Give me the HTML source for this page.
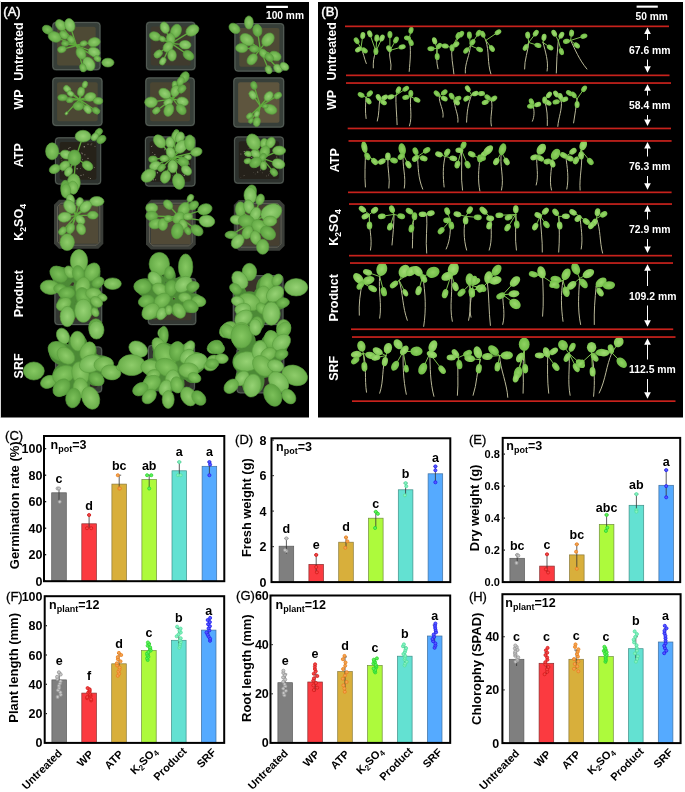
<!DOCTYPE html>
<html><head><meta charset="utf-8"><style>
html,body{margin:0;padding:0;background:#fff;width:685px;height:792px;overflow:hidden;}
svg{display:block;will-change:transform;}
</style></head><body>
<svg width="685" height="792" viewBox="0 0 685 792">
<rect x="0" y="0" width="685" height="792" fill="#ffffff"/>
<rect x="0" y="1" width="1" height="417" fill="#d8d8d8"/>
<rect x="1" y="2" width="308" height="415.5" fill="#000"/>
<rect x="318" y="2" width="365" height="415.5" fill="#000"/>
<rect x="52.1" y="21.8" width="48.6" height="48.6" rx="4" fill="#363e38"/>
<rect x="52.9" y="22.6" width="47.0" height="47.0" rx="3" fill="none" stroke="#59625b" stroke-width="0.9"/>
<rect x="57.1" y="26.8" width="38.6" height="38.6" rx="2" fill="#4e4a35"/>
<rect x="145.8" y="21.6" width="49.9" height="48.8" rx="4" fill="#363e38"/>
<rect x="146.6" y="22.4" width="48.3" height="47.2" rx="3" fill="none" stroke="#59625b" stroke-width="0.9"/>
<rect x="150.8" y="26.6" width="39.9" height="38.8" rx="2" fill="#403b2e"/>
<rect x="234.2" y="22.9" width="50.2" height="48.9" rx="4" fill="#363e38"/>
<rect x="235.0" y="23.7" width="48.6" height="47.3" rx="3" fill="none" stroke="#59625b" stroke-width="0.9"/>
<rect x="239.2" y="27.9" width="40.2" height="38.9" rx="2" fill="#4e4a35"/>
<rect x="52.1" y="77.2" width="50.6" height="49.0" rx="4" fill="#363e38"/>
<rect x="52.9" y="78.0" width="49.0" height="47.4" rx="3" fill="none" stroke="#59625b" stroke-width="0.9"/>
<rect x="57.1" y="82.2" width="40.6" height="39.0" rx="2" fill="#4c4834"/>
<rect x="145.1" y="77.2" width="49.9" height="49.0" rx="4" fill="#363e38"/>
<rect x="145.9" y="78.0" width="48.3" height="47.4" rx="3" fill="none" stroke="#59625b" stroke-width="0.9"/>
<rect x="150.1" y="82.2" width="39.9" height="39.0" rx="2" fill="#4a4532"/>
<rect x="233.1" y="77.2" width="51.3" height="50.6" rx="4" fill="#373f39"/>
<rect x="233.9" y="78.0" width="49.7" height="49.0" rx="3" fill="none" stroke="#59625b" stroke-width="0.9"/>
<rect x="238.1" y="82.2" width="41.3" height="40.6" rx="2" fill="#5e553e"/>
<rect x="54.7" y="137.1" width="46.7" height="47.7" rx="4" fill="#2c312d"/>
<rect x="55.5" y="137.9" width="45.1" height="46.1" rx="3" fill="none" stroke="#59625b" stroke-width="0.9"/>
<rect x="59.7" y="142.1" width="36.7" height="37.7" rx="2" fill="#262219"/>
<rect x="144.7" y="136.2" width="51.0" height="50.6" rx="4" fill="#2c312d"/>
<rect x="145.5" y="137.0" width="49.4" height="49.0" rx="3" fill="none" stroke="#59625b" stroke-width="0.9"/>
<rect x="149.7" y="141.2" width="41.0" height="40.6" rx="2" fill="#25211a"/>
<rect x="233.8" y="136.2" width="50.3" height="47.7" rx="4" fill="#2c312d"/>
<rect x="234.6" y="137.0" width="48.7" height="46.1" rx="3" fill="none" stroke="#59625b" stroke-width="0.9"/>
<rect x="238.8" y="141.2" width="40.3" height="37.7" rx="2" fill="#25211a"/>
<polygon points="59.0,199.7 98.3,199.7 103.3,204.7 103.3,243.7 98.3,248.7 59.0,248.7 54.0,243.7 54.0,204.7" fill="#3a3d38"/>
<polygon points="61.0,203.2 96.3,203.2 99.8,206.7 99.8,241.7 96.3,245.2 61.0,245.2 57.5,241.7 57.5,206.7" fill="none" stroke="#6a685c" stroke-width="0.8"/>
<rect x="59.0" y="204.7" width="39.3" height="39.0" fill="#514a37"/>
<polygon points="151.0,199.7 190.7,199.7 195.7,204.7 195.7,244.4 190.7,249.4 151.0,249.4 146.0,244.4 146.0,204.7" fill="#3a3d38"/>
<polygon points="153.0,203.2 188.7,203.2 192.2,206.7 192.2,242.4 188.7,245.9 153.0,245.9 149.5,242.4 149.5,206.7" fill="none" stroke="#6a685c" stroke-width="0.8"/>
<rect x="151.0" y="204.7" width="39.7" height="39.7" fill="#514a37"/>
<polygon points="238.8,200.1 279.6,200.1 284.6,205.1 284.6,245.7 279.6,250.7 238.8,250.7 233.8,245.7 233.8,205.1" fill="#3a3d38"/>
<polygon points="240.8,203.6 277.6,203.6 281.1,207.1 281.1,243.7 277.6,247.2 240.8,247.2 237.3,243.7 237.3,207.1" fill="none" stroke="#6a685c" stroke-width="0.8"/>
<rect x="238.8" y="205.1" width="40.8" height="40.6" fill="#463f30"/>
<rect x="54.2" y="276.4" width="48.2" height="48.9" rx="4" fill="#333833"/>
<rect x="55.0" y="277.2" width="46.6" height="47.3" rx="3" fill="none" stroke="#59625b" stroke-width="0.9"/>
<rect x="59.2" y="281.4" width="38.2" height="38.9" rx="2" fill="#3a3329"/>
<rect x="147.6" y="277.8" width="48.9" height="47.5" rx="4" fill="#333833"/>
<rect x="148.4" y="278.6" width="47.3" height="45.9" rx="3" fill="none" stroke="#59625b" stroke-width="0.9"/>
<rect x="152.6" y="282.8" width="38.9" height="37.5" rx="2" fill="#3f372c"/>
<rect x="232.6" y="274.9" width="51.1" height="50.4" rx="4" fill="#333833"/>
<rect x="233.4" y="275.7" width="49.5" height="48.8" rx="3" fill="none" stroke="#59625b" stroke-width="0.9"/>
<rect x="237.6" y="279.9" width="41.1" height="40.4" rx="2" fill="#3a3329"/>
<rect x="54.9" y="346.2" width="47.5" height="46.7" rx="4" fill="#333833"/>
<rect x="55.7" y="347.0" width="45.9" height="45.1" rx="3" fill="none" stroke="#59625b" stroke-width="0.9"/>
<rect x="59.9" y="351.2" width="37.5" height="36.7" rx="2" fill="#2e2a24"/>
<rect x="147.7" y="344.7" width="47.5" height="46.7" rx="4" fill="#333833"/>
<rect x="148.5" y="345.5" width="45.9" height="45.1" rx="3" fill="none" stroke="#59625b" stroke-width="0.9"/>
<rect x="152.7" y="349.7" width="37.5" height="36.7" rx="2" fill="#2e2a24"/>
<rect x="236.3" y="346.9" width="48.2" height="46.7" rx="4" fill="#333833"/>
<rect x="237.1" y="347.7" width="46.6" height="45.1" rx="3" fill="none" stroke="#59625b" stroke-width="0.9"/>
<rect x="241.3" y="351.9" width="38.2" height="36.7" rx="2" fill="#2e2a24"/>
<circle cx="69.0" cy="162.5" r="0.4" fill="#a09a8c"/>
<circle cx="77.1" cy="163.8" r="0.5" fill="#6e685e"/>
<circle cx="69.7" cy="151.5" r="0.7" fill="#6e685e"/>
<circle cx="79.5" cy="162.7" r="0.5" fill="#8a8478"/>
<circle cx="68.7" cy="148.5" r="0.7" fill="#6e685e"/>
<circle cx="86.4" cy="167.1" r="0.3" fill="#a09a8c"/>
<circle cx="62.2" cy="170.9" r="0.6" fill="#6e685e"/>
<circle cx="77.1" cy="168.8" r="0.7" fill="#a09a8c"/>
<circle cx="88.0" cy="158.3" r="0.6" fill="#a09a8c"/>
<circle cx="76.1" cy="176.5" r="0.7" fill="#8a8478"/>
<circle cx="61.9" cy="160.8" r="0.4" fill="#a09a8c"/>
<circle cx="75.8" cy="165.5" r="0.4" fill="#a09a8c"/>
<circle cx="89.6" cy="163.6" r="0.5" fill="#6e685e"/>
<circle cx="81.0" cy="175.4" r="0.6" fill="#8a8478"/>
<circle cx="90.4" cy="178.5" r="0.6" fill="#8a8478"/>
<circle cx="84.9" cy="154.8" r="0.5" fill="#a09a8c"/>
<circle cx="80.4" cy="168.6" r="0.4" fill="#a09a8c"/>
<circle cx="70.0" cy="147.5" r="0.5" fill="#a09a8c"/>
<circle cx="95.0" cy="146.3" r="0.6" fill="#6e685e"/>
<circle cx="91.8" cy="143.8" r="0.5" fill="#6e685e"/>
<circle cx="91.0" cy="144.7" r="0.5" fill="#8a8478"/>
<circle cx="73.8" cy="164.0" r="0.5" fill="#6e685e"/>
<circle cx="78.2" cy="178.7" r="0.4" fill="#8a8478"/>
<circle cx="64.5" cy="162.2" r="0.7" fill="#6e685e"/>
<circle cx="70.8" cy="152.5" r="0.6" fill="#6e685e"/>
<circle cx="71.6" cy="177.3" r="0.7" fill="#6e685e"/>
<circle cx="73.8" cy="174.2" r="0.5" fill="#a09a8c"/>
<circle cx="84.3" cy="146.8" r="0.7" fill="#a09a8c"/>
<circle cx="70.1" cy="165.7" r="0.6" fill="#6e685e"/>
<circle cx="75.9" cy="152.3" r="0.4" fill="#6e685e"/>
<circle cx="61.1" cy="157.9" r="0.5" fill="#8a8478"/>
<circle cx="73.8" cy="164.1" r="0.4" fill="#a09a8c"/>
<circle cx="82.5" cy="159.7" r="0.6" fill="#6e685e"/>
<circle cx="81.8" cy="153.1" r="0.5" fill="#a09a8c"/>
<circle cx="62.8" cy="167.2" r="0.7" fill="#6e685e"/>
<circle cx="82.5" cy="153.8" r="0.5" fill="#8a8478"/>
<circle cx="73.3" cy="154.3" r="0.4" fill="#a09a8c"/>
<circle cx="69.9" cy="171.2" r="0.3" fill="#8a8478"/>
<circle cx="94.4" cy="167.5" r="0.4" fill="#a09a8c"/>
<circle cx="68.4" cy="171.8" r="0.4" fill="#8a8478"/>
<circle cx="84.2" cy="166.3" r="0.3" fill="#a09a8c"/>
<circle cx="71.9" cy="155.0" r="0.6" fill="#6e685e"/>
<circle cx="88.8" cy="177.4" r="0.3" fill="#a09a8c"/>
<circle cx="83.3" cy="174.7" r="0.5" fill="#8a8478"/>
<circle cx="88.0" cy="144.3" r="0.7" fill="#6e685e"/>
<circle cx="182.2" cy="174.6" r="0.4" fill="#6e685e"/>
<circle cx="164.0" cy="174.2" r="0.3" fill="#a09a8c"/>
<circle cx="164.2" cy="147.2" r="0.4" fill="#6e685e"/>
<circle cx="168.8" cy="166.7" r="0.4" fill="#a09a8c"/>
<circle cx="166.7" cy="177.7" r="0.4" fill="#8a8478"/>
<circle cx="169.3" cy="174.3" r="0.5" fill="#a09a8c"/>
<circle cx="167.6" cy="178.9" r="0.7" fill="#8a8478"/>
<circle cx="152.0" cy="159.8" r="0.6" fill="#a09a8c"/>
<circle cx="170.9" cy="153.4" r="0.4" fill="#8a8478"/>
<circle cx="184.3" cy="175.3" r="0.7" fill="#8a8478"/>
<circle cx="182.3" cy="143.9" r="0.7" fill="#a09a8c"/>
<circle cx="170.7" cy="149.9" r="0.7" fill="#6e685e"/>
<circle cx="173.2" cy="142.7" r="0.6" fill="#8a8478"/>
<circle cx="170.3" cy="151.4" r="0.3" fill="#a09a8c"/>
<circle cx="166.8" cy="178.4" r="0.5" fill="#6e685e"/>
<circle cx="155.6" cy="179.7" r="0.5" fill="#8a8478"/>
<circle cx="164.4" cy="149.8" r="0.5" fill="#8a8478"/>
<circle cx="157.4" cy="172.8" r="0.7" fill="#8a8478"/>
<circle cx="182.8" cy="142.5" r="0.6" fill="#6e685e"/>
<circle cx="152.6" cy="152.7" r="0.4" fill="#a09a8c"/>
<circle cx="171.0" cy="144.2" r="0.4" fill="#8a8478"/>
<circle cx="184.1" cy="172.1" r="0.3" fill="#8a8478"/>
<circle cx="153.4" cy="179.8" r="0.6" fill="#8a8478"/>
<circle cx="170.8" cy="161.1" r="0.4" fill="#8a8478"/>
<circle cx="164.4" cy="167.2" r="0.5" fill="#6e685e"/>
<circle cx="161.0" cy="180.3" r="0.5" fill="#8a8478"/>
<circle cx="172.4" cy="169.8" r="0.5" fill="#8a8478"/>
<circle cx="172.8" cy="143.9" r="0.5" fill="#a09a8c"/>
<circle cx="181.2" cy="156.9" r="0.6" fill="#a09a8c"/>
<circle cx="185.3" cy="144.2" r="0.6" fill="#a09a8c"/>
<circle cx="163.0" cy="178.9" r="0.5" fill="#8a8478"/>
<circle cx="160.3" cy="162.9" r="0.6" fill="#8a8478"/>
<circle cx="182.0" cy="150.9" r="0.4" fill="#8a8478"/>
<circle cx="187.2" cy="156.6" r="0.7" fill="#6e685e"/>
<circle cx="155.4" cy="168.9" r="0.7" fill="#a09a8c"/>
<circle cx="176.5" cy="176.5" r="0.6" fill="#a09a8c"/>
<circle cx="154.9" cy="154.5" r="0.5" fill="#a09a8c"/>
<circle cx="178.6" cy="160.5" r="0.4" fill="#6e685e"/>
<circle cx="152.4" cy="145.7" r="0.3" fill="#6e685e"/>
<circle cx="157.7" cy="143.1" r="0.6" fill="#8a8478"/>
<circle cx="151.7" cy="146.6" r="0.5" fill="#a09a8c"/>
<circle cx="187.8" cy="164.6" r="0.6" fill="#8a8478"/>
<circle cx="189.6" cy="164.0" r="0.5" fill="#8a8478"/>
<circle cx="154.9" cy="171.1" r="0.7" fill="#8a8478"/>
<circle cx="172.2" cy="175.8" r="0.4" fill="#8a8478"/>
<circle cx="249.1" cy="148.6" r="0.4" fill="#a09a8c"/>
<circle cx="266.6" cy="175.9" r="0.4" fill="#a09a8c"/>
<circle cx="255.0" cy="154.7" r="0.5" fill="#8a8478"/>
<circle cx="254.2" cy="150.6" r="0.7" fill="#a09a8c"/>
<circle cx="276.8" cy="157.0" r="0.5" fill="#a09a8c"/>
<circle cx="265.6" cy="160.7" r="0.5" fill="#a09a8c"/>
<circle cx="255.2" cy="173.9" r="0.4" fill="#6e685e"/>
<circle cx="268.5" cy="174.9" r="0.5" fill="#6e685e"/>
<circle cx="262.3" cy="172.8" r="0.4" fill="#8a8478"/>
<circle cx="245.4" cy="160.6" r="0.7" fill="#a09a8c"/>
<circle cx="260.4" cy="170.0" r="0.6" fill="#6e685e"/>
<circle cx="262.6" cy="163.1" r="0.7" fill="#8a8478"/>
<circle cx="251.6" cy="151.8" r="0.6" fill="#8a8478"/>
<circle cx="246.4" cy="155.1" r="0.4" fill="#8a8478"/>
<circle cx="255.8" cy="167.1" r="0.6" fill="#8a8478"/>
<circle cx="257.7" cy="172.0" r="0.6" fill="#a09a8c"/>
<circle cx="240.9" cy="177.6" r="0.3" fill="#6e685e"/>
<circle cx="269.8" cy="173.7" r="0.3" fill="#8a8478"/>
<circle cx="273.9" cy="165.3" r="0.6" fill="#8a8478"/>
<circle cx="276.5" cy="172.7" r="0.4" fill="#8a8478"/>
<circle cx="269.5" cy="147.1" r="0.5" fill="#a09a8c"/>
<circle cx="272.7" cy="174.3" r="0.4" fill="#8a8478"/>
<circle cx="251.8" cy="157.3" r="0.6" fill="#8a8478"/>
<circle cx="244.3" cy="151.6" r="0.7" fill="#8a8478"/>
<circle cx="253.5" cy="162.9" r="0.6" fill="#8a8478"/>
<circle cx="240.9" cy="154.0" r="0.5" fill="#8a8478"/>
<circle cx="247.8" cy="163.1" r="0.7" fill="#6e685e"/>
<circle cx="244.6" cy="153.6" r="0.7" fill="#8a8478"/>
<circle cx="265.3" cy="146.2" r="0.7" fill="#6e685e"/>
<circle cx="243.5" cy="175.8" r="0.4" fill="#6e685e"/>
<circle cx="268.8" cy="152.8" r="0.6" fill="#a09a8c"/>
<circle cx="276.0" cy="171.4" r="0.3" fill="#6e685e"/>
<circle cx="265.6" cy="161.3" r="0.3" fill="#6e685e"/>
<circle cx="259.3" cy="144.3" r="0.4" fill="#a09a8c"/>
<circle cx="261.5" cy="148.7" r="0.6" fill="#a09a8c"/>
<circle cx="245.5" cy="155.4" r="0.7" fill="#6e685e"/>
<circle cx="244.5" cy="175.5" r="0.4" fill="#6e685e"/>
<circle cx="264.5" cy="165.4" r="0.5" fill="#6e685e"/>
<circle cx="264.6" cy="158.5" r="0.4" fill="#8a8478"/>
<circle cx="266.8" cy="146.0" r="0.4" fill="#a09a8c"/>
<circle cx="260.6" cy="168.6" r="0.4" fill="#6e685e"/>
<circle cx="250.2" cy="144.1" r="0.4" fill="#6e685e"/>
<circle cx="259.1" cy="151.0" r="0.6" fill="#6e685e"/>
<circle cx="273.3" cy="175.9" r="0.5" fill="#8a8478"/>
<circle cx="253.3" cy="172.4" r="0.3" fill="#6e685e"/>
<defs><radialGradient id="lg0"><stop offset="0" stop-color="#86c862"/><stop offset="1" stop-color="#64aa46"/></radialGradient><radialGradient id="lg1"><stop offset="0" stop-color="#8ecc6a"/><stop offset="1" stop-color="#6aae4a"/></radialGradient><radialGradient id="lg2"><stop offset="0" stop-color="#7cc05a"/><stop offset="1" stop-color="#5ca240"/></radialGradient><radialGradient id="lg3"><stop offset="0" stop-color="#96d274"/><stop offset="1" stop-color="#70b452"/></radialGradient><radialGradient id="sg0"><stop offset="0" stop-color="#9ad86c"/><stop offset="1" stop-color="#78c24c"/></radialGradient><radialGradient id="sg1"><stop offset="0" stop-color="#a2dc74"/><stop offset="1" stop-color="#80c854"/></radialGradient><radialGradient id="sg2"><stop offset="0" stop-color="#90d262"/><stop offset="1" stop-color="#70bc46"/></radialGradient></defs>
<g>
<path d="M76.5 45.5L60.6 25.1" stroke="#5faa3c" stroke-width="1.3" fill="none"/>
<path d="M76.5 45.5L69.8 25.1" stroke="#5faa3c" stroke-width="1.3" fill="none"/>
<path d="M76.5 45.5L54.7 36.9" stroke="#5faa3c" stroke-width="1.3" fill="none"/>
<path d="M76.5 45.5L63.9 35.0" stroke="#5faa3c" stroke-width="1.3" fill="none"/>
<path d="M76.5 45.5L71.1 39.6" stroke="#5faa3c" stroke-width="1.3" fill="none"/>
<path d="M76.5 45.5L65.2 43.5" stroke="#5faa3c" stroke-width="1.3" fill="none"/>
<path d="M76.5 45.5L61.9 49.4" stroke="#5faa3c" stroke-width="1.3" fill="none"/>
<path d="M76.5 45.5L94.1 42.2" stroke="#5faa3c" stroke-width="1.3" fill="none"/>
<path d="M76.5 45.5L83.6 43.5" stroke="#5faa3c" stroke-width="1.3" fill="none"/>
<path d="M76.5 45.5L81.0 53.4" stroke="#5faa3c" stroke-width="1.3" fill="none"/>
<path d="M76.5 45.5L94.1 52.0" stroke="#5faa3c" stroke-width="1.3" fill="none"/>
<path d="M76.5 45.5L88.9 63.9" stroke="#5faa3c" stroke-width="1.3" fill="none"/>
<path d="M76.5 45.5L83.0 67.8" stroke="#5faa3c" stroke-width="1.3" fill="none"/>
<path d="M76.5 45.5L97.4 58.6" stroke="#5faa3c" stroke-width="1.3" fill="none"/>
<ellipse cx="47.5" cy="29.7" rx="5.4" ry="4.1" transform="rotate(-151 47.5 29.7)" fill="url(#lg2)" stroke="#5a9e3e" stroke-width="0.6"/>
<ellipse cx="60.6" cy="25.1" rx="6.1" ry="4.5" transform="rotate(-128 60.6 25.1)" fill="url(#lg1)" stroke="#5a9e3e" stroke-width="0.6"/>
<ellipse cx="69.8" cy="25.1" rx="6.7" ry="5.0" transform="rotate(-108 69.8 25.1)" fill="url(#lg3)" stroke="#5a9e3e" stroke-width="0.6"/>
<ellipse cx="54.7" cy="36.9" rx="6.7" ry="5.0" transform="rotate(-158 54.7 36.9)" fill="url(#lg0)" stroke="#5a9e3e" stroke-width="0.6"/>
<ellipse cx="63.9" cy="35.0" rx="4.8" ry="3.6" transform="rotate(-140 63.9 35.0)" fill="url(#lg0)" stroke="#5a9e3e" stroke-width="0.6"/>
<ellipse cx="71.1" cy="39.6" rx="4.2" ry="3.2" transform="rotate(-133 71.1 39.6)" fill="url(#lg0)" stroke="#5a9e3e" stroke-width="0.6"/>
<ellipse cx="65.2" cy="43.5" rx="3.6" ry="2.7" transform="rotate(-170 65.2 43.5)" fill="url(#lg2)" stroke="#5a9e3e" stroke-width="0.6"/>
<ellipse cx="61.9" cy="49.4" rx="4.2" ry="3.2" transform="rotate(165 61.9 49.4)" fill="url(#lg0)" stroke="#5a9e3e" stroke-width="0.6"/>
<ellipse cx="94.1" cy="42.2" rx="6.1" ry="4.5" transform="rotate(-11 94.1 42.2)" fill="url(#lg1)" stroke="#5a9e3e" stroke-width="0.6"/>
<ellipse cx="83.6" cy="43.5" rx="3.6" ry="2.7" transform="rotate(-16 83.6 43.5)" fill="url(#lg0)" stroke="#5a9e3e" stroke-width="0.6"/>
<ellipse cx="81.0" cy="53.4" rx="6.1" ry="4.5" transform="rotate(61 81.0 53.4)" fill="url(#lg0)" stroke="#5a9e3e" stroke-width="0.6"/>
<ellipse cx="94.1" cy="52.0" rx="6.1" ry="4.5" transform="rotate(20 94.1 52.0)" fill="url(#lg3)" stroke="#5a9e3e" stroke-width="0.6"/>
<ellipse cx="88.9" cy="63.9" rx="7.3" ry="5.4" transform="rotate(56 88.9 63.9)" fill="url(#lg3)" stroke="#5a9e3e" stroke-width="0.6"/>
<ellipse cx="83.0" cy="67.8" rx="4.2" ry="3.2" transform="rotate(74 83.0 67.8)" fill="url(#lg0)" stroke="#5a9e3e" stroke-width="0.6"/>
<ellipse cx="107.9" cy="62.6" rx="6.1" ry="4.4" transform="rotate(0 107.9 62.6)" fill="url(#lg1)" stroke="#5a9e3e" stroke-width="0.6"/>
<ellipse cx="97.4" cy="58.6" rx="3.6" ry="2.7" transform="rotate(32 97.4 58.6)" fill="url(#lg0)" stroke="#5a9e3e" stroke-width="0.6"/>
<path d="M171.3 43.4L164.8 27.7" stroke="#5faa3c" stroke-width="1.3" fill="none"/>
<path d="M171.3 43.4L155.0 36.3" stroke="#5faa3c" stroke-width="1.3" fill="none"/>
<path d="M171.3 43.4L176.0 31.0" stroke="#5faa3c" stroke-width="1.3" fill="none"/>
<path d="M171.3 43.4L192.4 30.4" stroke="#5faa3c" stroke-width="1.3" fill="none"/>
<path d="M171.3 43.4L170.7 38.9" stroke="#5faa3c" stroke-width="1.3" fill="none"/>
<path d="M171.3 43.4L185.2 44.8" stroke="#5faa3c" stroke-width="1.3" fill="none"/>
<path d="M171.3 43.4L162.2 38.9" stroke="#5faa3c" stroke-width="1.3" fill="none"/>
<path d="M171.3 43.4L168.1 46.8" stroke="#5faa3c" stroke-width="1.3" fill="none"/>
<path d="M171.3 43.4L158.2 54.0" stroke="#5faa3c" stroke-width="1.3" fill="none"/>
<path d="M171.3 43.4L172.0 55.3" stroke="#5faa3c" stroke-width="1.3" fill="none"/>
<path d="M171.3 43.4L188.5 55.3" stroke="#5faa3c" stroke-width="1.3" fill="none"/>
<path d="M171.3 43.4L162.8 61.2" stroke="#5faa3c" stroke-width="1.3" fill="none"/>
<ellipse cx="164.8" cy="27.7" rx="5.8" ry="4.3" transform="rotate(-113 164.8 27.7)" fill="url(#lg3)" stroke="#5a9e3e" stroke-width="0.6"/>
<ellipse cx="155.0" cy="36.3" rx="5.8" ry="4.3" transform="rotate(-157 155.0 36.3)" fill="url(#lg0)" stroke="#5a9e3e" stroke-width="0.6"/>
<ellipse cx="176.0" cy="31.0" rx="6.9" ry="5.2" transform="rotate(-69 176.0 31.0)" fill="url(#lg0)" stroke="#5a9e3e" stroke-width="0.6"/>
<ellipse cx="192.4" cy="30.4" rx="6.9" ry="5.2" transform="rotate(-32 192.4 30.4)" fill="url(#lg1)" stroke="#5a9e3e" stroke-width="0.6"/>
<ellipse cx="170.7" cy="38.9" rx="5.8" ry="4.3" transform="rotate(-98 170.7 38.9)" fill="url(#lg0)" stroke="#5a9e3e" stroke-width="0.6"/>
<ellipse cx="185.2" cy="44.8" rx="5.8" ry="4.3" transform="rotate(6 185.2 44.8)" fill="url(#lg3)" stroke="#5a9e3e" stroke-width="0.6"/>
<ellipse cx="162.2" cy="38.9" rx="3.5" ry="2.6" transform="rotate(-154 162.2 38.9)" fill="url(#lg0)" stroke="#5a9e3e" stroke-width="0.6"/>
<ellipse cx="168.1" cy="46.8" rx="5.8" ry="4.3" transform="rotate(133 168.1 46.8)" fill="url(#lg1)" stroke="#5a9e3e" stroke-width="0.6"/>
<ellipse cx="158.2" cy="54.0" rx="4.6" ry="3.4" transform="rotate(141 158.2 54.0)" fill="url(#lg0)" stroke="#5a9e3e" stroke-width="0.6"/>
<ellipse cx="172.0" cy="55.3" rx="5.8" ry="4.3" transform="rotate(87 172.0 55.3)" fill="url(#lg1)" stroke="#5a9e3e" stroke-width="0.6"/>
<ellipse cx="188.5" cy="55.3" rx="5.8" ry="4.3" transform="rotate(35 188.5 55.3)" fill="url(#lg2)" stroke="#5a9e3e" stroke-width="0.6"/>
<ellipse cx="162.8" cy="61.2" rx="4.0" ry="3.0" transform="rotate(116 162.8 61.2)" fill="url(#lg3)" stroke="#5a9e3e" stroke-width="0.6"/>
<path d="M260.2 49.2L257.4 30.4" stroke="#5faa3c" stroke-width="1.3" fill="none"/>
<path d="M260.2 49.2L246.9 39.6" stroke="#5faa3c" stroke-width="1.3" fill="none"/>
<path d="M260.2 49.2L241.7 48.1" stroke="#5faa3c" stroke-width="1.3" fill="none"/>
<path d="M260.2 49.2L268.0 39.6" stroke="#5faa3c" stroke-width="1.3" fill="none"/>
<path d="M260.2 49.2L254.2 48.8" stroke="#5faa3c" stroke-width="1.3" fill="none"/>
<path d="M260.2 49.2L263.4 53.4" stroke="#5faa3c" stroke-width="1.3" fill="none"/>
<path d="M260.2 49.2L252.2 59.3" stroke="#5faa3c" stroke-width="1.3" fill="none"/>
<path d="M260.2 49.2L275.2 56.0" stroke="#5faa3c" stroke-width="1.3" fill="none"/>
<path d="M260.2 49.2L268.6 69.8" stroke="#5faa3c" stroke-width="1.3" fill="none"/>
<path d="M260.2 49.2L277.8 68.5" stroke="#5faa3c" stroke-width="1.3" fill="none"/>
<path d="M260.2 49.2L269.3 57.3" stroke="#5faa3c" stroke-width="1.3" fill="none"/>
<ellipse cx="248.9" cy="22.5" rx="4.4" ry="6.6" transform="rotate(0 248.9 22.5)" fill="url(#lg1)" stroke="#5a9e3e" stroke-width="0.6"/>
<ellipse cx="234.5" cy="28.4" rx="6.1" ry="4.5" transform="rotate(-141 234.5 28.4)" fill="url(#lg0)" stroke="#5a9e3e" stroke-width="0.6"/>
<ellipse cx="257.4" cy="30.4" rx="6.1" ry="4.5" transform="rotate(-98 257.4 30.4)" fill="url(#lg2)" stroke="#5a9e3e" stroke-width="0.6"/>
<ellipse cx="246.9" cy="39.6" rx="7.3" ry="5.4" transform="rotate(-144 246.9 39.6)" fill="url(#lg1)" stroke="#5a9e3e" stroke-width="0.6"/>
<ellipse cx="241.7" cy="48.1" rx="6.1" ry="4.5" transform="rotate(-177 241.7 48.1)" fill="url(#lg0)" stroke="#5a9e3e" stroke-width="0.6"/>
<ellipse cx="268.0" cy="39.6" rx="7.3" ry="5.4" transform="rotate(-51 268.0 39.6)" fill="url(#lg1)" stroke="#5a9e3e" stroke-width="0.6"/>
<ellipse cx="254.2" cy="48.8" rx="4.8" ry="3.6" transform="rotate(-177 254.2 48.8)" fill="url(#lg2)" stroke="#5a9e3e" stroke-width="0.6"/>
<ellipse cx="263.4" cy="53.4" rx="4.8" ry="3.6" transform="rotate(53 263.4 53.4)" fill="url(#lg0)" stroke="#5a9e3e" stroke-width="0.6"/>
<ellipse cx="252.2" cy="59.3" rx="6.1" ry="4.5" transform="rotate(128 252.2 59.3)" fill="url(#lg0)" stroke="#5a9e3e" stroke-width="0.6"/>
<ellipse cx="275.2" cy="56.0" rx="6.1" ry="4.5" transform="rotate(24 275.2 56.0)" fill="url(#lg0)" stroke="#5a9e3e" stroke-width="0.6"/>
<ellipse cx="268.6" cy="69.8" rx="4.2" ry="3.2" transform="rotate(68 268.6 69.8)" fill="url(#lg1)" stroke="#5a9e3e" stroke-width="0.6"/>
<ellipse cx="277.8" cy="68.5" rx="4.8" ry="3.6" transform="rotate(48 277.8 68.5)" fill="url(#lg3)" stroke="#5a9e3e" stroke-width="0.6"/>
<ellipse cx="284.4" cy="66.5" rx="4.8" ry="3.6" transform="rotate(36 284.4 66.5)" fill="url(#lg3)" stroke="#5a9e3e" stroke-width="0.6"/>
<ellipse cx="269.3" cy="57.3" rx="4.8" ry="3.6" transform="rotate(42 269.3 57.3)" fill="url(#lg2)" stroke="#5a9e3e" stroke-width="0.6"/>
<path d="M79.4 99.5L67.2 89.0" stroke="#5faa3c" stroke-width="1.3" fill="none"/>
<path d="M79.4 99.5L70.5 93.6" stroke="#5faa3c" stroke-width="1.3" fill="none"/>
<path d="M79.4 99.5L62.6 97.6" stroke="#5faa3c" stroke-width="1.3" fill="none"/>
<path d="M79.4 99.5L69.8 100.2" stroke="#5faa3c" stroke-width="1.3" fill="none"/>
<path d="M79.4 99.5L84.9 84.5" stroke="#5faa3c" stroke-width="1.3" fill="none"/>
<path d="M79.4 99.5L81.0 91.7" stroke="#5faa3c" stroke-width="1.3" fill="none"/>
<path d="M79.4 99.5L90.2 96.9" stroke="#5faa3c" stroke-width="1.3" fill="none"/>
<path d="M79.4 99.5L98.1 100.9" stroke="#5faa3c" stroke-width="1.3" fill="none"/>
<path d="M79.4 99.5L78.4 106.1" stroke="#5faa3c" stroke-width="1.3" fill="none"/>
<path d="M79.4 99.5L87.6 109.4" stroke="#5faa3c" stroke-width="1.3" fill="none"/>
<path d="M79.4 99.5L96.1 110.7" stroke="#5faa3c" stroke-width="1.3" fill="none"/>
<path d="M79.4 99.5L66.5 113.4" stroke="#5faa3c" stroke-width="1.3" fill="none"/>
<ellipse cx="67.2" cy="89.0" rx="4.0" ry="3.0" transform="rotate(-139 67.2 89.0)" fill="url(#lg3)" stroke="#5a9e3e" stroke-width="0.6"/>
<ellipse cx="70.5" cy="93.6" rx="3.5" ry="2.6" transform="rotate(-146 70.5 93.6)" fill="url(#lg3)" stroke="#5a9e3e" stroke-width="0.6"/>
<ellipse cx="62.6" cy="97.6" rx="4.7" ry="3.2" transform="rotate(0 62.6 97.6)" fill="url(#lg2)" stroke="#5a9e3e" stroke-width="0.6"/>
<ellipse cx="69.8" cy="100.2" rx="3.5" ry="2.6" transform="rotate(176 69.8 100.2)" fill="url(#lg2)" stroke="#5a9e3e" stroke-width="0.6"/>
<ellipse cx="84.9" cy="84.5" rx="3.5" ry="2.6" transform="rotate(-70 84.9 84.5)" fill="url(#lg1)" stroke="#5a9e3e" stroke-width="0.6"/>
<ellipse cx="81.0" cy="91.7" rx="4.6" ry="3.4" transform="rotate(-78 81.0 91.7)" fill="url(#lg1)" stroke="#5a9e3e" stroke-width="0.6"/>
<ellipse cx="90.2" cy="96.9" rx="5.8" ry="4.3" transform="rotate(-14 90.2 96.9)" fill="url(#lg1)" stroke="#5a9e3e" stroke-width="0.6"/>
<ellipse cx="98.1" cy="100.9" rx="4.6" ry="3.4" transform="rotate(4 98.1 100.9)" fill="url(#lg0)" stroke="#5a9e3e" stroke-width="0.6"/>
<ellipse cx="78.4" cy="106.1" rx="5.2" ry="4.2" transform="rotate(0 78.4 106.1)" fill="url(#lg2)" stroke="#5a9e3e" stroke-width="0.6"/>
<ellipse cx="87.6" cy="109.4" rx="4.6" ry="3.4" transform="rotate(50 87.6 109.4)" fill="url(#lg3)" stroke="#5a9e3e" stroke-width="0.6"/>
<ellipse cx="96.1" cy="110.7" rx="4.0" ry="3.0" transform="rotate(34 96.1 110.7)" fill="url(#lg2)" stroke="#5a9e3e" stroke-width="0.6"/>
<ellipse cx="66.5" cy="113.4" rx="1.7" ry="1.3" transform="rotate(133 66.5 113.4)" fill="url(#lg3)" stroke="#5a9e3e" stroke-width="0.6"/>
<path d="M172.8 98.9L184.5 77.2" stroke="#5faa3c" stroke-width="1.3" fill="none"/>
<path d="M172.8 98.9L180.6 81.2" stroke="#5faa3c" stroke-width="1.3" fill="none"/>
<path d="M172.8 98.9L174.7 84.5" stroke="#5faa3c" stroke-width="1.3" fill="none"/>
<path d="M172.8 98.9L164.8 93.6" stroke="#5faa3c" stroke-width="1.3" fill="none"/>
<path d="M172.8 98.9L175.3 91.0" stroke="#5faa3c" stroke-width="1.3" fill="none"/>
<path d="M172.8 98.9L181.9 89.0" stroke="#5faa3c" stroke-width="1.3" fill="none"/>
<path d="M172.8 98.9L151.0 102.2" stroke="#5faa3c" stroke-width="1.3" fill="none"/>
<path d="M172.8 98.9L168.1 102.2" stroke="#5faa3c" stroke-width="1.3" fill="none"/>
<path d="M172.8 98.9L182.6 101.5" stroke="#5faa3c" stroke-width="1.3" fill="none"/>
<path d="M172.8 98.9L156.3 110.7" stroke="#5faa3c" stroke-width="1.3" fill="none"/>
<path d="M172.8 98.9L168.8 110.1" stroke="#5faa3c" stroke-width="1.3" fill="none"/>
<path d="M172.8 98.9L181.2 109.4" stroke="#5faa3c" stroke-width="1.3" fill="none"/>
<ellipse cx="184.5" cy="77.2" rx="5.8" ry="4.3" transform="rotate(-62 184.5 77.2)" fill="url(#lg2)" stroke="#5a9e3e" stroke-width="0.6"/>
<ellipse cx="180.6" cy="81.2" rx="4.6" ry="3.4" transform="rotate(-66 180.6 81.2)" fill="url(#lg0)" stroke="#5a9e3e" stroke-width="0.6"/>
<ellipse cx="174.7" cy="84.5" rx="3.5" ry="2.6" transform="rotate(-82 174.7 84.5)" fill="url(#lg0)" stroke="#5a9e3e" stroke-width="0.6"/>
<ellipse cx="164.8" cy="93.6" rx="6.4" ry="4.7" transform="rotate(-147 164.8 93.6)" fill="url(#lg3)" stroke="#5a9e3e" stroke-width="0.6"/>
<ellipse cx="175.3" cy="91.0" rx="5.8" ry="4.3" transform="rotate(-72 175.3 91.0)" fill="url(#lg1)" stroke="#5a9e3e" stroke-width="0.6"/>
<ellipse cx="181.9" cy="89.0" rx="4.6" ry="3.4" transform="rotate(-47 181.9 89.0)" fill="url(#lg2)" stroke="#5a9e3e" stroke-width="0.6"/>
<ellipse cx="151.0" cy="102.2" rx="6.3" ry="5.2" transform="rotate(0 151.0 102.2)" fill="url(#lg1)" stroke="#5a9e3e" stroke-width="0.6"/>
<ellipse cx="168.1" cy="102.2" rx="4.6" ry="3.4" transform="rotate(145 168.1 102.2)" fill="url(#lg3)" stroke="#5a9e3e" stroke-width="0.6"/>
<ellipse cx="182.6" cy="101.5" rx="5.8" ry="4.3" transform="rotate(15 182.6 101.5)" fill="url(#lg3)" stroke="#5a9e3e" stroke-width="0.6"/>
<ellipse cx="156.3" cy="110.7" rx="4.0" ry="3.0" transform="rotate(144 156.3 110.7)" fill="url(#lg0)" stroke="#5a9e3e" stroke-width="0.6"/>
<ellipse cx="168.8" cy="110.1" rx="6.4" ry="4.7" transform="rotate(110 168.8 110.1)" fill="url(#lg0)" stroke="#5a9e3e" stroke-width="0.6"/>
<ellipse cx="181.2" cy="109.4" rx="5.8" ry="4.3" transform="rotate(51 181.2 109.4)" fill="url(#lg2)" stroke="#5a9e3e" stroke-width="0.6"/>
<ellipse cx="176.6" cy="133.0" rx="3.5" ry="2.6" transform="rotate(84 176.6 133.0)" fill="url(#lg2)" stroke="#5a9e3e" stroke-width="0.6"/>
<path d="M260.3 106.0L253.9 85.5" stroke="#5faa3c" stroke-width="1.3" fill="none"/>
<path d="M260.3 106.0L252.8 95.0" stroke="#5faa3c" stroke-width="1.3" fill="none"/>
<path d="M260.3 106.0L268.6 96.3" stroke="#5faa3c" stroke-width="1.3" fill="none"/>
<path d="M260.3 106.0L277.8 95.6" stroke="#5faa3c" stroke-width="1.3" fill="none"/>
<path d="M260.3 106.0L270.6 109.4" stroke="#5faa3c" stroke-width="1.3" fill="none"/>
<path d="M260.3 106.0L265.3 106.1" stroke="#5faa3c" stroke-width="1.3" fill="none"/>
<path d="M260.3 106.0L256.8 114.0" stroke="#5faa3c" stroke-width="1.3" fill="none"/>
<path d="M260.3 106.0L249.6 116.0" stroke="#5faa3c" stroke-width="1.3" fill="none"/>
<path d="M260.3 106.0L256.8 121.9" stroke="#5faa3c" stroke-width="1.3" fill="none"/>
<path d="M260.3 106.0L250.9 120.6" stroke="#5faa3c" stroke-width="1.3" fill="none"/>
<ellipse cx="253.9" cy="85.5" rx="4.0" ry="3.0" transform="rotate(-107 253.9 85.5)" fill="url(#lg2)" stroke="#5a9e3e" stroke-width="0.6"/>
<ellipse cx="252.8" cy="95.0" rx="4.6" ry="3.4" transform="rotate(-124 252.8 95.0)" fill="url(#lg3)" stroke="#5a9e3e" stroke-width="0.6"/>
<ellipse cx="268.6" cy="96.3" rx="5.2" ry="3.9" transform="rotate(-50 268.6 96.3)" fill="url(#lg3)" stroke="#5a9e3e" stroke-width="0.6"/>
<ellipse cx="277.8" cy="95.6" rx="4.0" ry="3.0" transform="rotate(-31 277.8 95.6)" fill="url(#lg0)" stroke="#5a9e3e" stroke-width="0.6"/>
<ellipse cx="270.6" cy="109.4" rx="6.4" ry="4.7" transform="rotate(18 270.6 109.4)" fill="url(#lg0)" stroke="#5a9e3e" stroke-width="0.6"/>
<ellipse cx="265.3" cy="106.1" rx="2.9" ry="2.2" transform="rotate(1 265.3 106.1)" fill="url(#lg2)" stroke="#5a9e3e" stroke-width="0.6"/>
<ellipse cx="256.8" cy="114.0" rx="3.5" ry="2.6" transform="rotate(114 256.8 114.0)" fill="url(#lg3)" stroke="#5a9e3e" stroke-width="0.6"/>
<ellipse cx="249.6" cy="116.0" rx="3.5" ry="2.6" transform="rotate(137 249.6 116.0)" fill="url(#lg0)" stroke="#5a9e3e" stroke-width="0.6"/>
<ellipse cx="256.8" cy="121.9" rx="4.6" ry="3.4" transform="rotate(102 256.8 121.9)" fill="url(#lg0)" stroke="#5a9e3e" stroke-width="0.6"/>
<ellipse cx="250.9" cy="120.6" rx="2.9" ry="2.2" transform="rotate(123 250.9 120.6)" fill="url(#lg2)" stroke="#5a9e3e" stroke-width="0.6"/>
<path d="M75.7 157.8L83.0 136.2" stroke="#5faa3c" stroke-width="1.3" fill="none"/>
<path d="M75.7 157.8L52.1 151.3" stroke="#5faa3c" stroke-width="1.3" fill="none"/>
<path d="M75.7 157.8L65.9 154.6" stroke="#5faa3c" stroke-width="1.3" fill="none"/>
<path d="M75.7 157.8L74.4 157.8" stroke="#5faa3c" stroke-width="1.3" fill="none"/>
<path d="M75.7 157.8L64.6 165.7" stroke="#5faa3c" stroke-width="1.3" fill="none"/>
<path d="M75.7 157.8L54.7 169.0" stroke="#5faa3c" stroke-width="1.3" fill="none"/>
<path d="M75.7 157.8L68.5 171.6" stroke="#5faa3c" stroke-width="1.3" fill="none"/>
<path d="M75.7 157.8L87.6 165.7" stroke="#5faa3c" stroke-width="1.3" fill="none"/>
<path d="M75.7 157.8L73.8 182.8" stroke="#5faa3c" stroke-width="1.3" fill="none"/>
<ellipse cx="83.0" cy="136.2" rx="7.8" ry="5.9" transform="rotate(0 83.0 136.2)" fill="url(#lg3)" stroke="#5a9e3e" stroke-width="0.6"/>
<ellipse cx="98.7" cy="132.2" rx="4.3" ry="3.2" transform="rotate(-48 98.7 132.2)" fill="url(#lg2)" stroke="#5a9e3e" stroke-width="0.6"/>
<ellipse cx="94.8" cy="136.8" rx="4.3" ry="3.2" transform="rotate(-48 94.8 136.8)" fill="url(#lg3)" stroke="#5a9e3e" stroke-width="0.6"/>
<ellipse cx="101.4" cy="139.5" rx="5.0" ry="3.7" transform="rotate(-35 101.4 139.5)" fill="url(#lg2)" stroke="#5a9e3e" stroke-width="0.6"/>
<ellipse cx="52.1" cy="151.3" rx="6.5" ry="8.5" transform="rotate(0 52.1 151.3)" fill="url(#lg0)" stroke="#5a9e3e" stroke-width="0.6"/>
<ellipse cx="65.9" cy="154.6" rx="5.7" ry="4.3" transform="rotate(-162 65.9 154.6)" fill="url(#lg3)" stroke="#5a9e3e" stroke-width="0.6"/>
<ellipse cx="74.4" cy="157.8" rx="6.5" ry="7.8" transform="rotate(0 74.4 157.8)" fill="url(#lg2)" stroke="#5a9e3e" stroke-width="0.6"/>
<ellipse cx="64.6" cy="165.7" rx="5.7" ry="4.3" transform="rotate(145 64.6 165.7)" fill="url(#lg1)" stroke="#5a9e3e" stroke-width="0.6"/>
<ellipse cx="54.7" cy="169.0" rx="5.7" ry="4.3" transform="rotate(152 54.7 169.0)" fill="url(#lg0)" stroke="#5a9e3e" stroke-width="0.6"/>
<ellipse cx="68.5" cy="171.6" rx="5.0" ry="3.7" transform="rotate(118 68.5 171.6)" fill="url(#lg3)" stroke="#5a9e3e" stroke-width="0.6"/>
<ellipse cx="87.6" cy="165.7" rx="5.7" ry="4.3" transform="rotate(34 87.6 165.7)" fill="url(#lg0)" stroke="#5a9e3e" stroke-width="0.6"/>
<ellipse cx="73.8" cy="182.8" rx="6.5" ry="9.1" transform="rotate(0 73.8 182.8)" fill="url(#lg1)" stroke="#5a9e3e" stroke-width="0.6"/>
<ellipse cx="65.2" cy="188.1" rx="4.5" ry="7.8" transform="rotate(0 65.2 188.1)" fill="url(#lg2)" stroke="#5a9e3e" stroke-width="0.6"/>
<path d="M172.6 157.5L159.6 141.4" stroke="#5faa3c" stroke-width="1.3" fill="none"/>
<path d="M172.6 157.5L176.0 136.2" stroke="#5faa3c" stroke-width="1.3" fill="none"/>
<path d="M172.6 157.5L179.9 137.5" stroke="#5faa3c" stroke-width="1.3" fill="none"/>
<path d="M172.6 157.5L170.1 142.7" stroke="#5faa3c" stroke-width="1.3" fill="none"/>
<path d="M172.6 157.5L181.2 146.7" stroke="#5faa3c" stroke-width="1.3" fill="none"/>
<path d="M172.6 157.5L189.8 142.7" stroke="#5faa3c" stroke-width="1.3" fill="none"/>
<path d="M172.6 157.5L196.4 151.9" stroke="#5faa3c" stroke-width="1.3" fill="none"/>
<path d="M172.6 157.5L170.7 152.6" stroke="#5faa3c" stroke-width="1.3" fill="none"/>
<path d="M172.6 157.5L187.8 157.2" stroke="#5faa3c" stroke-width="1.3" fill="none"/>
<path d="M172.6 157.5L153.0 159.2" stroke="#5faa3c" stroke-width="1.3" fill="none"/>
<path d="M172.6 157.5L164.2 158.5" stroke="#5faa3c" stroke-width="1.3" fill="none"/>
<path d="M172.6 157.5L155.0 165.7" stroke="#5faa3c" stroke-width="1.3" fill="none"/>
<path d="M172.6 157.5L161.5 167.7" stroke="#5faa3c" stroke-width="1.3" fill="none"/>
<path d="M172.6 157.5L172.7 166.4" stroke="#5faa3c" stroke-width="1.3" fill="none"/>
<path d="M172.6 157.5L183.2 161.8" stroke="#5faa3c" stroke-width="1.3" fill="none"/>
<path d="M172.6 157.5L186.5 170.3" stroke="#5faa3c" stroke-width="1.3" fill="none"/>
<path d="M172.6 157.5L165.5 176.9" stroke="#5faa3c" stroke-width="1.3" fill="none"/>
<path d="M172.6 157.5L178.6 181.5" stroke="#5faa3c" stroke-width="1.3" fill="none"/>
<ellipse cx="159.6" cy="141.4" rx="7.2" ry="5.3" transform="rotate(-129 159.6 141.4)" fill="url(#lg1)" stroke="#5a9e3e" stroke-width="0.6"/>
<ellipse cx="176.0" cy="136.2" rx="5.7" ry="4.3" transform="rotate(-81 176.0 136.2)" fill="url(#lg1)" stroke="#5a9e3e" stroke-width="0.6"/>
<ellipse cx="179.9" cy="137.5" rx="5.7" ry="4.3" transform="rotate(-70 179.9 137.5)" fill="url(#lg3)" stroke="#5a9e3e" stroke-width="0.6"/>
<ellipse cx="170.1" cy="142.7" rx="5.7" ry="4.3" transform="rotate(-100 170.1 142.7)" fill="url(#lg3)" stroke="#5a9e3e" stroke-width="0.6"/>
<ellipse cx="181.2" cy="146.7" rx="7.2" ry="5.3" transform="rotate(-52 181.2 146.7)" fill="url(#lg3)" stroke="#5a9e3e" stroke-width="0.6"/>
<ellipse cx="189.8" cy="142.7" rx="5.2" ry="7.8" transform="rotate(0 189.8 142.7)" fill="url(#lg0)" stroke="#5a9e3e" stroke-width="0.6"/>
<ellipse cx="196.4" cy="151.9" rx="5.7" ry="4.3" transform="rotate(-13 196.4 151.9)" fill="url(#lg1)" stroke="#5a9e3e" stroke-width="0.6"/>
<ellipse cx="170.7" cy="152.6" rx="5.7" ry="4.3" transform="rotate(-112 170.7 152.6)" fill="url(#lg3)" stroke="#5a9e3e" stroke-width="0.6"/>
<ellipse cx="187.8" cy="157.2" rx="3.6" ry="2.7" transform="rotate(-1 187.8 157.2)" fill="url(#lg3)" stroke="#5a9e3e" stroke-width="0.6"/>
<ellipse cx="153.0" cy="159.2" rx="4.3" ry="3.2" transform="rotate(175 153.0 159.2)" fill="url(#lg2)" stroke="#5a9e3e" stroke-width="0.6"/>
<ellipse cx="164.2" cy="158.5" rx="4.3" ry="3.2" transform="rotate(173 164.2 158.5)" fill="url(#lg1)" stroke="#5a9e3e" stroke-width="0.6"/>
<ellipse cx="155.0" cy="165.7" rx="5.7" ry="4.3" transform="rotate(155 155.0 165.7)" fill="url(#lg3)" stroke="#5a9e3e" stroke-width="0.6"/>
<ellipse cx="161.5" cy="167.7" rx="4.3" ry="3.2" transform="rotate(138 161.5 167.7)" fill="url(#lg2)" stroke="#5a9e3e" stroke-width="0.6"/>
<ellipse cx="172.7" cy="166.4" rx="6.4" ry="4.8" transform="rotate(90 172.7 166.4)" fill="url(#lg3)" stroke="#5a9e3e" stroke-width="0.6"/>
<ellipse cx="183.2" cy="161.8" rx="5.7" ry="4.3" transform="rotate(22 183.2 161.8)" fill="url(#lg2)" stroke="#5a9e3e" stroke-width="0.6"/>
<ellipse cx="186.5" cy="170.3" rx="5.7" ry="4.3" transform="rotate(43 186.5 170.3)" fill="url(#lg3)" stroke="#5a9e3e" stroke-width="0.6"/>
<ellipse cx="148.4" cy="175.6" rx="7.9" ry="5.9" transform="rotate(143 148.4 175.6)" fill="url(#lg1)" stroke="#5a9e3e" stroke-width="0.6"/>
<ellipse cx="165.5" cy="176.9" rx="6.4" ry="4.8" transform="rotate(110 165.5 176.9)" fill="url(#lg1)" stroke="#5a9e3e" stroke-width="0.6"/>
<ellipse cx="178.6" cy="181.5" rx="7.9" ry="5.9" transform="rotate(76 178.6 181.5)" fill="url(#lg0)" stroke="#5a9e3e" stroke-width="0.6"/>
<path d="M262.0 158.1L253.5 142.1" stroke="#5faa3c" stroke-width="1.3" fill="none"/>
<path d="M262.0 158.1L264.0 143.4" stroke="#5faa3c" stroke-width="1.3" fill="none"/>
<path d="M262.0 158.1L270.6 142.7" stroke="#5faa3c" stroke-width="1.3" fill="none"/>
<path d="M262.0 158.1L279.1 150.6" stroke="#5faa3c" stroke-width="1.3" fill="none"/>
<path d="M262.0 158.1L264.7 151.9" stroke="#5faa3c" stroke-width="1.3" fill="none"/>
<path d="M262.0 158.1L255.5 153.9" stroke="#5faa3c" stroke-width="1.3" fill="none"/>
<path d="M262.0 158.1L248.2 153.9" stroke="#5faa3c" stroke-width="1.3" fill="none"/>
<path d="M262.0 158.1L262.7 157.2" stroke="#5faa3c" stroke-width="1.3" fill="none"/>
<path d="M262.0 158.1L255.5 162.4" stroke="#5faa3c" stroke-width="1.3" fill="none"/>
<path d="M262.0 158.1L247.6 161.1" stroke="#5faa3c" stroke-width="1.3" fill="none"/>
<path d="M262.0 158.1L263.4 165.7" stroke="#5faa3c" stroke-width="1.3" fill="none"/>
<path d="M262.0 158.1L278.5 163.8" stroke="#5faa3c" stroke-width="1.3" fill="none"/>
<path d="M262.0 158.1L273.9 172.3" stroke="#5faa3c" stroke-width="1.3" fill="none"/>
<ellipse cx="253.5" cy="142.1" rx="8.6" ry="6.4" transform="rotate(-118 253.5 142.1)" fill="url(#lg1)" stroke="#5a9e3e" stroke-width="0.6"/>
<ellipse cx="264.0" cy="143.4" rx="5.0" ry="3.7" transform="rotate(-82 264.0 143.4)" fill="url(#lg1)" stroke="#5a9e3e" stroke-width="0.6"/>
<ellipse cx="270.6" cy="142.7" rx="5.7" ry="4.3" transform="rotate(-61 270.6 142.7)" fill="url(#lg1)" stroke="#5a9e3e" stroke-width="0.6"/>
<ellipse cx="279.1" cy="150.6" rx="6.5" ry="4.5" transform="rotate(0 279.1 150.6)" fill="url(#lg1)" stroke="#5a9e3e" stroke-width="0.6"/>
<ellipse cx="264.7" cy="151.9" rx="6.4" ry="4.8" transform="rotate(-66 264.7 151.9)" fill="url(#lg0)" stroke="#5a9e3e" stroke-width="0.6"/>
<ellipse cx="255.5" cy="153.9" rx="5.0" ry="3.7" transform="rotate(-147 255.5 153.9)" fill="url(#lg3)" stroke="#5a9e3e" stroke-width="0.6"/>
<ellipse cx="248.2" cy="153.9" rx="3.6" ry="2.7" transform="rotate(-163 248.2 153.9)" fill="url(#lg1)" stroke="#5a9e3e" stroke-width="0.6"/>
<ellipse cx="262.7" cy="157.2" rx="4.3" ry="3.2" transform="rotate(-52 262.7 157.2)" fill="url(#lg2)" stroke="#5a9e3e" stroke-width="0.6"/>
<ellipse cx="255.5" cy="162.4" rx="6.4" ry="4.8" transform="rotate(146 255.5 162.4)" fill="url(#lg2)" stroke="#5a9e3e" stroke-width="0.6"/>
<ellipse cx="247.6" cy="161.1" rx="3.6" ry="2.7" transform="rotate(168 247.6 161.1)" fill="url(#lg0)" stroke="#5a9e3e" stroke-width="0.6"/>
<ellipse cx="263.4" cy="165.7" rx="4.3" ry="3.2" transform="rotate(80 263.4 165.7)" fill="url(#lg1)" stroke="#5a9e3e" stroke-width="0.6"/>
<ellipse cx="278.5" cy="163.8" rx="6.4" ry="4.8" transform="rotate(19 278.5 163.8)" fill="url(#lg3)" stroke="#5a9e3e" stroke-width="0.6"/>
<ellipse cx="273.9" cy="172.3" rx="4.3" ry="3.2" transform="rotate(50 273.9 172.3)" fill="url(#lg2)" stroke="#5a9e3e" stroke-width="0.6"/>
<ellipse cx="250.9" cy="192.0" rx="7.2" ry="5.3" transform="rotate(108 250.9 192.0)" fill="url(#lg2)" stroke="#5a9e3e" stroke-width="0.6"/>
<path d="M76.0 215.6L65.9 190.9" stroke="#5faa3c" stroke-width="1.3" fill="none"/>
<path d="M76.0 215.6L70.5 199.5" stroke="#5faa3c" stroke-width="1.3" fill="none"/>
<path d="M76.0 215.6L69.8 206.7" stroke="#5faa3c" stroke-width="1.3" fill="none"/>
<path d="M76.0 215.6L79.7 202.1" stroke="#5faa3c" stroke-width="1.3" fill="none"/>
<path d="M76.0 215.6L96.8 201.4" stroke="#5faa3c" stroke-width="1.3" fill="none"/>
<path d="M76.0 215.6L85.6 206.7" stroke="#5faa3c" stroke-width="1.3" fill="none"/>
<path d="M76.0 215.6L92.8 215.2" stroke="#5faa3c" stroke-width="1.3" fill="none"/>
<path d="M76.0 215.6L64.6 217.2" stroke="#5faa3c" stroke-width="1.3" fill="none"/>
<path d="M76.0 215.6L80.3 219.8" stroke="#5faa3c" stroke-width="1.3" fill="none"/>
<path d="M76.0 215.6L70.5 228.4" stroke="#5faa3c" stroke-width="1.3" fill="none"/>
<path d="M76.0 215.6L81.0 229.0" stroke="#5faa3c" stroke-width="1.3" fill="none"/>
<path d="M76.0 215.6L62.6 231.0" stroke="#5faa3c" stroke-width="1.3" fill="none"/>
<path d="M76.0 215.6L67.2 242.2" stroke="#5faa3c" stroke-width="1.3" fill="none"/>
<ellipse cx="73.1" cy="187.6" rx="6.6" ry="4.9" transform="rotate(-96 73.1 187.6)" fill="url(#lg1)" stroke="#5a9e3e" stroke-width="0.6"/>
<ellipse cx="65.9" cy="190.9" rx="4.8" ry="7.2" transform="rotate(0 65.9 190.9)" fill="url(#lg0)" stroke="#5a9e3e" stroke-width="0.6"/>
<ellipse cx="70.5" cy="199.5" rx="5.3" ry="3.9" transform="rotate(-109 70.5 199.5)" fill="url(#lg3)" stroke="#5a9e3e" stroke-width="0.6"/>
<ellipse cx="69.8" cy="206.7" rx="7.3" ry="5.4" transform="rotate(-125 69.8 206.7)" fill="url(#lg3)" stroke="#5a9e3e" stroke-width="0.6"/>
<ellipse cx="79.7" cy="202.1" rx="4.6" ry="3.4" transform="rotate(-75 79.7 202.1)" fill="url(#lg3)" stroke="#5a9e3e" stroke-width="0.6"/>
<ellipse cx="96.8" cy="201.4" rx="7.2" ry="4.8" transform="rotate(0 96.8 201.4)" fill="url(#lg3)" stroke="#5a9e3e" stroke-width="0.6"/>
<ellipse cx="85.6" cy="206.7" rx="6.6" ry="4.9" transform="rotate(-43 85.6 206.7)" fill="url(#lg3)" stroke="#5a9e3e" stroke-width="0.6"/>
<ellipse cx="92.8" cy="215.2" rx="5.3" ry="3.9" transform="rotate(-1 92.8 215.2)" fill="url(#lg0)" stroke="#5a9e3e" stroke-width="0.6"/>
<ellipse cx="64.6" cy="217.2" rx="6.6" ry="4.9" transform="rotate(172 64.6 217.2)" fill="url(#lg3)" stroke="#5a9e3e" stroke-width="0.6"/>
<ellipse cx="80.3" cy="219.8" rx="5.3" ry="3.9" transform="rotate(44 80.3 219.8)" fill="url(#lg3)" stroke="#5a9e3e" stroke-width="0.6"/>
<ellipse cx="70.5" cy="228.4" rx="5.3" ry="3.9" transform="rotate(113 70.5 228.4)" fill="url(#lg0)" stroke="#5a9e3e" stroke-width="0.6"/>
<ellipse cx="81.0" cy="229.0" rx="5.9" ry="4.4" transform="rotate(69 81.0 229.0)" fill="url(#lg1)" stroke="#5a9e3e" stroke-width="0.6"/>
<ellipse cx="62.6" cy="231.0" rx="4.6" ry="3.4" transform="rotate(131 62.6 231.0)" fill="url(#lg0)" stroke="#5a9e3e" stroke-width="0.6"/>
<ellipse cx="67.2" cy="242.2" rx="7.2" ry="8.4" transform="rotate(0 67.2 242.2)" fill="url(#lg1)" stroke="#5a9e3e" stroke-width="0.6"/>
<ellipse cx="79.0" cy="256.6" rx="6.6" ry="4.9" transform="rotate(86 79.0 256.6)" fill="url(#lg3)" stroke="#5a9e3e" stroke-width="0.6"/>
<path d="M179.4 217.0L168.1 204.7" stroke="#5faa3c" stroke-width="1.3" fill="none"/>
<path d="M179.4 217.0L151.7 215.9" stroke="#5faa3c" stroke-width="1.3" fill="none"/>
<path d="M179.4 217.0L155.6 223.8" stroke="#5faa3c" stroke-width="1.3" fill="none"/>
<path d="M179.4 217.0L162.8 224.4" stroke="#5faa3c" stroke-width="1.3" fill="none"/>
<path d="M179.4 217.0L168.1 218.5" stroke="#5faa3c" stroke-width="1.3" fill="none"/>
<path d="M179.4 217.0L190.4 198.1" stroke="#5faa3c" stroke-width="1.3" fill="none"/>
<path d="M179.4 217.0L183.9 209.3" stroke="#5faa3c" stroke-width="1.3" fill="none"/>
<path d="M179.4 217.0L193.7 205.4" stroke="#5faa3c" stroke-width="1.3" fill="none"/>
<path d="M179.4 217.0L204.9 209.3" stroke="#5faa3c" stroke-width="1.3" fill="none"/>
<path d="M179.4 217.0L178.6 217.8" stroke="#5faa3c" stroke-width="1.3" fill="none"/>
<path d="M179.4 217.0L187.8 216.5" stroke="#5faa3c" stroke-width="1.3" fill="none"/>
<path d="M179.4 217.0L206.9 221.1" stroke="#5faa3c" stroke-width="1.3" fill="none"/>
<path d="M179.4 217.0L183.2 224.4" stroke="#5faa3c" stroke-width="1.3" fill="none"/>
<path d="M179.4 217.0L177.3 231.0" stroke="#5faa3c" stroke-width="1.3" fill="none"/>
<path d="M179.4 217.0L197.0 230.3" stroke="#5faa3c" stroke-width="1.3" fill="none"/>
<path d="M179.4 217.0L187.8 231.0" stroke="#5faa3c" stroke-width="1.3" fill="none"/>
<ellipse cx="151.7" cy="208.0" rx="6.0" ry="4.8" transform="rotate(0 151.7 208.0)" fill="url(#lg1)" stroke="#5a9e3e" stroke-width="0.6"/>
<ellipse cx="168.1" cy="204.7" rx="5.3" ry="3.9" transform="rotate(-132 168.1 204.7)" fill="url(#lg0)" stroke="#5a9e3e" stroke-width="0.6"/>
<ellipse cx="151.7" cy="215.9" rx="6.0" ry="4.8" transform="rotate(0 151.7 215.9)" fill="url(#lg2)" stroke="#5a9e3e" stroke-width="0.6"/>
<ellipse cx="155.6" cy="223.8" rx="6.6" ry="4.9" transform="rotate(164 155.6 223.8)" fill="url(#lg0)" stroke="#5a9e3e" stroke-width="0.6"/>
<ellipse cx="162.8" cy="224.4" rx="4.8" ry="6.0" transform="rotate(0 162.8 224.4)" fill="url(#lg0)" stroke="#5a9e3e" stroke-width="0.6"/>
<ellipse cx="168.1" cy="218.5" rx="4.0" ry="3.0" transform="rotate(173 168.1 218.5)" fill="url(#lg0)" stroke="#5a9e3e" stroke-width="0.6"/>
<ellipse cx="190.4" cy="198.1" rx="4.0" ry="3.0" transform="rotate(-60 190.4 198.1)" fill="url(#lg1)" stroke="#5a9e3e" stroke-width="0.6"/>
<ellipse cx="183.9" cy="209.3" rx="7.3" ry="5.4" transform="rotate(-60 183.9 209.3)" fill="url(#lg0)" stroke="#5a9e3e" stroke-width="0.6"/>
<ellipse cx="193.7" cy="205.4" rx="5.3" ry="3.9" transform="rotate(-39 193.7 205.4)" fill="url(#lg2)" stroke="#5a9e3e" stroke-width="0.6"/>
<ellipse cx="204.9" cy="209.3" rx="7.3" ry="5.4" transform="rotate(-17 204.9 209.3)" fill="url(#lg0)" stroke="#5a9e3e" stroke-width="0.6"/>
<ellipse cx="178.6" cy="217.8" rx="6.6" ry="4.9" transform="rotate(135 178.6 217.8)" fill="url(#lg0)" stroke="#5a9e3e" stroke-width="0.6"/>
<ellipse cx="187.8" cy="216.5" rx="4.6" ry="3.4" transform="rotate(-4 187.8 216.5)" fill="url(#lg1)" stroke="#5a9e3e" stroke-width="0.6"/>
<ellipse cx="206.9" cy="221.1" rx="7.9" ry="5.9" transform="rotate(8 206.9 221.1)" fill="url(#lg3)" stroke="#5a9e3e" stroke-width="0.6"/>
<ellipse cx="183.2" cy="224.4" rx="5.3" ry="3.9" transform="rotate(63 183.2 224.4)" fill="url(#lg1)" stroke="#5a9e3e" stroke-width="0.6"/>
<ellipse cx="177.3" cy="231.0" rx="7.9" ry="5.9" transform="rotate(98 177.3 231.0)" fill="url(#lg2)" stroke="#5a9e3e" stroke-width="0.6"/>
<ellipse cx="197.0" cy="230.3" rx="6.6" ry="4.9" transform="rotate(37 197.0 230.3)" fill="url(#lg2)" stroke="#5a9e3e" stroke-width="0.6"/>
<ellipse cx="187.8" cy="231.0" rx="4.0" ry="3.0" transform="rotate(59 187.8 231.0)" fill="url(#lg2)" stroke="#5a9e3e" stroke-width="0.6"/>
<path d="M252.6 222.0L250.2 195.5" stroke="#5faa3c" stroke-width="1.3" fill="none"/>
<path d="M252.6 222.0L260.1 199.5" stroke="#5faa3c" stroke-width="1.3" fill="none"/>
<path d="M252.6 222.0L240.4 209.3" stroke="#5faa3c" stroke-width="1.3" fill="none"/>
<path d="M252.6 222.0L248.9 206.7" stroke="#5faa3c" stroke-width="1.3" fill="none"/>
<path d="M252.6 222.0L271.2 212.6" stroke="#5faa3c" stroke-width="1.3" fill="none"/>
<path d="M252.6 222.0L255.5 213.9" stroke="#5faa3c" stroke-width="1.3" fill="none"/>
<path d="M252.6 222.0L236.4 219.8" stroke="#5faa3c" stroke-width="1.3" fill="none"/>
<path d="M252.6 222.0L246.3 221.1" stroke="#5faa3c" stroke-width="1.3" fill="none"/>
<path d="M252.6 222.0L259.4 226.4" stroke="#5faa3c" stroke-width="1.3" fill="none"/>
<path d="M252.6 222.0L269.9 221.1" stroke="#5faa3c" stroke-width="1.3" fill="none"/>
<path d="M252.6 222.0L247.6 232.3" stroke="#5faa3c" stroke-width="1.3" fill="none"/>
<path d="M252.6 222.0L268.0 233.0" stroke="#5faa3c" stroke-width="1.3" fill="none"/>
<path d="M252.6 222.0L231.2 234.9" stroke="#5faa3c" stroke-width="1.3" fill="none"/>
<path d="M252.6 222.0L237.7 241.5" stroke="#5faa3c" stroke-width="1.3" fill="none"/>
<path d="M252.6 222.0L255.5 237.6" stroke="#5faa3c" stroke-width="1.3" fill="none"/>
<path d="M252.6 222.0L262.7 246.8" stroke="#5faa3c" stroke-width="1.3" fill="none"/>
<ellipse cx="250.2" cy="195.5" rx="8.2" ry="6.2" transform="rotate(-95 250.2 195.5)" fill="url(#lg3)" stroke="#5a9e3e" stroke-width="0.6"/>
<ellipse cx="260.1" cy="199.5" rx="5.5" ry="4.1" transform="rotate(-71 260.1 199.5)" fill="url(#lg0)" stroke="#5a9e3e" stroke-width="0.6"/>
<ellipse cx="240.4" cy="209.3" rx="5.0" ry="7.5" transform="rotate(0 240.4 209.3)" fill="url(#lg0)" stroke="#5a9e3e" stroke-width="0.6"/>
<ellipse cx="248.9" cy="206.7" rx="6.9" ry="5.1" transform="rotate(-103 248.9 206.7)" fill="url(#lg3)" stroke="#5a9e3e" stroke-width="0.6"/>
<ellipse cx="271.2" cy="212.6" rx="11.0" ry="8.2" transform="rotate(-27 271.2 212.6)" fill="url(#lg3)" stroke="#5a9e3e" stroke-width="0.6"/>
<ellipse cx="255.5" cy="213.9" rx="6.9" ry="5.1" transform="rotate(-70 255.5 213.9)" fill="url(#lg3)" stroke="#5a9e3e" stroke-width="0.6"/>
<ellipse cx="236.4" cy="219.8" rx="6.2" ry="4.6" transform="rotate(-172 236.4 219.8)" fill="url(#lg3)" stroke="#5a9e3e" stroke-width="0.6"/>
<ellipse cx="246.3" cy="221.1" rx="8.2" ry="6.2" transform="rotate(-172 246.3 221.1)" fill="url(#lg2)" stroke="#5a9e3e" stroke-width="0.6"/>
<ellipse cx="259.4" cy="226.4" rx="8.2" ry="6.2" transform="rotate(33 259.4 226.4)" fill="url(#lg0)" stroke="#5a9e3e" stroke-width="0.6"/>
<ellipse cx="269.9" cy="221.1" rx="6.9" ry="5.1" transform="rotate(-3 269.9 221.1)" fill="url(#lg1)" stroke="#5a9e3e" stroke-width="0.6"/>
<ellipse cx="247.6" cy="232.3" rx="6.9" ry="5.1" transform="rotate(116 247.6 232.3)" fill="url(#lg0)" stroke="#5a9e3e" stroke-width="0.6"/>
<ellipse cx="268.0" cy="233.0" rx="8.2" ry="6.2" transform="rotate(35 268.0 233.0)" fill="url(#lg2)" stroke="#5a9e3e" stroke-width="0.6"/>
<ellipse cx="231.2" cy="234.9" rx="6.2" ry="3.8" transform="rotate(0 231.2 234.9)" fill="url(#lg2)" stroke="#5a9e3e" stroke-width="0.6"/>
<ellipse cx="237.7" cy="241.5" rx="7.6" ry="5.6" transform="rotate(127 237.7 241.5)" fill="url(#lg3)" stroke="#5a9e3e" stroke-width="0.6"/>
<ellipse cx="255.5" cy="237.6" rx="6.9" ry="5.1" transform="rotate(79 255.5 237.6)" fill="url(#lg1)" stroke="#5a9e3e" stroke-width="0.6"/>
<ellipse cx="262.7" cy="246.8" rx="6.2" ry="7.5" transform="rotate(0 262.7 246.8)" fill="url(#lg0)" stroke="#5a9e3e" stroke-width="0.6"/>
<path d="M81.4 291.8L69.5 272.0" stroke="#5faa3c" stroke-width="1.3" fill="none"/>
<path d="M81.4 291.8L92.2 272.0" stroke="#5faa3c" stroke-width="1.3" fill="none"/>
<path d="M81.4 291.8L78.3 273.5" stroke="#5faa3c" stroke-width="1.3" fill="none"/>
<path d="M81.4 291.8L60.0 288.8" stroke="#5faa3c" stroke-width="1.3" fill="none"/>
<path d="M81.4 291.8L66.6 293.2" stroke="#5faa3c" stroke-width="1.3" fill="none"/>
<path d="M81.4 291.8L82.7 286.6" stroke="#5faa3c" stroke-width="1.3" fill="none"/>
<path d="M81.4 291.8L98.0 282.2" stroke="#5faa3c" stroke-width="1.3" fill="none"/>
<path d="M81.4 291.8L83.4 296.8" stroke="#5faa3c" stroke-width="1.3" fill="none"/>
<path d="M81.4 291.8L93.6 293.9" stroke="#5faa3c" stroke-width="1.3" fill="none"/>
<path d="M81.4 291.8L102.4 297.6" stroke="#5faa3c" stroke-width="1.3" fill="none"/>
<path d="M81.4 291.8L63.7 304.1" stroke="#5faa3c" stroke-width="1.3" fill="none"/>
<path d="M81.4 291.8L83.4 310.7" stroke="#5faa3c" stroke-width="1.3" fill="none"/>
<path d="M81.4 291.8L96.5 301.9" stroke="#5faa3c" stroke-width="1.3" fill="none"/>
<path d="M81.4 291.8L95.0 312.2" stroke="#5faa3c" stroke-width="1.3" fill="none"/>
<ellipse cx="62.0" cy="276.8" rx="11.5" ry="9.4" transform="rotate(-142 62.0 276.8)" fill="#4c8a36"/>
<ellipse cx="71.3" cy="275.0" rx="7.7" ry="6.3" transform="rotate(-121 71.3 275.0)" fill="#4c8a36"/>
<ellipse cx="90.6" cy="275.0" rx="11.5" ry="9.4" transform="rotate(-61 90.6 275.0)" fill="#4c8a36"/>
<ellipse cx="78.8" cy="276.2" rx="9.6" ry="7.8" transform="rotate(-100 78.8 276.2)" fill="#4c8a36"/>
<ellipse cx="63.2" cy="289.2" rx="7.7" ry="6.3" transform="rotate(-172 63.2 289.2)" fill="#4c8a36"/>
<ellipse cx="68.8" cy="293.0" rx="9.6" ry="7.8" transform="rotate(175 68.8 293.0)" fill="#4c8a36"/>
<ellipse cx="82.5" cy="287.4" rx="11.5" ry="9.4" transform="rotate(-76 82.5 287.4)" fill="#4c8a36"/>
<ellipse cx="95.5" cy="283.6" rx="7.7" ry="6.3" transform="rotate(-30 95.5 283.6)" fill="#4c8a36"/>
<ellipse cx="83.1" cy="296.0" rx="11.5" ry="9.4" transform="rotate(68 83.1 296.0)" fill="#4c8a36"/>
<ellipse cx="91.8" cy="293.6" rx="9.6" ry="7.8" transform="rotate(10 91.8 293.6)" fill="#4c8a36"/>
<ellipse cx="99.3" cy="296.7" rx="5.7" ry="4.7" transform="rotate(15 99.3 296.7)" fill="#4c8a36"/>
<ellipse cx="66.4" cy="302.3" rx="9.6" ry="7.8" transform="rotate(145 66.4 302.3)" fill="#4c8a36"/>
<ellipse cx="83.1" cy="307.9" rx="11.5" ry="9.4" transform="rotate(84 83.1 307.9)" fill="#4c8a36"/>
<ellipse cx="94.2" cy="300.4" rx="7.7" ry="6.3" transform="rotate(34 94.2 300.4)" fill="#4c8a36"/>
<ellipse cx="93.0" cy="309.1" rx="5.7" ry="4.7" transform="rotate(56 93.0 309.1)" fill="#4c8a36"/>
<ellipse cx="69.4" cy="312.8" rx="9.6" ry="7.8" transform="rotate(120 69.4 312.8)" fill="#4c8a36"/>
<ellipse cx="79.0" cy="261.1" rx="8.7" ry="11.6" transform="rotate(0 79.0 261.1)" fill="url(#lg1)" stroke="#5a9e3e" stroke-width="0.6"/>
<ellipse cx="58.6" cy="274.2" rx="9.6" ry="7.1" transform="rotate(-142 58.6 274.2)" fill="url(#lg2)" stroke="#5a9e3e" stroke-width="0.6"/>
<ellipse cx="69.5" cy="272.0" rx="6.4" ry="4.8" transform="rotate(-121 69.5 272.0)" fill="url(#lg1)" stroke="#5a9e3e" stroke-width="0.6"/>
<ellipse cx="92.2" cy="272.0" rx="9.6" ry="7.1" transform="rotate(-61 92.2 272.0)" fill="url(#lg0)" stroke="#5a9e3e" stroke-width="0.6"/>
<ellipse cx="78.3" cy="273.5" rx="8.0" ry="5.9" transform="rotate(-100 78.3 273.5)" fill="url(#lg2)" stroke="#5a9e3e" stroke-width="0.6"/>
<ellipse cx="49.8" cy="287.3" rx="9.6" ry="7.1" transform="rotate(-172 49.8 287.3)" fill="url(#lg0)" stroke="#5a9e3e" stroke-width="0.6"/>
<ellipse cx="60.0" cy="288.8" rx="6.4" ry="4.8" transform="rotate(-172 60.0 288.8)" fill="url(#lg2)" stroke="#5a9e3e" stroke-width="0.6"/>
<ellipse cx="66.6" cy="293.2" rx="8.0" ry="5.9" transform="rotate(175 66.6 293.2)" fill="url(#lg2)" stroke="#5a9e3e" stroke-width="0.6"/>
<ellipse cx="82.7" cy="286.6" rx="9.6" ry="7.1" transform="rotate(-76 82.7 286.6)" fill="url(#lg1)" stroke="#5a9e3e" stroke-width="0.6"/>
<ellipse cx="98.0" cy="282.2" rx="6.4" ry="4.8" transform="rotate(-30 98.0 282.2)" fill="url(#lg2)" stroke="#5a9e3e" stroke-width="0.6"/>
<ellipse cx="112.6" cy="283.7" rx="8.7" ry="5.8" transform="rotate(0 112.6 283.7)" fill="url(#lg1)" stroke="#5a9e3e" stroke-width="0.6"/>
<ellipse cx="83.4" cy="296.8" rx="9.6" ry="7.1" transform="rotate(68 83.4 296.8)" fill="url(#lg2)" stroke="#5a9e3e" stroke-width="0.6"/>
<ellipse cx="93.6" cy="293.9" rx="8.0" ry="5.9" transform="rotate(10 93.6 293.9)" fill="url(#lg1)" stroke="#5a9e3e" stroke-width="0.6"/>
<ellipse cx="102.4" cy="297.6" rx="4.8" ry="3.6" transform="rotate(15 102.4 297.6)" fill="url(#lg1)" stroke="#5a9e3e" stroke-width="0.6"/>
<ellipse cx="63.7" cy="304.1" rx="8.0" ry="5.9" transform="rotate(145 63.7 304.1)" fill="url(#lg1)" stroke="#5a9e3e" stroke-width="0.6"/>
<ellipse cx="83.4" cy="310.7" rx="8.7" ry="11.6" transform="rotate(0 83.4 310.7)" fill="url(#lg3)" stroke="#5a9e3e" stroke-width="0.6"/>
<ellipse cx="96.5" cy="301.9" rx="6.4" ry="4.8" transform="rotate(34 96.5 301.9)" fill="url(#lg1)" stroke="#5a9e3e" stroke-width="0.6"/>
<ellipse cx="95.0" cy="312.2" rx="4.8" ry="3.6" transform="rotate(56 95.0 312.2)" fill="url(#lg1)" stroke="#5a9e3e" stroke-width="0.6"/>
<ellipse cx="67.3" cy="316.5" rx="7.2" ry="10.2" transform="rotate(0 67.3 316.5)" fill="url(#lg3)" stroke="#5a9e3e" stroke-width="0.6"/>
<ellipse cx="95.8" cy="327.5" rx="7.2" ry="8.7" transform="rotate(0 95.8 327.5)" fill="url(#lg2)" stroke="#5a9e3e" stroke-width="0.6"/>
<path d="M169.6 294.9L169.5 272.7" stroke="#5faa3c" stroke-width="1.3" fill="none"/>
<path d="M169.6 294.9L154.9 278.6" stroke="#5faa3c" stroke-width="1.3" fill="none"/>
<path d="M169.6 294.9L160.0 289.5" stroke="#5faa3c" stroke-width="1.3" fill="none"/>
<path d="M169.6 294.9L171.0 288.1" stroke="#5faa3c" stroke-width="1.3" fill="none"/>
<path d="M169.6 294.9L183.4 284.4" stroke="#5faa3c" stroke-width="1.3" fill="none"/>
<path d="M169.6 294.9L192.9 286.6" stroke="#5faa3c" stroke-width="1.3" fill="none"/>
<path d="M169.6 294.9L146.2 301.2" stroke="#5faa3c" stroke-width="1.3" fill="none"/>
<path d="M169.6 294.9L162.2 300.5" stroke="#5faa3c" stroke-width="1.3" fill="none"/>
<path d="M169.6 294.9L184.9 297.6" stroke="#5faa3c" stroke-width="1.3" fill="none"/>
<path d="M169.6 294.9L150.5 311.4" stroke="#5faa3c" stroke-width="1.3" fill="none"/>
<path d="M169.6 294.9L161.5 313.6" stroke="#5faa3c" stroke-width="1.3" fill="none"/>
<path d="M169.6 294.9L179.0 310.7" stroke="#5faa3c" stroke-width="1.3" fill="none"/>
<path d="M169.6 294.9L190.7 306.3" stroke="#5faa3c" stroke-width="1.3" fill="none"/>
<path d="M169.6 294.9L168.8 310.0" stroke="#5faa3c" stroke-width="1.3" fill="none"/>
<ellipse cx="169.5" cy="276.0" rx="7.7" ry="6.3" transform="rotate(-90 169.5 276.0)" fill="#4c8a36"/>
<ellipse cx="157.1" cy="281.0" rx="9.6" ry="7.8" transform="rotate(-132 157.1 281.0)" fill="#4c8a36"/>
<ellipse cx="146.6" cy="287.8" rx="11.5" ry="9.4" transform="rotate(-163 146.6 287.8)" fill="#4c8a36"/>
<ellipse cx="161.4" cy="290.3" rx="9.6" ry="7.8" transform="rotate(-151 161.4 290.3)" fill="#4c8a36"/>
<ellipse cx="170.8" cy="289.1" rx="9.6" ry="7.8" transform="rotate(-79 170.8 289.1)" fill="#4c8a36"/>
<ellipse cx="181.3" cy="286.0" rx="11.5" ry="9.4" transform="rotate(-37 181.3 286.0)" fill="#4c8a36"/>
<ellipse cx="189.4" cy="287.8" rx="7.7" ry="6.3" transform="rotate(-20 189.4 287.8)" fill="#4c8a36"/>
<ellipse cx="149.7" cy="300.3" rx="9.6" ry="7.8" transform="rotate(165 149.7 300.3)" fill="#4c8a36"/>
<ellipse cx="163.3" cy="299.7" rx="10.5" ry="8.6" transform="rotate(143 163.3 299.7)" fill="#4c8a36"/>
<ellipse cx="182.6" cy="297.2" rx="7.7" ry="6.3" transform="rotate(10 182.6 297.2)" fill="#4c8a36"/>
<ellipse cx="194.3" cy="300.3" rx="8.6" ry="7.0" transform="rotate(12 194.3 300.3)" fill="#4c8a36"/>
<ellipse cx="153.4" cy="308.9" rx="11.5" ry="9.4" transform="rotate(139 153.4 308.9)" fill="#4c8a36"/>
<ellipse cx="162.7" cy="310.8" rx="7.7" ry="6.3" transform="rotate(113 162.7 310.8)" fill="#4c8a36"/>
<ellipse cx="177.6" cy="308.3" rx="9.6" ry="7.8" transform="rotate(59 177.6 308.3)" fill="#4c8a36"/>
<ellipse cx="187.5" cy="304.6" rx="9.6" ry="7.8" transform="rotate(28 187.5 304.6)" fill="#4c8a36"/>
<ellipse cx="168.9" cy="307.7" rx="5.7" ry="4.7" transform="rotate(93 168.9 307.7)" fill="#4c8a36"/>
<ellipse cx="159.3" cy="264.0" rx="10.2" ry="11.6" transform="rotate(0 159.3 264.0)" fill="url(#lg0)" stroke="#5a9e3e" stroke-width="0.6"/>
<ellipse cx="185.6" cy="266.9" rx="7.2" ry="13.0" transform="rotate(0 185.6 266.9)" fill="url(#lg0)" stroke="#5a9e3e" stroke-width="0.6"/>
<ellipse cx="169.5" cy="272.7" rx="6.4" ry="4.8" transform="rotate(-90 169.5 272.7)" fill="url(#lg2)" stroke="#5a9e3e" stroke-width="0.6"/>
<ellipse cx="154.9" cy="278.6" rx="8.0" ry="5.9" transform="rotate(-132 154.9 278.6)" fill="url(#lg3)" stroke="#5a9e3e" stroke-width="0.6"/>
<ellipse cx="142.5" cy="286.6" rx="8.7" ry="7.2" transform="rotate(0 142.5 286.6)" fill="url(#lg2)" stroke="#5a9e3e" stroke-width="0.6"/>
<ellipse cx="160.0" cy="289.5" rx="8.0" ry="5.9" transform="rotate(-151 160.0 289.5)" fill="url(#lg1)" stroke="#5a9e3e" stroke-width="0.6"/>
<ellipse cx="171.0" cy="288.1" rx="8.0" ry="5.9" transform="rotate(-79 171.0 288.1)" fill="url(#lg2)" stroke="#5a9e3e" stroke-width="0.6"/>
<ellipse cx="183.4" cy="284.4" rx="9.6" ry="7.1" transform="rotate(-37 183.4 284.4)" fill="url(#lg3)" stroke="#5a9e3e" stroke-width="0.6"/>
<ellipse cx="192.9" cy="286.6" rx="6.4" ry="4.8" transform="rotate(-20 192.9 286.6)" fill="url(#lg2)" stroke="#5a9e3e" stroke-width="0.6"/>
<ellipse cx="146.2" cy="301.2" rx="8.0" ry="5.9" transform="rotate(165 146.2 301.2)" fill="url(#lg2)" stroke="#5a9e3e" stroke-width="0.6"/>
<ellipse cx="162.2" cy="300.5" rx="8.8" ry="6.5" transform="rotate(143 162.2 300.5)" fill="url(#lg0)" stroke="#5a9e3e" stroke-width="0.6"/>
<ellipse cx="184.9" cy="297.6" rx="6.4" ry="4.8" transform="rotate(10 184.9 297.6)" fill="url(#lg1)" stroke="#5a9e3e" stroke-width="0.6"/>
<ellipse cx="198.7" cy="301.2" rx="7.2" ry="5.4" transform="rotate(12 198.7 301.2)" fill="url(#lg0)" stroke="#5a9e3e" stroke-width="0.6"/>
<ellipse cx="150.5" cy="311.4" rx="9.6" ry="7.1" transform="rotate(139 150.5 311.4)" fill="url(#lg1)" stroke="#5a9e3e" stroke-width="0.6"/>
<ellipse cx="161.5" cy="313.6" rx="6.4" ry="4.8" transform="rotate(113 161.5 313.6)" fill="url(#lg3)" stroke="#5a9e3e" stroke-width="0.6"/>
<ellipse cx="179.0" cy="310.7" rx="8.0" ry="5.9" transform="rotate(59 179.0 310.7)" fill="url(#lg1)" stroke="#5a9e3e" stroke-width="0.6"/>
<ellipse cx="190.7" cy="306.3" rx="8.0" ry="5.9" transform="rotate(28 190.7 306.3)" fill="url(#lg2)" stroke="#5a9e3e" stroke-width="0.6"/>
<ellipse cx="168.8" cy="310.0" rx="4.8" ry="3.6" transform="rotate(93 168.8 310.0)" fill="url(#lg1)" stroke="#5a9e3e" stroke-width="0.6"/>
<ellipse cx="161.5" cy="332.6" rx="4.8" ry="3.6" transform="rotate(102 161.5 332.6)" fill="url(#lg3)" stroke="#5a9e3e" stroke-width="0.6"/>
<path d="M259.8 306.2L266.9 283.0" stroke="#5faa3c" stroke-width="1.3" fill="none"/>
<path d="M259.8 306.2L262.6 295.4" stroke="#5faa3c" stroke-width="1.3" fill="none"/>
<path d="M259.8 306.2L275.0 293.9" stroke="#5faa3c" stroke-width="1.3" fill="none"/>
<path d="M259.8 306.2L249.4 302.0" stroke="#5faa3c" stroke-width="1.3" fill="none"/>
<path d="M259.8 306.2L237.7 301.2" stroke="#5faa3c" stroke-width="1.3" fill="none"/>
<path d="M259.8 306.2L283.0 302.7" stroke="#5faa3c" stroke-width="1.3" fill="none"/>
<path d="M259.8 306.2L261.8 308.5" stroke="#5faa3c" stroke-width="1.3" fill="none"/>
<path d="M259.8 306.2L242.8 309.2" stroke="#5faa3c" stroke-width="1.3" fill="none"/>
<path d="M259.8 306.2L271.3 313.6" stroke="#5faa3c" stroke-width="1.3" fill="none"/>
<path d="M259.8 306.2L243.6 318.0" stroke="#5faa3c" stroke-width="1.3" fill="none"/>
<path d="M259.8 306.2L256.7 324.6" stroke="#5faa3c" stroke-width="1.3" fill="none"/>
<ellipse cx="239.1" cy="291.4" rx="7.7" ry="6.3" transform="rotate(-144 239.1 291.4)" fill="#4c8a36"/>
<ellipse cx="265.8" cy="286.5" rx="11.5" ry="9.4" transform="rotate(-73 265.8 286.5)" fill="#4c8a36"/>
<ellipse cx="262.2" cy="297.0" rx="11.5" ry="9.4" transform="rotate(-75 262.2 297.0)" fill="#4c8a36"/>
<ellipse cx="272.7" cy="295.7" rx="11.5" ry="9.4" transform="rotate(-39 272.7 295.7)" fill="#4c8a36"/>
<ellipse cx="251.0" cy="302.6" rx="13.4" ry="11.0" transform="rotate(-158 251.0 302.6)" fill="#4c8a36"/>
<ellipse cx="241.0" cy="302.0" rx="7.7" ry="6.3" transform="rotate(-167 241.0 302.0)" fill="#4c8a36"/>
<ellipse cx="279.5" cy="303.2" rx="7.7" ry="6.3" transform="rotate(-9 279.5 303.2)" fill="#4c8a36"/>
<ellipse cx="261.5" cy="308.2" rx="7.7" ry="6.3" transform="rotate(48 261.5 308.2)" fill="#4c8a36"/>
<ellipse cx="245.3" cy="308.8" rx="9.6" ry="7.8" transform="rotate(170 245.3 308.8)" fill="#4c8a36"/>
<ellipse cx="269.6" cy="312.5" rx="11.5" ry="9.4" transform="rotate(33 269.6 312.5)" fill="#4c8a36"/>
<ellipse cx="246.0" cy="316.2" rx="11.5" ry="9.4" transform="rotate(144 246.0 316.2)" fill="#4c8a36"/>
<ellipse cx="257.2" cy="321.8" rx="9.6" ry="7.8" transform="rotate(99 257.2 321.8)" fill="#4c8a36"/>
<ellipse cx="249.4" cy="272.0" rx="7.2" ry="8.7" transform="rotate(0 249.4 272.0)" fill="url(#lg0)" stroke="#5a9e3e" stroke-width="0.6"/>
<ellipse cx="239.9" cy="280.0" rx="9.6" ry="7.1" transform="rotate(-127 239.9 280.0)" fill="url(#lg3)" stroke="#5a9e3e" stroke-width="0.6"/>
<ellipse cx="235.5" cy="288.8" rx="6.4" ry="4.8" transform="rotate(-144 235.5 288.8)" fill="url(#lg2)" stroke="#5a9e3e" stroke-width="0.6"/>
<ellipse cx="266.9" cy="283.0" rx="9.6" ry="7.1" transform="rotate(-73 266.9 283.0)" fill="url(#lg0)" stroke="#5a9e3e" stroke-width="0.6"/>
<ellipse cx="277.2" cy="280.0" rx="6.4" ry="4.8" transform="rotate(-56 277.2 280.0)" fill="url(#lg0)" stroke="#5a9e3e" stroke-width="0.6"/>
<ellipse cx="296.1" cy="287.3" rx="11.6" ry="8.7" transform="rotate(0 296.1 287.3)" fill="url(#lg3)" stroke="#5a9e3e" stroke-width="0.6"/>
<ellipse cx="262.6" cy="295.4" rx="9.6" ry="7.1" transform="rotate(-75 262.6 295.4)" fill="url(#lg1)" stroke="#5a9e3e" stroke-width="0.6"/>
<ellipse cx="275.0" cy="293.9" rx="9.6" ry="7.1" transform="rotate(-39 275.0 293.9)" fill="url(#lg3)" stroke="#5a9e3e" stroke-width="0.6"/>
<ellipse cx="249.4" cy="302.0" rx="11.2" ry="8.3" transform="rotate(-158 249.4 302.0)" fill="url(#lg1)" stroke="#5a9e3e" stroke-width="0.6"/>
<ellipse cx="237.7" cy="301.2" rx="6.4" ry="4.8" transform="rotate(-167 237.7 301.2)" fill="url(#lg3)" stroke="#5a9e3e" stroke-width="0.6"/>
<ellipse cx="283.0" cy="302.7" rx="6.4" ry="4.8" transform="rotate(-9 283.0 302.7)" fill="url(#lg2)" stroke="#5a9e3e" stroke-width="0.6"/>
<ellipse cx="261.8" cy="308.5" rx="6.4" ry="4.8" transform="rotate(48 261.8 308.5)" fill="url(#lg0)" stroke="#5a9e3e" stroke-width="0.6"/>
<ellipse cx="242.8" cy="309.2" rx="8.0" ry="5.9" transform="rotate(170 242.8 309.2)" fill="url(#lg3)" stroke="#5a9e3e" stroke-width="0.6"/>
<ellipse cx="271.3" cy="313.6" rx="8.7" ry="11.6" transform="rotate(0 271.3 313.6)" fill="url(#lg3)" stroke="#5a9e3e" stroke-width="0.6"/>
<ellipse cx="243.6" cy="318.0" rx="9.6" ry="7.1" transform="rotate(144 243.6 318.0)" fill="url(#lg3)" stroke="#5a9e3e" stroke-width="0.6"/>
<ellipse cx="256.7" cy="324.6" rx="8.0" ry="5.9" transform="rotate(99 256.7 324.6)" fill="url(#lg0)" stroke="#5a9e3e" stroke-width="0.6"/>
<ellipse cx="228.2" cy="329.7" rx="9.6" ry="7.1" transform="rotate(143 228.2 329.7)" fill="url(#lg1)" stroke="#5a9e3e" stroke-width="0.6"/>
<ellipse cx="241.4" cy="334.0" rx="10.2" ry="11.6" transform="rotate(0 241.4 334.0)" fill="url(#lg1)" stroke="#5a9e3e" stroke-width="0.6"/>
<ellipse cx="283.7" cy="328.2" rx="7.2" ry="8.7" transform="rotate(0 283.7 328.2)" fill="url(#lg1)" stroke="#5a9e3e" stroke-width="0.6"/>
<ellipse cx="271.3" cy="338.4" rx="8.0" ry="5.9" transform="rotate(70 271.3 338.4)" fill="url(#lg0)" stroke="#5a9e3e" stroke-width="0.6"/>
<ellipse cx="281.5" cy="339.9" rx="8.0" ry="5.9" transform="rotate(57 281.5 339.9)" fill="url(#lg1)" stroke="#5a9e3e" stroke-width="0.6"/>
<path d="M79.2 367.6L77.6 341.1" stroke="#5faa3c" stroke-width="1.3" fill="none"/>
<path d="M79.2 367.6L58.6 351.3" stroke="#5faa3c" stroke-width="1.3" fill="none"/>
<path d="M79.2 367.6L65.9 355.7" stroke="#5faa3c" stroke-width="1.3" fill="none"/>
<path d="M79.2 367.6L87.8 351.3" stroke="#5faa3c" stroke-width="1.3" fill="none"/>
<path d="M79.2 367.6L63.7 374.6" stroke="#5faa3c" stroke-width="1.3" fill="none"/>
<path d="M79.2 367.6L80.5 373.2" stroke="#5faa3c" stroke-width="1.3" fill="none"/>
<path d="M79.2 367.6L90.7 363.7" stroke="#5faa3c" stroke-width="1.3" fill="none"/>
<path d="M79.2 367.6L103.8 364.4" stroke="#5faa3c" stroke-width="1.3" fill="none"/>
<path d="M79.2 367.6L61.5 387.8" stroke="#5faa3c" stroke-width="1.3" fill="none"/>
<path d="M79.2 367.6L80.5 387.8" stroke="#5faa3c" stroke-width="1.3" fill="none"/>
<path d="M79.2 367.6L96.5 379.0" stroke="#5faa3c" stroke-width="1.3" fill="none"/>
<ellipse cx="77.8" cy="345.1" rx="11.9" ry="9.7" transform="rotate(-93 77.8 345.1)" fill="#4c8a36"/>
<ellipse cx="61.7" cy="353.7" rx="13.9" ry="11.3" transform="rotate(-142 61.7 353.7)" fill="#4c8a36"/>
<ellipse cx="67.9" cy="357.5" rx="11.9" ry="9.7" transform="rotate(-138 67.9 357.5)" fill="#4c8a36"/>
<ellipse cx="86.5" cy="353.7" rx="11.9" ry="9.7" transform="rotate(-62 86.5 353.7)" fill="#4c8a36"/>
<ellipse cx="66.0" cy="373.6" rx="13.9" ry="11.3" transform="rotate(156 66.0 373.6)" fill="#4c8a36"/>
<ellipse cx="80.3" cy="372.4" rx="13.9" ry="11.3" transform="rotate(77 80.3 372.4)" fill="#4c8a36"/>
<ellipse cx="89.0" cy="364.3" rx="13.9" ry="11.3" transform="rotate(-19 89.0 364.3)" fill="#4c8a36"/>
<ellipse cx="100.1" cy="364.9" rx="11.9" ry="9.7" transform="rotate(-7 100.1 364.9)" fill="#4c8a36"/>
<ellipse cx="64.2" cy="384.8" rx="11.9" ry="9.7" transform="rotate(131 64.2 384.8)" fill="#4c8a36"/>
<ellipse cx="80.3" cy="384.8" rx="11.9" ry="9.7" transform="rotate(86 80.3 384.8)" fill="#4c8a36"/>
<ellipse cx="93.9" cy="377.3" rx="9.9" ry="8.1" transform="rotate(33 93.9 377.3)" fill="#4c8a36"/>
<ellipse cx="63.0" cy="336.0" rx="8.2" ry="6.1" transform="rotate(-117 63.0 336.0)" fill="url(#lg3)" stroke="#5a9e3e" stroke-width="0.6"/>
<ellipse cx="77.6" cy="341.1" rx="9.9" ry="7.4" transform="rotate(-93 77.6 341.1)" fill="url(#lg1)" stroke="#5a9e3e" stroke-width="0.6"/>
<ellipse cx="96.5" cy="330.1" rx="7.5" ry="9.0" transform="rotate(0 96.5 330.1)" fill="url(#lg3)" stroke="#5a9e3e" stroke-width="0.6"/>
<ellipse cx="58.6" cy="351.3" rx="11.6" ry="8.6" transform="rotate(-142 58.6 351.3)" fill="url(#lg2)" stroke="#5a9e3e" stroke-width="0.6"/>
<ellipse cx="65.9" cy="355.7" rx="9.9" ry="7.4" transform="rotate(-138 65.9 355.7)" fill="url(#lg1)" stroke="#5a9e3e" stroke-width="0.6"/>
<ellipse cx="87.8" cy="351.3" rx="9.9" ry="7.4" transform="rotate(-62 87.8 351.3)" fill="url(#lg1)" stroke="#5a9e3e" stroke-width="0.6"/>
<ellipse cx="33.8" cy="371.0" rx="10.5" ry="9.0" transform="rotate(0 33.8 371.0)" fill="url(#lg0)" stroke="#5a9e3e" stroke-width="0.6"/>
<ellipse cx="48.4" cy="381.9" rx="8.2" ry="6.1" transform="rotate(155 48.4 381.9)" fill="url(#lg0)" stroke="#5a9e3e" stroke-width="0.6"/>
<ellipse cx="63.7" cy="374.6" rx="11.6" ry="8.6" transform="rotate(156 63.7 374.6)" fill="url(#lg0)" stroke="#5a9e3e" stroke-width="0.6"/>
<ellipse cx="80.5" cy="373.2" rx="11.6" ry="8.6" transform="rotate(77 80.5 373.2)" fill="url(#lg1)" stroke="#5a9e3e" stroke-width="0.6"/>
<ellipse cx="90.7" cy="363.7" rx="11.6" ry="8.6" transform="rotate(-19 90.7 363.7)" fill="url(#lg3)" stroke="#5a9e3e" stroke-width="0.6"/>
<ellipse cx="103.8" cy="364.4" rx="9.9" ry="7.4" transform="rotate(-7 103.8 364.4)" fill="url(#lg1)" stroke="#5a9e3e" stroke-width="0.6"/>
<ellipse cx="111.1" cy="372.4" rx="9.9" ry="7.4" transform="rotate(9 111.1 372.4)" fill="url(#lg1)" stroke="#5a9e3e" stroke-width="0.6"/>
<ellipse cx="121.4" cy="367.3" rx="5.0" ry="3.7" transform="rotate(-0 121.4 367.3)" fill="url(#lg0)" stroke="#5a9e3e" stroke-width="0.6"/>
<ellipse cx="61.5" cy="387.8" rx="9.9" ry="7.4" transform="rotate(131 61.5 387.8)" fill="url(#lg2)" stroke="#5a9e3e" stroke-width="0.6"/>
<ellipse cx="80.5" cy="387.8" rx="9.9" ry="7.4" transform="rotate(86 80.5 387.8)" fill="url(#lg1)" stroke="#5a9e3e" stroke-width="0.6"/>
<ellipse cx="73.2" cy="398.0" rx="9.9" ry="7.4" transform="rotate(101 73.2 398.0)" fill="url(#lg2)" stroke="#5a9e3e" stroke-width="0.6"/>
<ellipse cx="90.7" cy="398.0" rx="11.6" ry="8.6" transform="rotate(69 90.7 398.0)" fill="url(#lg1)" stroke="#5a9e3e" stroke-width="0.6"/>
<ellipse cx="96.5" cy="379.0" rx="8.2" ry="6.1" transform="rotate(33 96.5 379.0)" fill="url(#lg2)" stroke="#5a9e3e" stroke-width="0.6"/>
<path d="M173.5 369.7L165.3 355.7" stroke="#5faa3c" stroke-width="1.3" fill="none"/>
<path d="M173.5 369.7L176.9 351.3" stroke="#5faa3c" stroke-width="1.3" fill="none"/>
<path d="M173.5 369.7L189.3 346.9" stroke="#5faa3c" stroke-width="1.3" fill="none"/>
<path d="M173.5 369.7L187.2 356.4" stroke="#5faa3c" stroke-width="1.3" fill="none"/>
<path d="M173.5 369.7L150.7 367.3" stroke="#5faa3c" stroke-width="1.3" fill="none"/>
<path d="M173.5 369.7L166.7 367.3" stroke="#5faa3c" stroke-width="1.3" fill="none"/>
<path d="M173.5 369.7L195.9 362.2" stroke="#5faa3c" stroke-width="1.3" fill="none"/>
<path d="M173.5 369.7L188.6 370.3" stroke="#5faa3c" stroke-width="1.3" fill="none"/>
<path d="M173.5 369.7L153.6 374.6" stroke="#5faa3c" stroke-width="1.3" fill="none"/>
<path d="M173.5 369.7L172.6 379.7" stroke="#5faa3c" stroke-width="1.3" fill="none"/>
<path d="M173.5 369.7L194.5 377.6" stroke="#5faa3c" stroke-width="1.3" fill="none"/>
<path d="M173.5 369.7L151.4 383.4" stroke="#5faa3c" stroke-width="1.3" fill="none"/>
<path d="M173.5 369.7L165.3 387.8" stroke="#5faa3c" stroke-width="1.3" fill="none"/>
<path d="M173.5 369.7L176.9 384.9" stroke="#5faa3c" stroke-width="1.3" fill="none"/>
<ellipse cx="160.9" cy="349.0" rx="9.9" ry="8.1" transform="rotate(-121 160.9 349.0)" fill="#4c8a36"/>
<ellipse cx="166.5" cy="357.8" rx="15.8" ry="13.0" transform="rotate(-120 166.5 357.8)" fill="#4c8a36"/>
<ellipse cx="176.4" cy="354.1" rx="11.9" ry="9.7" transform="rotate(-80 176.4 354.1)" fill="#4c8a36"/>
<ellipse cx="186.9" cy="350.3" rx="7.9" ry="6.5" transform="rotate(-55 186.9 350.3)" fill="#4c8a36"/>
<ellipse cx="185.1" cy="358.4" rx="9.9" ry="8.1" transform="rotate(-44 185.1 358.4)" fill="#4c8a36"/>
<ellipse cx="154.1" cy="367.7" rx="11.9" ry="9.7" transform="rotate(-174 154.1 367.7)" fill="#4c8a36"/>
<ellipse cx="167.7" cy="367.7" rx="13.9" ry="11.3" transform="rotate(-160 167.7 367.7)" fill="#4c8a36"/>
<ellipse cx="192.5" cy="363.3" rx="13.9" ry="11.3" transform="rotate(-19 192.5 363.3)" fill="#4c8a36"/>
<ellipse cx="186.3" cy="370.2" rx="11.9" ry="9.7" transform="rotate(2 186.3 370.2)" fill="#4c8a36"/>
<ellipse cx="156.6" cy="373.9" rx="7.9" ry="6.5" transform="rotate(166 156.6 373.9)" fill="#4c8a36"/>
<ellipse cx="172.7" cy="378.2" rx="11.9" ry="9.7" transform="rotate(95 172.7 378.2)" fill="#4c8a36"/>
<ellipse cx="191.4" cy="376.4" rx="7.9" ry="6.5" transform="rotate(21 191.4 376.4)" fill="#4c8a36"/>
<ellipse cx="154.7" cy="381.3" rx="11.9" ry="9.7" transform="rotate(148 154.7 381.3)" fill="#4c8a36"/>
<ellipse cx="166.5" cy="385.1" rx="9.9" ry="8.1" transform="rotate(114 166.5 385.1)" fill="#4c8a36"/>
<ellipse cx="176.4" cy="382.6" rx="9.9" ry="8.1" transform="rotate(77 176.4 382.6)" fill="#4c8a36"/>
<ellipse cx="163.8" cy="335.2" rx="4.5" ry="9.0" transform="rotate(0 163.8 335.2)" fill="url(#lg2)" stroke="#5a9e3e" stroke-width="0.6"/>
<ellipse cx="138.2" cy="349.1" rx="9.9" ry="7.4" transform="rotate(-150 138.2 349.1)" fill="url(#lg3)" stroke="#5a9e3e" stroke-width="0.6"/>
<ellipse cx="158.7" cy="345.4" rx="8.2" ry="6.1" transform="rotate(-121 158.7 345.4)" fill="url(#lg1)" stroke="#5a9e3e" stroke-width="0.6"/>
<ellipse cx="165.3" cy="355.7" rx="13.2" ry="9.8" transform="rotate(-120 165.3 355.7)" fill="url(#lg0)" stroke="#5a9e3e" stroke-width="0.6"/>
<ellipse cx="176.9" cy="351.3" rx="9.9" ry="7.4" transform="rotate(-80 176.9 351.3)" fill="url(#lg2)" stroke="#5a9e3e" stroke-width="0.6"/>
<ellipse cx="189.3" cy="346.9" rx="6.6" ry="4.9" transform="rotate(-55 189.3 346.9)" fill="url(#lg3)" stroke="#5a9e3e" stroke-width="0.6"/>
<ellipse cx="187.2" cy="356.4" rx="8.2" ry="6.1" transform="rotate(-44 187.2 356.4)" fill="url(#lg3)" stroke="#5a9e3e" stroke-width="0.6"/>
<ellipse cx="131.7" cy="365.1" rx="13.5" ry="10.5" transform="rotate(0 131.7 365.1)" fill="url(#lg1)" stroke="#5a9e3e" stroke-width="0.6"/>
<ellipse cx="150.7" cy="367.3" rx="9.9" ry="7.4" transform="rotate(-174 150.7 367.3)" fill="url(#lg1)" stroke="#5a9e3e" stroke-width="0.6"/>
<ellipse cx="166.7" cy="367.3" rx="11.6" ry="8.6" transform="rotate(-160 166.7 367.3)" fill="url(#lg0)" stroke="#5a9e3e" stroke-width="0.6"/>
<ellipse cx="195.9" cy="362.2" rx="11.6" ry="8.6" transform="rotate(-19 195.9 362.2)" fill="url(#lg3)" stroke="#5a9e3e" stroke-width="0.6"/>
<ellipse cx="188.6" cy="370.3" rx="9.9" ry="7.4" transform="rotate(2 188.6 370.3)" fill="url(#lg1)" stroke="#5a9e3e" stroke-width="0.6"/>
<ellipse cx="214.9" cy="346.9" rx="8.2" ry="6.1" transform="rotate(-29 214.9 346.9)" fill="url(#lg0)" stroke="#5a9e3e" stroke-width="0.6"/>
<ellipse cx="210.5" cy="365.9" rx="6.6" ry="4.9" transform="rotate(-6 210.5 365.9)" fill="url(#lg1)" stroke="#5a9e3e" stroke-width="0.6"/>
<ellipse cx="213.4" cy="360.0" rx="6.6" ry="4.9" transform="rotate(-14 213.4 360.0)" fill="url(#lg1)" stroke="#5a9e3e" stroke-width="0.6"/>
<ellipse cx="153.6" cy="374.6" rx="6.6" ry="4.9" transform="rotate(166 153.6 374.6)" fill="url(#lg1)" stroke="#5a9e3e" stroke-width="0.6"/>
<ellipse cx="172.6" cy="379.7" rx="9.9" ry="7.4" transform="rotate(95 172.6 379.7)" fill="url(#lg3)" stroke="#5a9e3e" stroke-width="0.6"/>
<ellipse cx="194.5" cy="377.6" rx="6.6" ry="4.9" transform="rotate(21 194.5 377.6)" fill="url(#lg0)" stroke="#5a9e3e" stroke-width="0.6"/>
<ellipse cx="151.4" cy="383.4" rx="9.9" ry="7.4" transform="rotate(148 151.4 383.4)" fill="url(#lg0)" stroke="#5a9e3e" stroke-width="0.6"/>
<ellipse cx="140.4" cy="389.2" rx="8.2" ry="6.1" transform="rotate(150 140.4 389.2)" fill="url(#lg2)" stroke="#5a9e3e" stroke-width="0.6"/>
<ellipse cx="165.3" cy="387.8" rx="8.2" ry="6.1" transform="rotate(114 165.3 387.8)" fill="url(#lg3)" stroke="#5a9e3e" stroke-width="0.6"/>
<ellipse cx="176.9" cy="384.9" rx="8.2" ry="6.1" transform="rotate(77 176.9 384.9)" fill="url(#lg0)" stroke="#5a9e3e" stroke-width="0.6"/>
<ellipse cx="149.2" cy="396.5" rx="8.2" ry="6.1" transform="rotate(132 149.2 396.5)" fill="url(#lg0)" stroke="#5a9e3e" stroke-width="0.6"/>
<ellipse cx="168.2" cy="399.5" rx="6.0" ry="9.0" transform="rotate(0 168.2 399.5)" fill="url(#lg1)" stroke="#5a9e3e" stroke-width="0.6"/>
<ellipse cx="188.6" cy="396.5" rx="9.9" ry="7.4" transform="rotate(61 188.6 396.5)" fill="url(#lg1)" stroke="#5a9e3e" stroke-width="0.6"/>
<ellipse cx="198.8" cy="398.0" rx="8.2" ry="6.1" transform="rotate(48 198.8 398.0)" fill="url(#lg2)" stroke="#5a9e3e" stroke-width="0.6"/>
<path d="M257.6 360.3L271.3 339.6" stroke="#5faa3c" stroke-width="1.3" fill="none"/>
<path d="M257.6 360.3L246.5 361.5" stroke="#5faa3c" stroke-width="1.3" fill="none"/>
<path d="M257.6 360.3L259.6 350.5" stroke="#5faa3c" stroke-width="1.3" fill="none"/>
<path d="M257.6 360.3L268.4 354.2" stroke="#5faa3c" stroke-width="1.3" fill="none"/>
<path d="M257.6 360.3L281.5 354.2" stroke="#5faa3c" stroke-width="1.3" fill="none"/>
<path d="M257.6 360.3L262.6 365.9" stroke="#5faa3c" stroke-width="1.3" fill="none"/>
<path d="M257.6 360.3L275.7 365.9" stroke="#5faa3c" stroke-width="1.3" fill="none"/>
<path d="M257.6 360.3L242.1 378.3" stroke="#5faa3c" stroke-width="1.3" fill="none"/>
<path d="M257.6 360.3L252.3 385.6" stroke="#5faa3c" stroke-width="1.3" fill="none"/>
<ellipse cx="243.8" cy="339.7" rx="13.9" ry="11.3" transform="rotate(-124 243.8 339.7)" fill="#4c8a36"/>
<ellipse cx="269.2" cy="342.7" rx="9.9" ry="8.1" transform="rotate(-57 269.2 342.7)" fill="#4c8a36"/>
<ellipse cx="277.9" cy="345.2" rx="11.9" ry="9.7" transform="rotate(-37 277.9 345.2)" fill="#4c8a36"/>
<ellipse cx="248.2" cy="361.3" rx="15.8" ry="13.0" transform="rotate(174 248.2 361.3)" fill="#4c8a36"/>
<ellipse cx="259.3" cy="352.0" rx="11.9" ry="9.7" transform="rotate(-78 259.3 352.0)" fill="#4c8a36"/>
<ellipse cx="266.8" cy="355.1" rx="9.9" ry="8.1" transform="rotate(-30 266.8 355.1)" fill="#4c8a36"/>
<ellipse cx="277.9" cy="355.1" rx="7.9" ry="6.5" transform="rotate(-14 277.9 355.1)" fill="#4c8a36"/>
<ellipse cx="261.8" cy="365.1" rx="13.9" ry="11.3" transform="rotate(48 261.8 365.1)" fill="#4c8a36"/>
<ellipse cx="273.0" cy="365.1" rx="9.9" ry="8.1" transform="rotate(17 273.0 365.1)" fill="#4c8a36"/>
<ellipse cx="244.4" cy="375.6" rx="9.9" ry="8.1" transform="rotate(131 244.4 375.6)" fill="#4c8a36"/>
<ellipse cx="253.1" cy="381.8" rx="13.9" ry="11.3" transform="rotate(102 253.1 381.8)" fill="#4c8a36"/>
<ellipse cx="228.2" cy="331.6" rx="8.2" ry="6.1" transform="rotate(-136 228.2 331.6)" fill="url(#lg0)" stroke="#5a9e3e" stroke-width="0.6"/>
<ellipse cx="241.4" cy="336.0" rx="10.5" ry="12.0" transform="rotate(0 241.4 336.0)" fill="url(#lg0)" stroke="#5a9e3e" stroke-width="0.6"/>
<ellipse cx="255.3" cy="327.2" rx="8.2" ry="6.1" transform="rotate(-94 255.3 327.2)" fill="url(#lg3)" stroke="#5a9e3e" stroke-width="0.6"/>
<ellipse cx="283.7" cy="329.4" rx="8.2" ry="6.1" transform="rotate(-50 283.7 329.4)" fill="url(#lg0)" stroke="#5a9e3e" stroke-width="0.6"/>
<ellipse cx="271.3" cy="339.6" rx="7.5" ry="9.0" transform="rotate(0 271.3 339.6)" fill="url(#lg0)" stroke="#5a9e3e" stroke-width="0.6"/>
<ellipse cx="281.5" cy="342.5" rx="9.9" ry="7.4" transform="rotate(-37 281.5 342.5)" fill="url(#lg3)" stroke="#5a9e3e" stroke-width="0.6"/>
<ellipse cx="216.6" cy="347.6" rx="8.2" ry="6.1" transform="rotate(-163 216.6 347.6)" fill="url(#lg2)" stroke="#5a9e3e" stroke-width="0.6"/>
<ellipse cx="221.7" cy="358.6" rx="6.6" ry="4.9" transform="rotate(-177 221.7 358.6)" fill="url(#lg1)" stroke="#5a9e3e" stroke-width="0.6"/>
<ellipse cx="212.2" cy="363.7" rx="6.6" ry="4.9" transform="rotate(176 212.2 363.7)" fill="url(#lg2)" stroke="#5a9e3e" stroke-width="0.6"/>
<ellipse cx="246.5" cy="361.5" rx="13.2" ry="9.8" transform="rotate(174 246.5 361.5)" fill="url(#lg3)" stroke="#5a9e3e" stroke-width="0.6"/>
<ellipse cx="259.6" cy="350.5" rx="9.9" ry="7.4" transform="rotate(-78 259.6 350.5)" fill="url(#lg3)" stroke="#5a9e3e" stroke-width="0.6"/>
<ellipse cx="268.4" cy="354.2" rx="8.2" ry="6.1" transform="rotate(-30 268.4 354.2)" fill="url(#lg1)" stroke="#5a9e3e" stroke-width="0.6"/>
<ellipse cx="281.5" cy="354.2" rx="6.6" ry="4.9" transform="rotate(-14 281.5 354.2)" fill="url(#lg2)" stroke="#5a9e3e" stroke-width="0.6"/>
<ellipse cx="262.6" cy="365.9" rx="11.6" ry="8.6" transform="rotate(48 262.6 365.9)" fill="url(#lg1)" stroke="#5a9e3e" stroke-width="0.6"/>
<ellipse cx="275.7" cy="365.9" rx="8.2" ry="6.1" transform="rotate(17 275.7 365.9)" fill="url(#lg3)" stroke="#5a9e3e" stroke-width="0.6"/>
<ellipse cx="294.7" cy="375.4" rx="13.2" ry="9.8" transform="rotate(22 294.7 375.4)" fill="url(#lg1)" stroke="#5a9e3e" stroke-width="0.6"/>
<ellipse cx="242.1" cy="378.3" rx="8.2" ry="6.1" transform="rotate(131 242.1 378.3)" fill="url(#lg3)" stroke="#5a9e3e" stroke-width="0.6"/>
<ellipse cx="231.2" cy="386.3" rx="8.2" ry="6.1" transform="rotate(135 231.2 386.3)" fill="url(#lg0)" stroke="#5a9e3e" stroke-width="0.6"/>
<ellipse cx="252.3" cy="385.6" rx="11.6" ry="8.6" transform="rotate(102 252.3 385.6)" fill="url(#lg3)" stroke="#5a9e3e" stroke-width="0.6"/>
<ellipse cx="278.6" cy="381.9" rx="11.6" ry="8.6" transform="rotate(46 278.6 381.9)" fill="url(#lg3)" stroke="#5a9e3e" stroke-width="0.6"/>
<ellipse cx="272.8" cy="395.1" rx="11.6" ry="8.6" transform="rotate(66 272.8 395.1)" fill="url(#lg2)" stroke="#5a9e3e" stroke-width="0.6"/>
<ellipse cx="288.8" cy="396.5" rx="8.2" ry="6.1" transform="rotate(49 288.8 396.5)" fill="url(#lg0)" stroke="#5a9e3e" stroke-width="0.6"/>
</g>
<g fill="none" stroke="#b9b898" stroke-width="1.0" stroke-linecap="round">
<path d="M361.0 47.8C363.6 53.0 364.1 58.2 366.3 63.5"/>
<path d="M361.0 47.8L356.6 40.8" stroke="#7fc050" stroke-width="1"/>
<path d="M361.0 47.8L362.8 35.5" stroke="#7fc050" stroke-width="1"/>
<path d="M361.0 47.8L358.4 49.5" stroke="#7fc050" stroke-width="1"/>
<path d="M361.0 47.8L364.5 50.4" stroke="#7fc050" stroke-width="1"/>
<path d="M375.9 51.3C373.6 56.8 373.0 62.3 373.3 67.9"/>
<path d="M375.9 51.3L369.8 33.8" stroke="#7fc050" stroke-width="1"/>
<path d="M375.9 51.3L376.8 38.1" stroke="#7fc050" stroke-width="1"/>
<path d="M375.9 51.3L382.0 38.1" stroke="#7fc050" stroke-width="1"/>
<path d="M375.9 51.3L375.9 51.3" stroke="#7fc050" stroke-width="1"/>
<path d="M389.9 50.4C388.3 56.8 392.2 63.1 390.8 69.7"/>
<path d="M389.9 50.4L389.9 34.6" stroke="#7fc050" stroke-width="1"/>
<path d="M389.9 50.4L396.0 39.9" stroke="#7fc050" stroke-width="1"/>
<path d="M389.9 50.4L389.0 48.7" stroke="#7fc050" stroke-width="1"/>
<path d="M389.9 50.4L402.2 46.9" stroke="#7fc050" stroke-width="1"/>
<path d="M409.2 38.5C411.4 49.4 410.1 60.2 409.2 71.4"/>
<path d="M409.2 38.5L411.0 30.3" stroke="#7fc050" stroke-width="1"/>
<path d="M409.2 38.5L407.5 38.1" stroke="#7fc050" stroke-width="1"/>
<path d="M409.2 38.5L411.0 42.5" stroke="#7fc050" stroke-width="1"/>
<path d="M437.0 48.5C436.7 55.2 436.2 61.9 438.0 68.8"/>
<path d="M437.0 48.5L434.6 40.8" stroke="#7fc050" stroke-width="1"/>
<path d="M437.0 48.5L439.0 46.0" stroke="#7fc050" stroke-width="1"/>
<path d="M437.0 48.5L431.0 48.7" stroke="#7fc050" stroke-width="1"/>
<path d="M437.0 48.5L437.2 56.5" stroke="#7fc050" stroke-width="1"/>
<path d="M452.0 47.5C450.8 56.2 453.1 65.0 453.9 74.0"/>
<path d="M452.0 47.5L445.1 46.0" stroke="#7fc050" stroke-width="1"/>
<path d="M452.0 47.5L452.1 47.8" stroke="#7fc050" stroke-width="1"/>
<path d="M452.0 47.5L458.3 35.5" stroke="#7fc050" stroke-width="1"/>
<path d="M452.0 47.5L461.2 34.2" stroke="#7fc050" stroke-width="1"/>
<path d="M452.0 47.5L456.1 44.4" stroke="#7fc050" stroke-width="1"/>
<path d="M470.4 45.6C470.0 54.6 464.6 63.7 465.3 73.0"/>
<path d="M470.4 45.6L469.4 35.2" stroke="#7fc050" stroke-width="1"/>
<path d="M470.4 45.6L472.5 42.4" stroke="#7fc050" stroke-width="1"/>
<path d="M470.4 45.6L466.3 50.5" stroke="#7fc050" stroke-width="1"/>
<path d="M470.4 45.6L479.6 49.5" stroke="#7fc050" stroke-width="1"/>
<path d="M470.4 45.6L478.6 33.2" stroke="#7fc050" stroke-width="1"/>
<path d="M485.8 40.4C489.4 51.5 487.1 62.6 490.9 74.0"/>
<path d="M485.8 40.4L482.7 34.2" stroke="#7fc050" stroke-width="1"/>
<path d="M485.8 40.4L498.0 32.2" stroke="#7fc050" stroke-width="1"/>
<path d="M485.8 40.4L491.9 48.5" stroke="#7fc050" stroke-width="1"/>
<path d="M528.7 42.5C528.2 51.2 524.3 60.0 524.6 69.0"/>
<path d="M528.7 42.5L527.7 35.2" stroke="#7fc050" stroke-width="1"/>
<path d="M528.7 42.5L525.6 47.5" stroke="#7fc050" stroke-width="1"/>
<path d="M528.7 42.5L535.8 33.2" stroke="#7fc050" stroke-width="1"/>
<path d="M528.7 42.5L537.9 45.4" stroke="#7fc050" stroke-width="1"/>
<path d="M543.0 42.4C545.4 51.8 548.7 61.3 547.1 71.0"/>
<path d="M543.0 42.4L544.0 37.3" stroke="#7fc050" stroke-width="1"/>
<path d="M543.0 42.4L550.1 47.5" stroke="#7fc050" stroke-width="1"/>
<path d="M558.3 40.4C557.2 51.2 556.5 61.9 556.3 73.0"/>
<path d="M558.3 40.4L554.2 33.2" stroke="#7fc050" stroke-width="1"/>
<path d="M558.3 40.4L561.4 35.2" stroke="#7fc050" stroke-width="1"/>
<path d="M558.3 40.4L561.4 51.6" stroke="#7fc050" stroke-width="1"/>
<path d="M570.6 40.4C575.3 49.8 578.9 59.3 586.9 69.0"/>
<path d="M570.6 40.4L571.6 33.2" stroke="#7fc050" stroke-width="1"/>
<path d="M570.6 40.4L566.5 41.3" stroke="#7fc050" stroke-width="1"/>
<path d="M570.6 40.4L576.7 45.4" stroke="#7fc050" stroke-width="1"/>
<path d="M570.6 40.4L583.9 36.2" stroke="#7fc050" stroke-width="1"/>
<path d="M366.1 97.4C365.4 104.4 365.1 111.3 366.1 118.5"/>
<path d="M366.1 97.4L361.1 94.9" stroke="#7fc050" stroke-width="1"/>
<path d="M366.1 97.4L369.8 93.6" stroke="#7fc050" stroke-width="1"/>
<path d="M366.1 97.4L368.6 101.1" stroke="#7fc050" stroke-width="1"/>
<path d="M379.7 99.9C378.7 106.9 379.3 113.8 377.3 121.0"/>
<path d="M379.7 99.9L378.5 97.4" stroke="#7fc050" stroke-width="1"/>
<path d="M379.7 99.9L384.7 97.4" stroke="#7fc050" stroke-width="1"/>
<path d="M379.7 99.9L383.5 102.3" stroke="#7fc050" stroke-width="1"/>
<path d="M395.9 95.4C395.7 105.1 396.8 114.7 397.1 124.7"/>
<path d="M395.9 95.4L390.9 96.9" stroke="#7fc050" stroke-width="1"/>
<path d="M395.9 95.4L398.4 89.9" stroke="#7fc050" stroke-width="1"/>
<path d="M395.9 95.4L405.8 88.7" stroke="#7fc050" stroke-width="1"/>
<path d="M410.8 96.6C409.3 106.3 412.7 115.9 409.5 125.9"/>
<path d="M410.8 96.6L405.8 97.4" stroke="#7fc050" stroke-width="1"/>
<path d="M410.8 96.6L410.8 93.6" stroke="#7fc050" stroke-width="1"/>
<path d="M410.8 96.6L417.0 99.9" stroke="#7fc050" stroke-width="1"/>
<path d="M439.3 96.1C438.6 103.1 444.3 110.0 443.0 117.2"/>
<path d="M439.3 96.1L436.8 93.6" stroke="#7fc050" stroke-width="1"/>
<path d="M439.3 96.1L444.3 92.4" stroke="#7fc050" stroke-width="1"/>
<path d="M439.3 96.1L444.3 98.6" stroke="#7fc050" stroke-width="1"/>
<path d="M454.2 100.3C454.1 107.5 458.9 114.8 457.9 122.2"/>
<path d="M454.2 100.3L451.7 96.1" stroke="#7fc050" stroke-width="1"/>
<path d="M454.2 100.3L457.9 98.6" stroke="#7fc050" stroke-width="1"/>
<path d="M454.2 100.3L456.7 102.3" stroke="#7fc050" stroke-width="1"/>
<path d="M471.6 94.9C467.9 103.9 466.9 112.9 466.6 122.2"/>
<path d="M471.6 94.9L467.8 88.7" stroke="#7fc050" stroke-width="1"/>
<path d="M471.6 94.9L466.6 98.6" stroke="#7fc050" stroke-width="1"/>
<path d="M471.6 94.9L475.3 93.6" stroke="#7fc050" stroke-width="1"/>
<path d="M471.6 94.9L481.5 93.6" stroke="#7fc050" stroke-width="1"/>
<path d="M491.4 100.3C493.4 108.7 489.5 117.2 491.4 125.9"/>
<path d="M491.4 100.3L487.7 97.4" stroke="#7fc050" stroke-width="1"/>
<path d="M491.4 100.3L493.9 98.6" stroke="#7fc050" stroke-width="1"/>
<path d="M491.4 100.3L485.2 102.3" stroke="#7fc050" stroke-width="1"/>
<path d="M533.3 106.3C534.3 111.2 534.6 116.1 532.4 121.2"/>
<path d="M533.3 106.3L531.5 101.9" stroke="#7fc050" stroke-width="1"/>
<path d="M533.3 106.3L530.7 106.3" stroke="#7fc050" stroke-width="1"/>
<path d="M533.3 106.3L537.7 104.5" stroke="#7fc050" stroke-width="1"/>
<path d="M544.7 100.8C547.3 109.0 547.5 117.1 547.3 125.5"/>
<path d="M544.7 100.8L549.0 94.9" stroke="#7fc050" stroke-width="1"/>
<path d="M544.7 100.8L548.2 102.8" stroke="#7fc050" stroke-width="1"/>
<path d="M544.7 100.8L544.7 100.1" stroke="#7fc050" stroke-width="1"/>
<path d="M561.3 100.8C562.4 109.2 558.4 117.7 557.8 126.4"/>
<path d="M561.3 100.8L556.1 94.0" stroke="#7fc050" stroke-width="1"/>
<path d="M561.3 100.8L556.1 101.9" stroke="#7fc050" stroke-width="1"/>
<path d="M561.3 100.8L560.4 96.6" stroke="#7fc050" stroke-width="1"/>
<path d="M561.3 100.8L564.8 99.3" stroke="#7fc050" stroke-width="1"/>
<path d="M577.1 98.8C576.1 106.8 574.9 114.7 573.6 122.9"/>
<path d="M577.1 98.8L569.2 93.1" stroke="#7fc050" stroke-width="1"/>
<path d="M577.1 98.8L573.6 94.9" stroke="#7fc050" stroke-width="1"/>
<path d="M577.1 98.8L584.1 88.8" stroke="#7fc050" stroke-width="1"/>
<path d="M577.1 98.8L577.1 104.5" stroke="#7fc050" stroke-width="1"/>
<path d="M365.4 152.4C365.4 163.8 364.4 175.2 365.4 187.0"/>
<path d="M365.4 152.4L364.4 147.2" stroke="#7fc050" stroke-width="1"/>
<path d="M365.4 152.4L367.5 156.4" stroke="#7fc050" stroke-width="1"/>
<path d="M365.4 152.4L374.6 161.5" stroke="#7fc050" stroke-width="1"/>
<path d="M387.9 158.5C387.1 168.3 390.4 178.0 388.9 188.1"/>
<path d="M387.9 158.5L381.8 161.5" stroke="#7fc050" stroke-width="1"/>
<path d="M387.9 158.5L387.9 156.4" stroke="#7fc050" stroke-width="1"/>
<path d="M387.9 158.5L394.0 160.5" stroke="#7fc050" stroke-width="1"/>
<path d="M403.2 154.4C402.0 165.5 406.3 176.6 404.3 188.1"/>
<path d="M403.2 154.4L402.2 149.2" stroke="#7fc050" stroke-width="1"/>
<path d="M403.2 154.4L401.2 156.4" stroke="#7fc050" stroke-width="1"/>
<path d="M403.2 154.4L408.4 164.6" stroke="#7fc050" stroke-width="1"/>
<path d="M417.6 156.5C418.1 167.3 418.1 178.0 422.7 189.1"/>
<path d="M417.6 156.5L415.5 151.3" stroke="#7fc050" stroke-width="1"/>
<path d="M417.6 156.5L426.7 150.3" stroke="#7fc050" stroke-width="1"/>
<path d="M417.6 156.5L415.5 158.4" stroke="#7fc050" stroke-width="1"/>
<path d="M417.6 156.5L423.7 158.4" stroke="#7fc050" stroke-width="1"/>
<path d="M445.1 156.4C442.7 166.5 443.0 176.6 444.1 187.0"/>
<path d="M445.1 156.4L439.0 154.3" stroke="#7fc050" stroke-width="1"/>
<path d="M445.1 156.4L447.2 152.3" stroke="#7fc050" stroke-width="1"/>
<path d="M445.1 156.4L453.3 158.4" stroke="#7fc050" stroke-width="1"/>
<path d="M461.5 150.4C462.4 163.5 460.5 176.6 462.5 190.1"/>
<path d="M461.5 150.4L459.4 150.3" stroke="#7fc050" stroke-width="1"/>
<path d="M461.5 150.4L463.5 145.2" stroke="#7fc050" stroke-width="1"/>
<path d="M461.5 150.4L457.4 164.6" stroke="#7fc050" stroke-width="1"/>
<path d="M461.5 150.4L467.6 164.6" stroke="#7fc050" stroke-width="1"/>
<path d="M479.9 158.6C478.7 169.3 477.6 180.0 479.9 191.1"/>
<path d="M479.9 158.6L471.7 154.3" stroke="#7fc050" stroke-width="1"/>
<path d="M479.9 158.6L479.9 158.4" stroke="#7fc050" stroke-width="1"/>
<path d="M479.9 158.6L484.0 154.3" stroke="#7fc050" stroke-width="1"/>
<path d="M479.9 158.6L488.2 150.3" stroke="#7fc050" stroke-width="1"/>
<path d="M479.9 158.6L482.0 158.4" stroke="#7fc050" stroke-width="1"/>
<path d="M501.5 152.4C499.1 164.8 504.5 177.3 501.5 190.1"/>
<path d="M501.5 152.4L502.5 149.2" stroke="#7fc050" stroke-width="1"/>
<path d="M501.5 152.4L496.3 161.5" stroke="#7fc050" stroke-width="1"/>
<path d="M501.5 152.4L506.6 161.5" stroke="#7fc050" stroke-width="1"/>
<path d="M536.8 156.5C536.2 165.9 538.9 175.3 536.2 185.0"/>
<path d="M536.8 156.5L541.3 149.2" stroke="#7fc050" stroke-width="1"/>
<path d="M536.8 156.5L534.2 157.4" stroke="#7fc050" stroke-width="1"/>
<path d="M536.8 156.5L540.3 158.4" stroke="#7fc050" stroke-width="1"/>
<path d="M551.5 160.6C552.1 170.3 548.8 180.1 551.5 190.1"/>
<path d="M551.5 160.6L555.6 154.3" stroke="#7fc050" stroke-width="1"/>
<path d="M551.5 160.6L547.4 161.5" stroke="#7fc050" stroke-width="1"/>
<path d="M551.5 160.6L552.5 163.6" stroke="#7fc050" stroke-width="1"/>
<path d="M565.8 156.5C567.2 167.3 569.1 178.0 566.8 189.1"/>
<path d="M565.8 156.5L563.8 155.4" stroke="#7fc050" stroke-width="1"/>
<path d="M565.8 156.5L573.0 151.3" stroke="#7fc050" stroke-width="1"/>
<path d="M565.8 156.5L569.9 158.4" stroke="#7fc050" stroke-width="1"/>
<path d="M581.2 150.4C583.2 163.5 579.0 176.6 580.1 190.1"/>
<path d="M581.2 150.4L583.2 145.2" stroke="#7fc050" stroke-width="1"/>
<path d="M581.2 150.4L581.2 155.4" stroke="#7fc050" stroke-width="1"/>
<path d="M581.2 150.4L576.0 160.5" stroke="#7fc050" stroke-width="1"/>
<path d="M581.2 150.4L590.3 161.5" stroke="#7fc050" stroke-width="1"/>
<path d="M369.5 214.4C368.2 226.2 372.8 238.0 370.5 250.1"/>
<path d="M369.5 214.4L362.4 209.2" stroke="#7fc050" stroke-width="1"/>
<path d="M369.5 214.4L365.4 216.3" stroke="#7fc050" stroke-width="1"/>
<path d="M369.5 214.4L374.6 210.2" stroke="#7fc050" stroke-width="1"/>
<path d="M369.5 214.4L369.5 225.5" stroke="#7fc050" stroke-width="1"/>
<path d="M394.0 214.4C394.0 224.5 392.9 234.6 392.0 245.0"/>
<path d="M394.0 214.4L381.8 216.3" stroke="#7fc050" stroke-width="1"/>
<path d="M394.0 214.4L392.0 209.2" stroke="#7fc050" stroke-width="1"/>
<path d="M394.0 214.4L401.2 216.3" stroke="#7fc050" stroke-width="1"/>
<path d="M394.0 214.4L390.0 226.6" stroke="#7fc050" stroke-width="1"/>
<path d="M414.5 214.4C412.3 225.5 412.8 236.6 412.4 248.0"/>
<path d="M414.5 214.4L409.4 211.2" stroke="#7fc050" stroke-width="1"/>
<path d="M414.5 214.4L414.5 216.3" stroke="#7fc050" stroke-width="1"/>
<path d="M414.5 214.4L411.4 228.6" stroke="#7fc050" stroke-width="1"/>
<path d="M426.7 214.3C427.6 227.1 425.3 239.9 426.7 253.1"/>
<path d="M426.7 214.3L422.7 214.3" stroke="#7fc050" stroke-width="1"/>
<path d="M426.7 214.3L430.8 213.3" stroke="#7fc050" stroke-width="1"/>
<path d="M450.3 220.5C450.5 229.9 450.6 239.3 446.2 249.0"/>
<path d="M450.3 220.5L447.2 211.2" stroke="#7fc050" stroke-width="1"/>
<path d="M450.3 220.5L447.2 220.4" stroke="#7fc050" stroke-width="1"/>
<path d="M450.3 220.5L441.1 230.7" stroke="#7fc050" stroke-width="1"/>
<path d="M450.3 220.5L451.3 225.5" stroke="#7fc050" stroke-width="1"/>
<path d="M465.6 216.4C463.6 227.5 463.4 238.6 466.6 250.1"/>
<path d="M465.6 216.4L457.4 214.3" stroke="#7fc050" stroke-width="1"/>
<path d="M465.6 216.4L469.7 210.2" stroke="#7fc050" stroke-width="1"/>
<path d="M465.6 216.4L477.8 217.4" stroke="#7fc050" stroke-width="1"/>
<path d="M465.6 216.4L465.6 220.4" stroke="#7fc050" stroke-width="1"/>
<path d="M491.2 218.5C490.6 228.9 492.7 239.4 489.2 250.1"/>
<path d="M491.2 218.5L483.0 210.2" stroke="#7fc050" stroke-width="1"/>
<path d="M491.2 218.5L484.1 211.2" stroke="#7fc050" stroke-width="1"/>
<path d="M491.2 218.5L490.2 218.4" stroke="#7fc050" stroke-width="1"/>
<path d="M491.2 218.5L489.2 225.5" stroke="#7fc050" stroke-width="1"/>
<path d="M515.8 214.5C516.1 226.2 514.7 238.0 516.4 250.1"/>
<path d="M515.8 214.5L499.4 215.3" stroke="#7fc050" stroke-width="1"/>
<path d="M515.8 214.5L508.6 217.4" stroke="#7fc050" stroke-width="1"/>
<path d="M515.8 214.5L507.6 227.6" stroke="#7fc050" stroke-width="1"/>
<path d="M515.8 214.5L515.8 209.2" stroke="#7fc050" stroke-width="1"/>
<path d="M515.8 214.5L516.8 224.5" stroke="#7fc050" stroke-width="1"/>
<path d="M540.3 216.4C540.7 228.2 542.6 240.0 542.3 252.1"/>
<path d="M540.3 216.4L538.2 215.3" stroke="#7fc050" stroke-width="1"/>
<path d="M540.3 216.4L545.4 211.2" stroke="#7fc050" stroke-width="1"/>
<path d="M540.3 216.4L535.2 226.6" stroke="#7fc050" stroke-width="1"/>
<path d="M540.3 216.4L546.4 224.5" stroke="#7fc050" stroke-width="1"/>
<path d="M558.7 216.4C559.5 228.2 559.6 240.0 558.7 252.1"/>
<path d="M558.7 216.4L555.6 212.3" stroke="#7fc050" stroke-width="1"/>
<path d="M558.7 216.4L565.8 216.3" stroke="#7fc050" stroke-width="1"/>
<path d="M558.7 216.4L559.7 225.5" stroke="#7fc050" stroke-width="1"/>
<path d="M580.1 216.4C580.7 227.2 583.2 237.9 581.2 249.0"/>
<path d="M580.1 216.4L573.0 212.3" stroke="#7fc050" stroke-width="1"/>
<path d="M580.1 216.4L578.1 218.4" stroke="#7fc050" stroke-width="1"/>
<path d="M580.1 216.4L586.3 221.5" stroke="#7fc050" stroke-width="1"/>
<path d="M596.5 218.5C600.9 229.9 599.4 241.3 602.6 253.1"/>
<path d="M596.5 218.5L597.5 212.3" stroke="#7fc050" stroke-width="1"/>
<path d="M596.5 218.5L603.6 214.3" stroke="#7fc050" stroke-width="1"/>
<path d="M596.5 218.5L594.4 222.5" stroke="#7fc050" stroke-width="1"/>
<path d="M596.5 218.5L591.4 225.5" stroke="#7fc050" stroke-width="1"/>
<path d="M362.4 282.6C360.0 293.4 358.7 304.1 359.3 315.2"/>
<path d="M362.4 282.6L358.3 278.4" stroke="#7fc050" stroke-width="1"/>
<path d="M362.4 282.6L368.5 280.4" stroke="#7fc050" stroke-width="1"/>
<path d="M362.4 282.6L372.6 288.6" stroke="#7fc050" stroke-width="1"/>
<path d="M362.4 282.6L360.3 285.5" stroke="#7fc050" stroke-width="1"/>
<path d="M379.7 276.5C378.2 290.3 382.0 304.0 379.7 318.2"/>
<path d="M379.7 276.5L381.8 269.2" stroke="#7fc050" stroke-width="1"/>
<path d="M379.7 276.5L383.8 291.7" stroke="#7fc050" stroke-width="1"/>
<path d="M379.7 276.5L367.5 272.3" stroke="#7fc050" stroke-width="1"/>
<path d="M399.2 280.5C403.0 293.6 402.4 306.8 407.3 320.3"/>
<path d="M399.2 280.5L404.3 271.2" stroke="#7fc050" stroke-width="1"/>
<path d="M399.2 280.5L411.4 271.2" stroke="#7fc050" stroke-width="1"/>
<path d="M399.2 280.5L394.0 284.5" stroke="#7fc050" stroke-width="1"/>
<path d="M399.2 280.5L405.3 292.7" stroke="#7fc050" stroke-width="1"/>
<path d="M422.7 276.5C425.5 293.0 426.3 309.4 423.7 326.4"/>
<path d="M422.7 276.5L417.6 271.2" stroke="#7fc050" stroke-width="1"/>
<path d="M422.7 276.5L432.9 272.3" stroke="#7fc050" stroke-width="1"/>
<path d="M422.7 276.5L423.7 278.4" stroke="#7fc050" stroke-width="1"/>
<path d="M422.7 276.5L418.6 290.7" stroke="#7fc050" stroke-width="1"/>
<path d="M451.3 274.4C453.3 289.9 449.0 305.4 452.3 321.3"/>
<path d="M451.3 274.4L453.3 269.2" stroke="#7fc050" stroke-width="1"/>
<path d="M451.3 274.4L447.2 276.3" stroke="#7fc050" stroke-width="1"/>
<path d="M451.3 274.4L445.1 293.7" stroke="#7fc050" stroke-width="1"/>
<path d="M451.3 274.4L455.4 286.6" stroke="#7fc050" stroke-width="1"/>
<path d="M469.7 284.6C470.0 296.4 471.3 308.2 468.6 320.3"/>
<path d="M469.7 284.6L469.7 279.4" stroke="#7fc050" stroke-width="1"/>
<path d="M469.7 284.6L475.8 281.5" stroke="#7fc050" stroke-width="1"/>
<path d="M469.7 284.6L461.5 292.7" stroke="#7fc050" stroke-width="1"/>
<path d="M469.7 284.6L471.7 292.7" stroke="#7fc050" stroke-width="1"/>
<path d="M469.7 284.6L481.9 288.6" stroke="#7fc050" stroke-width="1"/>
<path d="M472.0 290.8C471.3 299.5 468.7 308.2 471.0 317.2"/>
<path d="M472.0 290.8L474.1 280.4" stroke="#7fc050" stroke-width="1"/>
<path d="M472.0 290.8L472.0 292.7" stroke="#7fc050" stroke-width="1"/>
<path d="M472.0 290.8L480.2 287.6" stroke="#7fc050" stroke-width="1"/>
<path d="M487.4 282.6C489.2 296.7 488.7 310.8 490.4 325.4"/>
<path d="M487.4 282.6L488.4 277.4" stroke="#7fc050" stroke-width="1"/>
<path d="M487.4 282.6L496.6 270.2" stroke="#7fc050" stroke-width="1"/>
<path d="M487.4 282.6L495.5 280.4" stroke="#7fc050" stroke-width="1"/>
<path d="M487.4 282.6L481.2 288.6" stroke="#7fc050" stroke-width="1"/>
<path d="M502.7 294.8C502.7 304.6 505.5 314.3 502.7 324.4"/>
<path d="M502.7 294.8L515.0 281.5" stroke="#7fc050" stroke-width="1"/>
<path d="M502.7 294.8L513.9 293.7" stroke="#7fc050" stroke-width="1"/>
<path d="M502.7 294.8L515.0 303.9" stroke="#7fc050" stroke-width="1"/>
<path d="M502.7 294.8L500.7 295.8" stroke="#7fc050" stroke-width="1"/>
<path d="M542.6 276.4C543.1 289.5 543.8 302.7 542.6 316.2"/>
<path d="M542.6 276.4L541.5 272.3" stroke="#7fc050" stroke-width="1"/>
<path d="M542.6 276.4L533.4 274.3" stroke="#7fc050" stroke-width="1"/>
<path d="M542.6 276.4L554.8 284.5" stroke="#7fc050" stroke-width="1"/>
<path d="M563.0 280.5C560.7 294.0 561.1 307.4 563.0 321.3"/>
<path d="M563.0 280.5L566.1 274.3" stroke="#7fc050" stroke-width="1"/>
<path d="M563.0 280.5L555.8 279.4" stroke="#7fc050" stroke-width="1"/>
<path d="M563.0 280.5L566.1 291.7" stroke="#7fc050" stroke-width="1"/>
<path d="M563.0 280.5L553.8 284.5" stroke="#7fc050" stroke-width="1"/>
<path d="M579.6 278.4C578.8 293.6 577.3 308.8 580.6 324.5"/>
<path d="M579.6 278.4L575.7 268.7" stroke="#7fc050" stroke-width="1"/>
<path d="M579.6 278.4L588.4 273.6" stroke="#7fc050" stroke-width="1"/>
<path d="M579.6 278.4L571.7 285.3" stroke="#7fc050" stroke-width="1"/>
<path d="M579.6 278.4L583.5 283.4" stroke="#7fc050" stroke-width="1"/>
<path d="M596.2 286.2C594.9 298.8 593.9 311.5 594.3 324.5"/>
<path d="M596.2 286.2L601.1 282.4" stroke="#7fc050" stroke-width="1"/>
<path d="M596.2 286.2L608.9 285.3" stroke="#7fc050" stroke-width="1"/>
<path d="M596.2 286.2L600.1 292.2" stroke="#7fc050" stroke-width="1"/>
<path d="M363.4 353.5C366.8 366.3 364.4 379.0 366.5 392.2"/>
<path d="M363.4 353.5L356.2 354.4" stroke="#7fc050" stroke-width="1"/>
<path d="M363.4 353.5L361.4 346.2" stroke="#7fc050" stroke-width="1"/>
<path d="M363.4 353.5L355.2 360.5" stroke="#7fc050" stroke-width="1"/>
<path d="M363.4 353.5L364.4 366.7" stroke="#7fc050" stroke-width="1"/>
<path d="M363.4 353.5L370.5 355.4" stroke="#7fc050" stroke-width="1"/>
<path d="M385.9 355.7C381.5 368.1 384.1 380.4 379.7 393.2"/>
<path d="M385.9 355.7L377.7 351.3" stroke="#7fc050" stroke-width="1"/>
<path d="M385.9 355.7L387.9 348.3" stroke="#7fc050" stroke-width="1"/>
<path d="M385.9 355.7L384.9 361.6" stroke="#7fc050" stroke-width="1"/>
<path d="M385.9 355.7L375.7 357.5" stroke="#7fc050" stroke-width="1"/>
<path d="M403.2 351.6C402.8 365.7 403.3 379.8 406.3 394.3"/>
<path d="M403.2 351.6L398.1 344.2" stroke="#7fc050" stroke-width="1"/>
<path d="M403.2 351.6L404.3 350.3" stroke="#7fc050" stroke-width="1"/>
<path d="M403.2 351.6L395.1 365.7" stroke="#7fc050" stroke-width="1"/>
<path d="M403.2 351.6L406.3 368.7" stroke="#7fc050" stroke-width="1"/>
<path d="M403.2 351.6L416.5 351.3" stroke="#7fc050" stroke-width="1"/>
<path d="M429.8 353.6C430.3 367.7 430.0 381.8 433.9 396.3"/>
<path d="M429.8 353.6L432.9 346.2" stroke="#7fc050" stroke-width="1"/>
<path d="M429.8 353.6L431.9 354.4" stroke="#7fc050" stroke-width="1"/>
<path d="M429.8 353.6L422.7 368.7" stroke="#7fc050" stroke-width="1"/>
<path d="M429.8 353.6L442.1 369.7" stroke="#7fc050" stroke-width="1"/>
<path d="M458.4 357.6C457.0 370.0 458.7 382.5 457.4 395.3"/>
<path d="M458.4 357.6L455.4 353.4" stroke="#7fc050" stroke-width="1"/>
<path d="M458.4 357.6L451.3 357.5" stroke="#7fc050" stroke-width="1"/>
<path d="M458.4 357.6L467.6 353.4" stroke="#7fc050" stroke-width="1"/>
<path d="M458.4 357.6L459.4 364.6" stroke="#7fc050" stroke-width="1"/>
<path d="M480.2 359.7C476.6 371.4 477.2 383.2 473.1 395.3"/>
<path d="M480.2 359.7L477.8 352.4" stroke="#7fc050" stroke-width="1"/>
<path d="M480.2 359.7L469.7 358.5" stroke="#7fc050" stroke-width="1"/>
<path d="M480.2 359.7L478.8 368.7" stroke="#7fc050" stroke-width="1"/>
<path d="M499.6 355.6C500.3 369.4 506.9 383.1 507.8 397.3"/>
<path d="M499.6 355.6L493.5 350.3" stroke="#7fc050" stroke-width="1"/>
<path d="M499.6 355.6L487.4 356.5" stroke="#7fc050" stroke-width="1"/>
<path d="M499.6 355.6L506.8 355.4" stroke="#7fc050" stroke-width="1"/>
<path d="M499.6 355.6L497.6 366.7" stroke="#7fc050" stroke-width="1"/>
<path d="M524.2 351.5C522.1 365.3 524.0 379.0 523.1 393.2"/>
<path d="M524.2 351.5L524.2 344.2" stroke="#7fc050" stroke-width="1"/>
<path d="M524.2 351.5L520.1 357.5" stroke="#7fc050" stroke-width="1"/>
<path d="M524.2 351.5L518.0 372.8" stroke="#7fc050" stroke-width="1"/>
<path d="M524.2 351.5L525.2 368.7" stroke="#7fc050" stroke-width="1"/>
<path d="M524.2 351.5L516.0 377.9" stroke="#7fc050" stroke-width="1"/>
<path d="M547.7 355.5C547.5 367.9 547.2 380.4 548.7 393.2"/>
<path d="M547.7 355.5L539.5 355.4" stroke="#7fc050" stroke-width="1"/>
<path d="M547.7 355.5L546.6 352.4" stroke="#7fc050" stroke-width="1"/>
<path d="M547.7 355.5L553.8 351.3" stroke="#7fc050" stroke-width="1"/>
<path d="M547.7 355.5L555.8 366.7" stroke="#7fc050" stroke-width="1"/>
<path d="M569.1 353.6C570.1 367.4 567.3 381.1 570.1 395.3"/>
<path d="M569.1 353.6L563.0 345.2" stroke="#7fc050" stroke-width="1"/>
<path d="M569.1 353.6L572.2 347.3" stroke="#7fc050" stroke-width="1"/>
<path d="M569.1 353.6L567.1 357.5" stroke="#7fc050" stroke-width="1"/>
<path d="M569.1 353.6L580.4 363.6" stroke="#7fc050" stroke-width="1"/>
<path d="M569.1 353.6L576.3 367.7" stroke="#7fc050" stroke-width="1"/>
<path d="M591.6 353.6C594.5 367.7 595.0 381.8 593.6 396.3"/>
<path d="M591.6 353.6L591.6 347.3" stroke="#7fc050" stroke-width="1"/>
<path d="M591.6 353.6L600.8 352.4" stroke="#7fc050" stroke-width="1"/>
<path d="M591.6 353.6L594.7 357.5" stroke="#7fc050" stroke-width="1"/>
<path d="M591.6 353.6L592.6 371.8" stroke="#7fc050" stroke-width="1"/>
<path d="M591.6 353.6L580.6 363.7" stroke="#7fc050" stroke-width="1"/>
<path d="M611.9 352.8C606.0 366.1 605.9 379.3 599.2 393.0"/>
<path d="M611.9 352.8L604.0 352.9" stroke="#7fc050" stroke-width="1"/>
<path d="M611.9 352.8L618.7 342.1" stroke="#7fc050" stroke-width="1"/>
<path d="M611.9 352.8L621.7 362.7" stroke="#7fc050" stroke-width="1"/>
<path d="M611.9 352.8L610.9 349.0" stroke="#7fc050" stroke-width="1"/>
</g>
<ellipse cx="356.6" cy="40.8" rx="3.6" ry="2.5" transform="rotate(-122 356.6 40.8)" fill="url(#sg2)"/>
<ellipse cx="362.8" cy="35.5" rx="3.6" ry="2.5" transform="rotate(-82 362.8 35.5)" fill="url(#sg1)"/>
<ellipse cx="358.4" cy="49.5" rx="3.6" ry="2.5" transform="rotate(147 358.4 49.5)" fill="url(#sg1)"/>
<ellipse cx="364.5" cy="50.4" rx="3.6" ry="2.5" transform="rotate(37 364.5 50.4)" fill="url(#sg2)"/>
<ellipse cx="369.8" cy="33.8" rx="3.6" ry="2.5" transform="rotate(-109 369.8 33.8)" fill="url(#sg1)"/>
<ellipse cx="376.8" cy="38.1" rx="3.6" ry="2.5" transform="rotate(-86 376.8 38.1)" fill="url(#sg0)"/>
<ellipse cx="382.0" cy="38.1" rx="3.6" ry="2.5" transform="rotate(-65 382.0 38.1)" fill="url(#sg1)"/>
<ellipse cx="375.9" cy="51.3" rx="3.6" ry="2.5" transform="rotate(-90 375.9 51.3)" fill="url(#sg2)"/>
<ellipse cx="389.9" cy="34.6" rx="3.6" ry="2.5" transform="rotate(-90 389.9 34.6)" fill="url(#sg2)"/>
<ellipse cx="396.0" cy="39.9" rx="3.6" ry="2.5" transform="rotate(-60 396.0 39.9)" fill="url(#sg2)"/>
<ellipse cx="389.0" cy="48.7" rx="3.6" ry="2.5" transform="rotate(-118 389.0 48.7)" fill="url(#sg0)"/>
<ellipse cx="402.2" cy="46.9" rx="3.6" ry="2.5" transform="rotate(-16 402.2 46.9)" fill="url(#sg0)"/>
<ellipse cx="411.0" cy="30.3" rx="3.6" ry="2.5" transform="rotate(-78 411.0 30.3)" fill="url(#sg2)"/>
<ellipse cx="407.5" cy="38.1" rx="3.6" ry="2.5" transform="rotate(-167 407.5 38.1)" fill="url(#sg2)"/>
<ellipse cx="411.0" cy="42.5" rx="3.6" ry="2.5" transform="rotate(66 411.0 42.5)" fill="url(#sg2)"/>
<ellipse cx="434.6" cy="40.8" rx="3.6" ry="2.5" transform="rotate(-107 434.6 40.8)" fill="url(#sg1)"/>
<ellipse cx="439.0" cy="46.0" rx="3.6" ry="2.5" transform="rotate(-51 439.0 46.0)" fill="url(#sg2)"/>
<ellipse cx="431.0" cy="48.7" rx="3.6" ry="2.5" transform="rotate(178 431.0 48.7)" fill="url(#sg2)"/>
<ellipse cx="437.2" cy="56.5" rx="3.6" ry="2.5" transform="rotate(89 437.2 56.5)" fill="url(#sg2)"/>
<ellipse cx="445.1" cy="46.0" rx="3.6" ry="2.5" transform="rotate(-168 445.1 46.0)" fill="url(#sg0)"/>
<ellipse cx="452.1" cy="47.8" rx="3.6" ry="2.5" transform="rotate(-90 452.1 47.8)" fill="url(#sg2)"/>
<ellipse cx="458.3" cy="35.5" rx="3.6" ry="2.5" transform="rotate(-62 458.3 35.5)" fill="url(#sg2)"/>
<ellipse cx="461.2" cy="34.2" rx="3.6" ry="2.5" transform="rotate(-55 461.2 34.2)" fill="url(#sg2)"/>
<ellipse cx="456.1" cy="44.4" rx="3.6" ry="2.5" transform="rotate(-37 456.1 44.4)" fill="url(#sg0)"/>
<ellipse cx="469.4" cy="35.2" rx="3.6" ry="2.5" transform="rotate(-95 469.4 35.2)" fill="url(#sg2)"/>
<ellipse cx="472.5" cy="42.4" rx="3.6" ry="2.5" transform="rotate(-57 472.5 42.4)" fill="url(#sg2)"/>
<ellipse cx="466.3" cy="50.5" rx="3.6" ry="2.5" transform="rotate(130 466.3 50.5)" fill="url(#sg2)"/>
<ellipse cx="479.6" cy="49.5" rx="3.6" ry="2.5" transform="rotate(23 479.6 49.5)" fill="url(#sg2)"/>
<ellipse cx="478.6" cy="33.2" rx="3.6" ry="2.5" transform="rotate(-57 478.6 33.2)" fill="url(#sg2)"/>
<ellipse cx="482.7" cy="34.2" rx="3.6" ry="2.5" transform="rotate(-117 482.7 34.2)" fill="url(#sg2)"/>
<ellipse cx="498.0" cy="32.2" rx="3.6" ry="2.5" transform="rotate(-34 498.0 32.2)" fill="url(#sg0)"/>
<ellipse cx="491.9" cy="48.5" rx="3.6" ry="2.5" transform="rotate(53 491.9 48.5)" fill="url(#sg0)"/>
<ellipse cx="527.7" cy="35.2" rx="3.6" ry="2.5" transform="rotate(-98 527.7 35.2)" fill="url(#sg0)"/>
<ellipse cx="525.6" cy="47.5" rx="3.6" ry="2.5" transform="rotate(122 525.6 47.5)" fill="url(#sg0)"/>
<ellipse cx="535.8" cy="33.2" rx="3.6" ry="2.5" transform="rotate(-53 535.8 33.2)" fill="url(#sg0)"/>
<ellipse cx="537.9" cy="45.4" rx="3.6" ry="2.5" transform="rotate(17 537.9 45.4)" fill="url(#sg2)"/>
<ellipse cx="544.0" cy="37.3" rx="3.6" ry="2.5" transform="rotate(-79 544.0 37.3)" fill="url(#sg1)"/>
<ellipse cx="550.1" cy="47.5" rx="3.6" ry="2.5" transform="rotate(36 550.1 47.5)" fill="url(#sg0)"/>
<ellipse cx="554.2" cy="33.2" rx="3.6" ry="2.5" transform="rotate(-120 554.2 33.2)" fill="url(#sg1)"/>
<ellipse cx="561.4" cy="35.2" rx="3.6" ry="2.5" transform="rotate(-59 561.4 35.2)" fill="url(#sg1)"/>
<ellipse cx="561.4" cy="51.6" rx="3.6" ry="2.5" transform="rotate(75 561.4 51.6)" fill="url(#sg2)"/>
<ellipse cx="571.6" cy="33.2" rx="3.6" ry="2.5" transform="rotate(-82 571.6 33.2)" fill="url(#sg0)"/>
<ellipse cx="566.5" cy="41.3" rx="3.6" ry="2.5" transform="rotate(168 566.5 41.3)" fill="url(#sg2)"/>
<ellipse cx="576.7" cy="45.4" rx="3.6" ry="2.5" transform="rotate(39 576.7 45.4)" fill="url(#sg0)"/>
<ellipse cx="583.9" cy="36.2" rx="3.6" ry="2.5" transform="rotate(-18 583.9 36.2)" fill="url(#sg2)"/>
<ellipse cx="361.1" cy="94.9" rx="3.6" ry="2.5" transform="rotate(-153 361.1 94.9)" fill="url(#sg2)"/>
<ellipse cx="369.8" cy="93.6" rx="3.6" ry="2.5" transform="rotate(-46 369.8 93.6)" fill="url(#sg2)"/>
<ellipse cx="368.6" cy="101.1" rx="3.6" ry="2.5" transform="rotate(56 368.6 101.1)" fill="url(#sg0)"/>
<ellipse cx="378.5" cy="97.4" rx="3.6" ry="2.5" transform="rotate(-116 378.5 97.4)" fill="url(#sg1)"/>
<ellipse cx="384.7" cy="97.4" rx="3.6" ry="2.5" transform="rotate(-27 384.7 97.4)" fill="url(#sg1)"/>
<ellipse cx="383.5" cy="102.3" rx="3.6" ry="2.5" transform="rotate(32 383.5 102.3)" fill="url(#sg0)"/>
<ellipse cx="390.9" cy="96.9" rx="3.6" ry="2.5" transform="rotate(163 390.9 96.9)" fill="url(#sg1)"/>
<ellipse cx="398.4" cy="89.9" rx="3.6" ry="2.5" transform="rotate(-66 398.4 89.9)" fill="url(#sg0)"/>
<ellipse cx="405.8" cy="88.7" rx="3.6" ry="2.5" transform="rotate(-34 405.8 88.7)" fill="url(#sg2)"/>
<ellipse cx="405.8" cy="97.4" rx="3.6" ry="2.5" transform="rotate(171 405.8 97.4)" fill="url(#sg2)"/>
<ellipse cx="410.8" cy="93.6" rx="3.6" ry="2.5" transform="rotate(-90 410.8 93.6)" fill="url(#sg2)"/>
<ellipse cx="417.0" cy="99.9" rx="3.6" ry="2.5" transform="rotate(28 417.0 99.9)" fill="url(#sg0)"/>
<ellipse cx="436.8" cy="93.6" rx="3.6" ry="2.5" transform="rotate(-135 436.8 93.6)" fill="url(#sg2)"/>
<ellipse cx="444.3" cy="92.4" rx="3.6" ry="2.5" transform="rotate(-37 444.3 92.4)" fill="url(#sg2)"/>
<ellipse cx="444.3" cy="98.6" rx="3.6" ry="2.5" transform="rotate(27 444.3 98.6)" fill="url(#sg0)"/>
<ellipse cx="451.7" cy="96.1" rx="3.6" ry="2.5" transform="rotate(-121 451.7 96.1)" fill="url(#sg2)"/>
<ellipse cx="457.9" cy="98.6" rx="3.6" ry="2.5" transform="rotate(-25 457.9 98.6)" fill="url(#sg2)"/>
<ellipse cx="456.7" cy="102.3" rx="3.6" ry="2.5" transform="rotate(39 456.7 102.3)" fill="url(#sg1)"/>
<ellipse cx="467.8" cy="88.7" rx="3.6" ry="2.5" transform="rotate(-122 467.8 88.7)" fill="url(#sg1)"/>
<ellipse cx="466.6" cy="98.6" rx="3.6" ry="2.5" transform="rotate(143 466.6 98.6)" fill="url(#sg0)"/>
<ellipse cx="475.3" cy="93.6" rx="3.6" ry="2.5" transform="rotate(-19 475.3 93.6)" fill="url(#sg1)"/>
<ellipse cx="481.5" cy="93.6" rx="3.6" ry="2.5" transform="rotate(-7 481.5 93.6)" fill="url(#sg0)"/>
<ellipse cx="487.7" cy="97.4" rx="3.6" ry="2.5" transform="rotate(-142 487.7 97.4)" fill="url(#sg2)"/>
<ellipse cx="493.9" cy="98.6" rx="3.6" ry="2.5" transform="rotate(-34 493.9 98.6)" fill="url(#sg0)"/>
<ellipse cx="485.2" cy="102.3" rx="3.6" ry="2.5" transform="rotate(162 485.2 102.3)" fill="url(#sg0)"/>
<ellipse cx="531.5" cy="101.9" rx="3.6" ry="2.5" transform="rotate(-112 531.5 101.9)" fill="url(#sg2)"/>
<ellipse cx="530.7" cy="106.3" rx="3.6" ry="2.5" transform="rotate(180 530.7 106.3)" fill="url(#sg2)"/>
<ellipse cx="537.7" cy="104.5" rx="3.6" ry="2.5" transform="rotate(-22 537.7 104.5)" fill="url(#sg1)"/>
<ellipse cx="549.0" cy="94.9" rx="3.6" ry="2.5" transform="rotate(-54 549.0 94.9)" fill="url(#sg1)"/>
<ellipse cx="548.2" cy="102.8" rx="3.6" ry="2.5" transform="rotate(30 548.2 102.8)" fill="url(#sg1)"/>
<ellipse cx="544.7" cy="100.1" rx="3.6" ry="2.5" transform="rotate(-90 544.7 100.1)" fill="url(#sg0)"/>
<ellipse cx="556.1" cy="94.0" rx="3.6" ry="2.5" transform="rotate(-127 556.1 94.0)" fill="url(#sg1)"/>
<ellipse cx="556.1" cy="101.9" rx="3.6" ry="2.5" transform="rotate(168 556.1 101.9)" fill="url(#sg2)"/>
<ellipse cx="560.4" cy="96.6" rx="3.6" ry="2.5" transform="rotate(-102 560.4 96.6)" fill="url(#sg1)"/>
<ellipse cx="564.8" cy="99.3" rx="3.6" ry="2.5" transform="rotate(-23 564.8 99.3)" fill="url(#sg0)"/>
<ellipse cx="569.2" cy="93.1" rx="3.6" ry="2.5" transform="rotate(-144 569.2 93.1)" fill="url(#sg2)"/>
<ellipse cx="573.6" cy="94.9" rx="3.6" ry="2.5" transform="rotate(-132 573.6 94.9)" fill="url(#sg2)"/>
<ellipse cx="584.1" cy="88.8" rx="3.6" ry="2.5" transform="rotate(-55 584.1 88.8)" fill="url(#sg2)"/>
<ellipse cx="577.1" cy="104.5" rx="3.6" ry="2.5" transform="rotate(90 577.1 104.5)" fill="url(#sg0)"/>
<ellipse cx="364.4" cy="147.2" rx="6.0" ry="3.0" transform="rotate(-101 364.4 147.2)" fill="url(#sg0)"/>
<ellipse cx="367.5" cy="156.4" rx="4.0" ry="2.8" transform="rotate(62 367.5 156.4)" fill="url(#sg2)"/>
<ellipse cx="374.6" cy="161.5" rx="4.0" ry="2.8" transform="rotate(45 374.6 161.5)" fill="url(#sg0)"/>
<ellipse cx="381.8" cy="161.5" rx="4.0" ry="2.8" transform="rotate(154 381.8 161.5)" fill="url(#sg1)"/>
<ellipse cx="387.9" cy="156.4" rx="4.0" ry="2.8" transform="rotate(-90 387.9 156.4)" fill="url(#sg1)"/>
<ellipse cx="394.0" cy="160.5" rx="4.0" ry="2.8" transform="rotate(18 394.0 160.5)" fill="url(#sg2)"/>
<ellipse cx="402.2" cy="149.2" rx="6.0" ry="3.6" transform="rotate(-101 402.2 149.2)" fill="url(#sg2)"/>
<ellipse cx="401.2" cy="156.4" rx="4.0" ry="2.8" transform="rotate(135 401.2 156.4)" fill="url(#sg2)"/>
<ellipse cx="408.4" cy="164.6" rx="4.0" ry="2.8" transform="rotate(63 408.4 164.6)" fill="url(#sg1)"/>
<ellipse cx="415.5" cy="151.3" rx="4.0" ry="2.8" transform="rotate(-112 415.5 151.3)" fill="url(#sg2)"/>
<ellipse cx="426.7" cy="150.3" rx="4.0" ry="2.8" transform="rotate(-34 426.7 150.3)" fill="url(#sg2)"/>
<ellipse cx="415.5" cy="158.4" rx="4.0" ry="2.8" transform="rotate(138 415.5 158.4)" fill="url(#sg0)"/>
<ellipse cx="423.7" cy="158.4" rx="4.0" ry="2.8" transform="rotate(17 423.7 158.4)" fill="url(#sg0)"/>
<ellipse cx="439.0" cy="154.3" rx="4.0" ry="2.8" transform="rotate(-161 439.0 154.3)" fill="url(#sg1)"/>
<ellipse cx="447.2" cy="152.3" rx="4.0" ry="2.8" transform="rotate(-63 447.2 152.3)" fill="url(#sg0)"/>
<ellipse cx="453.3" cy="158.4" rx="4.0" ry="2.8" transform="rotate(14 453.3 158.4)" fill="url(#sg1)"/>
<ellipse cx="459.4" cy="150.3" rx="4.0" ry="2.8" transform="rotate(-177 459.4 150.3)" fill="url(#sg1)"/>
<ellipse cx="463.5" cy="145.2" rx="4.0" ry="2.8" transform="rotate(-69 463.5 145.2)" fill="url(#sg2)"/>
<ellipse cx="457.4" cy="164.6" rx="4.0" ry="2.8" transform="rotate(106 457.4 164.6)" fill="url(#sg0)"/>
<ellipse cx="467.6" cy="164.6" rx="4.0" ry="2.8" transform="rotate(67 467.6 164.6)" fill="url(#sg2)"/>
<ellipse cx="471.7" cy="154.3" rx="4.0" ry="2.8" transform="rotate(-152 471.7 154.3)" fill="url(#sg0)"/>
<ellipse cx="479.9" cy="158.4" rx="4.0" ry="2.8" transform="rotate(-90 479.9 158.4)" fill="url(#sg2)"/>
<ellipse cx="484.0" cy="154.3" rx="4.0" ry="2.8" transform="rotate(-46 484.0 154.3)" fill="url(#sg1)"/>
<ellipse cx="488.2" cy="150.3" rx="6.0" ry="3.6" transform="rotate(-45 488.2 150.3)" fill="url(#sg1)"/>
<ellipse cx="482.0" cy="158.4" rx="4.0" ry="2.8" transform="rotate(-5 482.0 158.4)" fill="url(#sg2)"/>
<ellipse cx="502.5" cy="149.2" rx="6.0" ry="3.6" transform="rotate(-73 502.5 149.2)" fill="url(#sg2)"/>
<ellipse cx="496.3" cy="161.5" rx="4.0" ry="2.8" transform="rotate(120 496.3 161.5)" fill="url(#sg1)"/>
<ellipse cx="506.6" cy="161.5" rx="4.0" ry="2.8" transform="rotate(61 506.6 161.5)" fill="url(#sg1)"/>
<ellipse cx="541.3" cy="149.2" rx="6.0" ry="4.2" transform="rotate(-58 541.3 149.2)" fill="url(#sg1)"/>
<ellipse cx="534.2" cy="157.4" rx="4.0" ry="2.8" transform="rotate(161 534.2 157.4)" fill="url(#sg1)"/>
<ellipse cx="540.3" cy="158.4" rx="4.0" ry="2.8" transform="rotate(28 540.3 158.4)" fill="url(#sg0)"/>
<ellipse cx="555.6" cy="154.3" rx="6.0" ry="4.2" transform="rotate(-57 555.6 154.3)" fill="url(#sg2)"/>
<ellipse cx="547.4" cy="161.5" rx="4.0" ry="2.8" transform="rotate(168 547.4 161.5)" fill="url(#sg0)"/>
<ellipse cx="552.5" cy="163.6" rx="4.0" ry="2.8" transform="rotate(72 552.5 163.6)" fill="url(#sg1)"/>
<ellipse cx="563.8" cy="155.4" rx="4.0" ry="2.8" transform="rotate(-151 563.8 155.4)" fill="url(#sg0)"/>
<ellipse cx="573.0" cy="151.3" rx="4.0" ry="2.8" transform="rotate(-36 573.0 151.3)" fill="url(#sg1)"/>
<ellipse cx="569.9" cy="158.4" rx="4.0" ry="2.8" transform="rotate(25 569.9 158.4)" fill="url(#sg0)"/>
<ellipse cx="583.2" cy="145.2" rx="5.4" ry="3.6" transform="rotate(-69 583.2 145.2)" fill="url(#sg1)"/>
<ellipse cx="581.2" cy="155.4" rx="4.0" ry="2.8" transform="rotate(90 581.2 155.4)" fill="url(#sg1)"/>
<ellipse cx="576.0" cy="160.5" rx="4.0" ry="2.8" transform="rotate(117 576.0 160.5)" fill="url(#sg0)"/>
<ellipse cx="590.3" cy="161.5" rx="4.0" ry="2.8" transform="rotate(51 590.3 161.5)" fill="url(#sg2)"/>
<ellipse cx="362.4" cy="209.2" rx="4.0" ry="2.8" transform="rotate(-144 362.4 209.2)" fill="url(#sg1)"/>
<ellipse cx="365.4" cy="216.3" rx="4.0" ry="2.8" transform="rotate(155 365.4 216.3)" fill="url(#sg1)"/>
<ellipse cx="374.6" cy="210.2" rx="4.0" ry="2.8" transform="rotate(-39 374.6 210.2)" fill="url(#sg1)"/>
<ellipse cx="369.5" cy="225.5" rx="4.0" ry="2.8" transform="rotate(90 369.5 225.5)" fill="url(#sg0)"/>
<ellipse cx="381.8" cy="216.3" rx="4.0" ry="2.8" transform="rotate(171 381.8 216.3)" fill="url(#sg0)"/>
<ellipse cx="392.0" cy="209.2" rx="4.0" ry="2.8" transform="rotate(-111 392.0 209.2)" fill="url(#sg0)"/>
<ellipse cx="401.2" cy="216.3" rx="4.0" ry="2.8" transform="rotate(15 401.2 216.3)" fill="url(#sg2)"/>
<ellipse cx="390.0" cy="226.6" rx="4.0" ry="2.8" transform="rotate(108 390.0 226.6)" fill="url(#sg0)"/>
<ellipse cx="409.4" cy="211.2" rx="4.0" ry="2.8" transform="rotate(-148 409.4 211.2)" fill="url(#sg0)"/>
<ellipse cx="414.5" cy="216.3" rx="4.0" ry="2.8" transform="rotate(90 414.5 216.3)" fill="url(#sg2)"/>
<ellipse cx="411.4" cy="228.6" rx="4.0" ry="2.8" transform="rotate(102 411.4 228.6)" fill="url(#sg2)"/>
<ellipse cx="422.7" cy="214.3" rx="4.0" ry="2.8" transform="rotate(180 422.7 214.3)" fill="url(#sg1)"/>
<ellipse cx="430.8" cy="213.3" rx="4.0" ry="2.8" transform="rotate(-14 430.8 213.3)" fill="url(#sg1)"/>
<ellipse cx="447.2" cy="211.2" rx="4.0" ry="2.8" transform="rotate(-108 447.2 211.2)" fill="url(#sg0)"/>
<ellipse cx="447.2" cy="220.4" rx="4.0" ry="2.8" transform="rotate(-178 447.2 220.4)" fill="url(#sg2)"/>
<ellipse cx="441.1" cy="230.7" rx="4.0" ry="2.8" transform="rotate(132 441.1 230.7)" fill="url(#sg2)"/>
<ellipse cx="451.3" cy="225.5" rx="4.0" ry="2.8" transform="rotate(79 451.3 225.5)" fill="url(#sg2)"/>
<ellipse cx="457.4" cy="214.3" rx="4.0" ry="2.8" transform="rotate(-166 457.4 214.3)" fill="url(#sg1)"/>
<ellipse cx="469.7" cy="210.2" rx="4.0" ry="2.8" transform="rotate(-57 469.7 210.2)" fill="url(#sg0)"/>
<ellipse cx="477.8" cy="217.4" rx="4.0" ry="2.8" transform="rotate(5 477.8 217.4)" fill="url(#sg2)"/>
<ellipse cx="465.6" cy="220.4" rx="4.0" ry="2.8" transform="rotate(90 465.6 220.4)" fill="url(#sg1)"/>
<ellipse cx="483.0" cy="210.2" rx="4.0" ry="2.8" transform="rotate(-135 483.0 210.2)" fill="url(#sg0)"/>
<ellipse cx="484.1" cy="211.2" rx="4.0" ry="2.8" transform="rotate(-134 484.1 211.2)" fill="url(#sg1)"/>
<ellipse cx="490.2" cy="218.4" rx="4.0" ry="2.8" transform="rotate(-174 490.2 218.4)" fill="url(#sg1)"/>
<ellipse cx="489.2" cy="225.5" rx="4.0" ry="2.8" transform="rotate(106 489.2 225.5)" fill="url(#sg1)"/>
<ellipse cx="499.4" cy="215.3" rx="4.0" ry="2.8" transform="rotate(177 499.4 215.3)" fill="url(#sg0)"/>
<ellipse cx="508.6" cy="217.4" rx="4.0" ry="2.8" transform="rotate(158 508.6 217.4)" fill="url(#sg0)"/>
<ellipse cx="507.6" cy="227.6" rx="4.0" ry="2.8" transform="rotate(122 507.6 227.6)" fill="url(#sg0)"/>
<ellipse cx="515.8" cy="209.2" rx="4.0" ry="2.8" transform="rotate(-90 515.8 209.2)" fill="url(#sg1)"/>
<ellipse cx="516.8" cy="224.5" rx="4.0" ry="2.8" transform="rotate(84 516.8 224.5)" fill="url(#sg2)"/>
<ellipse cx="538.2" cy="215.3" rx="4.0" ry="2.8" transform="rotate(-152 538.2 215.3)" fill="url(#sg1)"/>
<ellipse cx="545.4" cy="211.2" rx="4.0" ry="2.8" transform="rotate(-46 545.4 211.2)" fill="url(#sg1)"/>
<ellipse cx="535.2" cy="226.6" rx="4.0" ry="2.8" transform="rotate(117 535.2 226.6)" fill="url(#sg1)"/>
<ellipse cx="546.4" cy="224.5" rx="4.0" ry="2.8" transform="rotate(53 546.4 224.5)" fill="url(#sg2)"/>
<ellipse cx="555.6" cy="212.3" rx="4.0" ry="2.8" transform="rotate(-127 555.6 212.3)" fill="url(#sg0)"/>
<ellipse cx="565.8" cy="216.3" rx="4.0" ry="2.8" transform="rotate(-1 565.8 216.3)" fill="url(#sg1)"/>
<ellipse cx="559.7" cy="225.5" rx="4.0" ry="2.8" transform="rotate(84 559.7 225.5)" fill="url(#sg1)"/>
<ellipse cx="573.0" cy="212.3" rx="4.0" ry="2.8" transform="rotate(-150 573.0 212.3)" fill="url(#sg1)"/>
<ellipse cx="578.1" cy="218.4" rx="4.0" ry="2.8" transform="rotate(135 578.1 218.4)" fill="url(#sg1)"/>
<ellipse cx="586.3" cy="221.5" rx="4.0" ry="2.8" transform="rotate(39 586.3 221.5)" fill="url(#sg0)"/>
<ellipse cx="597.5" cy="212.3" rx="4.0" ry="2.8" transform="rotate(-81 597.5 212.3)" fill="url(#sg1)"/>
<ellipse cx="603.6" cy="214.3" rx="4.0" ry="2.8" transform="rotate(-31 603.6 214.3)" fill="url(#sg0)"/>
<ellipse cx="594.4" cy="222.5" rx="4.0" ry="2.8" transform="rotate(118 594.4 222.5)" fill="url(#sg1)"/>
<ellipse cx="591.4" cy="225.5" rx="4.0" ry="2.8" transform="rotate(126 591.4 225.5)" fill="url(#sg1)"/>
<ellipse cx="358.3" cy="278.4" rx="6.2" ry="4.1" transform="rotate(-134 358.3 278.4)" fill="url(#sg1)"/>
<ellipse cx="368.5" cy="280.4" rx="6.2" ry="4.1" transform="rotate(-20 368.5 280.4)" fill="url(#sg0)"/>
<ellipse cx="372.6" cy="288.6" rx="4.7" ry="3.0" transform="rotate(30 372.6 288.6)" fill="url(#sg0)"/>
<ellipse cx="360.3" cy="285.5" rx="4.7" ry="3.0" transform="rotate(126 360.3 285.5)" fill="url(#sg2)"/>
<ellipse cx="381.8" cy="269.2" rx="6.8" ry="5.4" transform="rotate(-74 381.8 269.2)" fill="url(#sg0)"/>
<ellipse cx="383.8" cy="291.7" rx="4.7" ry="3.0" transform="rotate(75 383.8 291.7)" fill="url(#sg2)"/>
<ellipse cx="367.5" cy="272.3" rx="4.7" ry="3.0" transform="rotate(-161 367.5 272.3)" fill="url(#sg1)"/>
<ellipse cx="404.3" cy="271.2" rx="6.8" ry="5.4" transform="rotate(-61 404.3 271.2)" fill="url(#sg1)"/>
<ellipse cx="411.4" cy="271.2" rx="6.2" ry="4.1" transform="rotate(-37 411.4 271.2)" fill="url(#sg1)"/>
<ellipse cx="394.0" cy="284.5" rx="4.7" ry="3.0" transform="rotate(142 394.0 284.5)" fill="url(#sg0)"/>
<ellipse cx="405.3" cy="292.7" rx="3.9" ry="2.5" transform="rotate(63 405.3 292.7)" fill="url(#sg1)"/>
<ellipse cx="417.6" cy="271.2" rx="6.2" ry="4.1" transform="rotate(-134 417.6 271.2)" fill="url(#sg1)"/>
<ellipse cx="432.9" cy="272.3" rx="6.8" ry="5.4" transform="rotate(-22 432.9 272.3)" fill="url(#sg2)"/>
<ellipse cx="423.7" cy="278.4" rx="4.7" ry="3.0" transform="rotate(62 423.7 278.4)" fill="url(#sg0)"/>
<ellipse cx="418.6" cy="290.7" rx="4.7" ry="3.0" transform="rotate(106 418.6 290.7)" fill="url(#sg1)"/>
<ellipse cx="453.3" cy="269.2" rx="6.8" ry="5.4" transform="rotate(-69 453.3 269.2)" fill="url(#sg1)"/>
<ellipse cx="447.2" cy="276.3" rx="6.2" ry="4.1" transform="rotate(155 447.2 276.3)" fill="url(#sg1)"/>
<ellipse cx="445.1" cy="293.7" rx="4.7" ry="3.0" transform="rotate(108 445.1 293.7)" fill="url(#sg0)"/>
<ellipse cx="455.4" cy="286.6" rx="4.7" ry="3.0" transform="rotate(71 455.4 286.6)" fill="url(#sg1)"/>
<ellipse cx="469.7" cy="279.4" rx="6.2" ry="4.1" transform="rotate(-90 469.7 279.4)" fill="url(#sg0)"/>
<ellipse cx="475.8" cy="281.5" rx="4.7" ry="3.0" transform="rotate(-27 475.8 281.5)" fill="url(#sg0)"/>
<ellipse cx="461.5" cy="292.7" rx="4.7" ry="3.0" transform="rotate(135 461.5 292.7)" fill="url(#sg2)"/>
<ellipse cx="471.7" cy="292.7" rx="4.7" ry="3.0" transform="rotate(76 471.7 292.7)" fill="url(#sg1)"/>
<ellipse cx="481.9" cy="288.6" rx="4.7" ry="3.0" transform="rotate(18 481.9 288.6)" fill="url(#sg2)"/>
<ellipse cx="474.1" cy="280.4" rx="4.7" ry="3.0" transform="rotate(-79 474.1 280.4)" fill="url(#sg0)"/>
<ellipse cx="472.0" cy="292.7" rx="4.7" ry="3.0" transform="rotate(90 472.0 292.7)" fill="url(#sg0)"/>
<ellipse cx="480.2" cy="287.6" rx="4.7" ry="3.0" transform="rotate(-21 480.2 287.6)" fill="url(#sg1)"/>
<ellipse cx="488.4" cy="277.4" rx="6.2" ry="4.1" transform="rotate(-79 488.4 277.4)" fill="url(#sg1)"/>
<ellipse cx="496.6" cy="270.2" rx="6.2" ry="4.1" transform="rotate(-53 496.6 270.2)" fill="url(#sg2)"/>
<ellipse cx="495.5" cy="280.4" rx="6.2" ry="4.1" transform="rotate(-15 495.5 280.4)" fill="url(#sg1)"/>
<ellipse cx="481.2" cy="288.6" rx="4.7" ry="3.0" transform="rotate(136 481.2 288.6)" fill="url(#sg0)"/>
<ellipse cx="515.0" cy="281.5" rx="6.2" ry="4.1" transform="rotate(-47 515.0 281.5)" fill="url(#sg1)"/>
<ellipse cx="513.9" cy="293.7" rx="5.4" ry="3.5" transform="rotate(-6 513.9 293.7)" fill="url(#sg1)"/>
<ellipse cx="515.0" cy="303.9" rx="6.1" ry="4.7" transform="rotate(36 515.0 303.9)" fill="url(#sg0)"/>
<ellipse cx="500.7" cy="295.8" rx="4.7" ry="3.0" transform="rotate(153 500.7 295.8)" fill="url(#sg2)"/>
<ellipse cx="541.5" cy="272.3" rx="6.2" ry="4.1" transform="rotate(-105 541.5 272.3)" fill="url(#sg1)"/>
<ellipse cx="533.4" cy="274.3" rx="4.7" ry="3.0" transform="rotate(-167 533.4 274.3)" fill="url(#sg2)"/>
<ellipse cx="554.8" cy="284.5" rx="5.4" ry="3.5" transform="rotate(34 554.8 284.5)" fill="url(#sg2)"/>
<ellipse cx="566.1" cy="274.3" rx="6.2" ry="4.1" transform="rotate(-63 566.1 274.3)" fill="url(#sg0)"/>
<ellipse cx="555.8" cy="279.4" rx="5.4" ry="3.5" transform="rotate(-171 555.8 279.4)" fill="url(#sg2)"/>
<ellipse cx="566.1" cy="291.7" rx="5.4" ry="3.5" transform="rotate(75 566.1 291.7)" fill="url(#sg0)"/>
<ellipse cx="553.8" cy="284.5" rx="4.7" ry="3.0" transform="rotate(157 553.8 284.5)" fill="url(#sg0)"/>
<ellipse cx="575.7" cy="268.7" rx="6.2" ry="4.1" transform="rotate(-112 575.7 268.7)" fill="url(#sg2)"/>
<ellipse cx="588.4" cy="273.6" rx="6.2" ry="4.1" transform="rotate(-29 588.4 273.6)" fill="url(#sg1)"/>
<ellipse cx="571.7" cy="285.3" rx="5.4" ry="3.5" transform="rotate(139 571.7 285.3)" fill="url(#sg1)"/>
<ellipse cx="583.5" cy="283.4" rx="5.4" ry="3.5" transform="rotate(52 583.5 283.4)" fill="url(#sg2)"/>
<ellipse cx="601.1" cy="282.4" rx="6.2" ry="4.1" transform="rotate(-38 601.1 282.4)" fill="url(#sg0)"/>
<ellipse cx="608.9" cy="285.3" rx="6.2" ry="4.1" transform="rotate(-4 608.9 285.3)" fill="url(#sg2)"/>
<ellipse cx="600.1" cy="292.2" rx="4.7" ry="3.0" transform="rotate(57 600.1 292.2)" fill="url(#sg1)"/>
<ellipse cx="356.2" cy="354.4" rx="5.4" ry="3.5" transform="rotate(173 356.2 354.4)" fill="url(#sg1)"/>
<ellipse cx="361.4" cy="346.2" rx="5.4" ry="4.1" transform="rotate(-105 361.4 346.2)" fill="url(#sg0)"/>
<ellipse cx="355.2" cy="360.5" rx="4.7" ry="3.0" transform="rotate(140 355.2 360.5)" fill="url(#sg2)"/>
<ellipse cx="364.4" cy="366.7" rx="4.7" ry="3.0" transform="rotate(86 364.4 366.7)" fill="url(#sg0)"/>
<ellipse cx="370.5" cy="355.4" rx="5.4" ry="3.5" transform="rotate(15 370.5 355.4)" fill="url(#sg0)"/>
<ellipse cx="377.7" cy="351.3" rx="5.4" ry="3.5" transform="rotate(-152 377.7 351.3)" fill="url(#sg1)"/>
<ellipse cx="387.9" cy="348.3" rx="5.4" ry="4.1" transform="rotate(-75 387.9 348.3)" fill="url(#sg1)"/>
<ellipse cx="384.9" cy="361.6" rx="4.7" ry="3.0" transform="rotate(100 384.9 361.6)" fill="url(#sg1)"/>
<ellipse cx="375.7" cy="357.5" rx="4.7" ry="3.0" transform="rotate(170 375.7 357.5)" fill="url(#sg1)"/>
<ellipse cx="398.1" cy="344.2" rx="5.4" ry="4.1" transform="rotate(-125 398.1 344.2)" fill="url(#sg1)"/>
<ellipse cx="404.3" cy="350.3" rx="5.4" ry="3.5" transform="rotate(-50 404.3 350.3)" fill="url(#sg1)"/>
<ellipse cx="395.1" cy="365.7" rx="5.4" ry="3.5" transform="rotate(120 395.1 365.7)" fill="url(#sg2)"/>
<ellipse cx="406.3" cy="368.7" rx="3.9" ry="2.5" transform="rotate(80 406.3 368.7)" fill="url(#sg2)"/>
<ellipse cx="416.5" cy="351.3" rx="6.1" ry="4.7" transform="rotate(-1 416.5 351.3)" fill="url(#sg2)"/>
<ellipse cx="432.9" cy="346.2" rx="6.2" ry="4.1" transform="rotate(-67 432.9 346.2)" fill="url(#sg1)"/>
<ellipse cx="431.9" cy="354.4" rx="5.4" ry="3.5" transform="rotate(21 431.9 354.4)" fill="url(#sg1)"/>
<ellipse cx="422.7" cy="368.7" rx="6.2" ry="4.1" transform="rotate(115 422.7 368.7)" fill="url(#sg2)"/>
<ellipse cx="442.1" cy="369.7" rx="4.7" ry="3.0" transform="rotate(53 442.1 369.7)" fill="url(#sg0)"/>
<ellipse cx="455.4" cy="353.4" rx="4.7" ry="3.0" transform="rotate(-126 455.4 353.4)" fill="url(#sg1)"/>
<ellipse cx="451.3" cy="357.5" rx="4.7" ry="3.0" transform="rotate(-179 451.3 357.5)" fill="url(#sg1)"/>
<ellipse cx="467.6" cy="353.4" rx="4.7" ry="3.0" transform="rotate(-25 467.6 353.4)" fill="url(#sg2)"/>
<ellipse cx="459.4" cy="364.6" rx="4.7" ry="3.0" transform="rotate(82 459.4 364.6)" fill="url(#sg2)"/>
<ellipse cx="477.8" cy="352.4" rx="6.2" ry="4.1" transform="rotate(-108 477.8 352.4)" fill="url(#sg1)"/>
<ellipse cx="469.7" cy="358.5" rx="5.4" ry="3.5" transform="rotate(-173 469.7 358.5)" fill="url(#sg0)"/>
<ellipse cx="478.8" cy="368.7" rx="4.7" ry="3.0" transform="rotate(99 478.8 368.7)" fill="url(#sg0)"/>
<ellipse cx="493.5" cy="350.3" rx="6.2" ry="4.1" transform="rotate(-139 493.5 350.3)" fill="url(#sg2)"/>
<ellipse cx="487.4" cy="356.5" rx="5.4" ry="3.5" transform="rotate(176 487.4 356.5)" fill="url(#sg0)"/>
<ellipse cx="506.8" cy="355.4" rx="6.2" ry="4.1" transform="rotate(-2 506.8 355.4)" fill="url(#sg0)"/>
<ellipse cx="497.6" cy="366.7" rx="4.7" ry="3.0" transform="rotate(100 497.6 366.7)" fill="url(#sg0)"/>
<ellipse cx="524.2" cy="344.2" rx="6.8" ry="5.4" transform="rotate(-90 524.2 344.2)" fill="url(#sg2)"/>
<ellipse cx="520.1" cy="357.5" rx="5.4" ry="3.5" transform="rotate(124 520.1 357.5)" fill="url(#sg1)"/>
<ellipse cx="518.0" cy="372.8" rx="6.2" ry="4.1" transform="rotate(106 518.0 372.8)" fill="url(#sg2)"/>
<ellipse cx="525.2" cy="368.7" rx="4.7" ry="3.0" transform="rotate(87 525.2 368.7)" fill="url(#sg0)"/>
<ellipse cx="516.0" cy="377.9" rx="4.7" ry="3.0" transform="rotate(107 516.0 377.9)" fill="url(#sg1)"/>
<ellipse cx="539.5" cy="355.4" rx="4.7" ry="3.0" transform="rotate(-179 539.5 355.4)" fill="url(#sg1)"/>
<ellipse cx="546.6" cy="352.4" rx="5.4" ry="3.5" transform="rotate(-110 546.6 352.4)" fill="url(#sg1)"/>
<ellipse cx="553.8" cy="351.3" rx="4.7" ry="3.0" transform="rotate(-35 553.8 351.3)" fill="url(#sg1)"/>
<ellipse cx="555.8" cy="366.7" rx="4.7" ry="3.0" transform="rotate(54 555.8 366.7)" fill="url(#sg0)"/>
<ellipse cx="563.0" cy="345.2" rx="5.4" ry="4.7" transform="rotate(-126 563.0 345.2)" fill="url(#sg2)"/>
<ellipse cx="572.2" cy="347.3" rx="4.7" ry="3.0" transform="rotate(-64 572.2 347.3)" fill="url(#sg0)"/>
<ellipse cx="567.1" cy="357.5" rx="4.7" ry="3.0" transform="rotate(117 567.1 357.5)" fill="url(#sg0)"/>
<ellipse cx="580.4" cy="363.6" rx="5.4" ry="3.5" transform="rotate(42 580.4 363.6)" fill="url(#sg0)"/>
<ellipse cx="576.3" cy="367.7" rx="4.7" ry="3.0" transform="rotate(63 576.3 367.7)" fill="url(#sg0)"/>
<ellipse cx="591.6" cy="347.3" rx="5.4" ry="4.7" transform="rotate(-90 591.6 347.3)" fill="url(#sg1)"/>
<ellipse cx="600.8" cy="352.4" rx="5.4" ry="3.5" transform="rotate(-7 600.8 352.4)" fill="url(#sg2)"/>
<ellipse cx="594.7" cy="357.5" rx="4.7" ry="3.0" transform="rotate(52 594.7 357.5)" fill="url(#sg0)"/>
<ellipse cx="592.6" cy="371.8" rx="4.7" ry="3.0" transform="rotate(87 592.6 371.8)" fill="url(#sg1)"/>
<ellipse cx="580.6" cy="363.7" rx="4.7" ry="3.0" transform="rotate(137 580.6 363.7)" fill="url(#sg0)"/>
<ellipse cx="604.0" cy="352.9" rx="5.4" ry="3.5" transform="rotate(179 604.0 352.9)" fill="url(#sg1)"/>
<ellipse cx="618.7" cy="342.1" rx="5.4" ry="4.7" transform="rotate(-58 618.7 342.1)" fill="url(#sg1)"/>
<ellipse cx="621.7" cy="362.7" rx="6.2" ry="4.1" transform="rotate(45 621.7 362.7)" fill="url(#sg2)"/>
<ellipse cx="610.9" cy="349.0" rx="4.7" ry="3.0" transform="rotate(-105 610.9 349.0)" fill="url(#sg0)"/>
<rect x="345.0" y="25.5" width="324.0" height="1.7" fill="#c8221c"/>
<rect x="346.0" y="74.5" width="323.5" height="1.7" fill="#c8221c"/>
<rect x="346.0" y="82.2" width="325.0" height="1.7" fill="#c8221c"/>
<rect x="347.7" y="127.6" width="323.3" height="1.7" fill="#c8221c"/>
<rect x="348.5" y="140.1" width="323.1" height="1.7" fill="#c8221c"/>
<rect x="348.0" y="191.5" width="323.6" height="1.7" fill="#c8221c"/>
<rect x="349.0" y="203.2" width="323.0" height="1.7" fill="#c8221c"/>
<rect x="349.0" y="254.8" width="323.0" height="1.7" fill="#c8221c"/>
<rect x="350.0" y="262.2" width="323.0" height="1.7" fill="#c8221c"/>
<rect x="351.0" y="328.4" width="322.2" height="1.7" fill="#c8221c"/>
<rect x="352.0" y="336.2" width="323.5" height="1.7" fill="#c8221c"/>
<rect x="352.0" y="400.3" width="323.5" height="1.7" fill="#c8221c"/>
<polygon points="647.5,27.6 644.2,34.1 650.8,34.1" fill="#fff"/>
<rect x="647.0" y="33.6" width="1" height="6.4" fill="#fff"/>
<polygon points="647.5,72.8 644.2,66.3 650.8,66.3" fill="#fff"/>
<rect x="647.0" y="59.5" width="1" height="7.3" fill="#fff"/>
<text x="629" y="53.7" font-family="Liberation Sans" font-size="10.4" font-weight="bold" fill="#fff">67.6 mm</text>
<polygon points="647.5,84.2 644.2,90.7 650.8,90.7" fill="#fff"/>
<rect x="647.0" y="90.2" width="1" height="5.3" fill="#fff"/>
<polygon points="647.5,125.9 644.2,119.4 650.8,119.4" fill="#fff"/>
<rect x="647.0" y="115.0" width="1" height="4.9" fill="#fff"/>
<text x="629" y="109.2" font-family="Liberation Sans" font-size="10.4" font-weight="bold" fill="#fff">58.4 mm</text>
<polygon points="647.5,142.1 644.2,148.6 650.8,148.6" fill="#fff"/>
<rect x="647.0" y="148.1" width="1" height="8.4" fill="#fff"/>
<polygon points="647.5,189.8 644.2,183.3 650.8,183.3" fill="#fff"/>
<rect x="647.0" y="176.0" width="1" height="7.8" fill="#fff"/>
<text x="629" y="170.2" font-family="Liberation Sans" font-size="10.4" font-weight="bold" fill="#fff">76.3 mm</text>
<polygon points="647.5,205.2 644.2,211.7 650.8,211.7" fill="#fff"/>
<rect x="647.0" y="211.2" width="1" height="8.3" fill="#fff"/>
<polygon points="647.5,253.1 644.2,246.6 650.8,246.6" fill="#fff"/>
<rect x="647.0" y="239.0" width="1" height="8.1" fill="#fff"/>
<text x="629" y="233.2" font-family="Liberation Sans" font-size="10.4" font-weight="bold" fill="#fff">72.9 mm</text>
<polygon points="647.5,264.3 644.2,270.8 650.8,270.8" fill="#fff"/>
<rect x="647.0" y="270.3" width="1" height="15.7" fill="#fff"/>
<polygon points="647.5,326.8 644.2,320.3 650.8,320.3" fill="#fff"/>
<rect x="647.0" y="305.5" width="1" height="15.3" fill="#fff"/>
<text x="629" y="299.7" font-family="Liberation Sans" font-size="10.4" font-weight="bold" fill="#fff">109.2 mm</text>
<polygon points="647.5,338.3 644.2,344.8 650.8,344.8" fill="#fff"/>
<rect x="647.0" y="344.3" width="1" height="15.2" fill="#fff"/>
<polygon points="647.5,398.7 644.2,392.2 650.8,392.2" fill="#fff"/>
<rect x="647.0" y="379.0" width="1" height="13.7" fill="#fff"/>
<text x="629" y="373.2" font-family="Liberation Sans" font-size="10.4" font-weight="bold" fill="#fff">112.5 mm</text>
<rect x="266.2" y="5.8" width="21.7" height="2.2" fill="#fff"/>
<text x="266" y="18.9" font-family="Liberation Sans" font-size="10.2" font-weight="bold" fill="#fff">100 mm</text>
<rect x="636.6" y="5.6" width="21.2" height="2.1" fill="#fff"/>
<text x="635.6" y="20" font-family="Liberation Sans" font-size="10.2" font-weight="bold" fill="#fff">50 mm</text>
<text x="3.3" y="15.5" font-family="Liberation Sans" font-size="13" fill="#fff" stroke="#fff" stroke-width="0.45">(A)</text>
<text x="321.3" y="15.5" font-family="Liberation Sans" font-size="13" fill="#fff" stroke="#fff" stroke-width="0.45">(B)</text>
<text transform="translate(23.0 51.5) rotate(-90)" text-anchor="middle" font-family="Liberation Sans" font-size="12.5" font-weight="bold" fill="#fff">Untreated</text>
<text transform="translate(23.0 99.5) rotate(-90)" text-anchor="middle" font-family="Liberation Sans" font-size="12.5" font-weight="bold" fill="#fff">WP</text>
<text transform="translate(23.0 155.2) rotate(-90)" text-anchor="middle" font-family="Liberation Sans" font-size="12.5" font-weight="bold" fill="#fff">ATP</text>
<text transform="translate(23.0 222.4) rotate(-90)" text-anchor="middle" font-family="Liberation Sans" font-size="12.5" font-weight="bold" fill="#fff">K<tspan font-size="8.5" dy="3">2</tspan><tspan dy="-3">SO</tspan><tspan font-size="8.5" dy="3">4</tspan></text>
<text transform="translate(23.0 293.7) rotate(-90)" text-anchor="middle" font-family="Liberation Sans" font-size="12.5" font-weight="bold" fill="#fff">Product</text>
<text transform="translate(23.0 365.9) rotate(-90)" text-anchor="middle" font-family="Liberation Sans" font-size="12.5" font-weight="bold" fill="#fff">SRF</text>
<text transform="translate(336.0 51.3) rotate(-90)" text-anchor="middle" font-family="Liberation Sans" font-size="12.5" font-weight="bold" fill="#fff">Untreated</text>
<text transform="translate(336.0 99.9) rotate(-90)" text-anchor="middle" font-family="Liberation Sans" font-size="12.5" font-weight="bold" fill="#fff">WP</text>
<text transform="translate(338.5 160.2) rotate(-90)" text-anchor="middle" font-family="Liberation Sans" font-size="12.5" font-weight="bold" fill="#fff">ATP</text>
<text transform="translate(338.2 227.5) rotate(-90)" text-anchor="middle" font-family="Liberation Sans" font-size="12.5" font-weight="bold" fill="#fff">K<tspan font-size="8.5" dy="3">2</tspan><tspan dy="-3">SO</tspan><tspan font-size="8.5" dy="3">4</tspan></text>
<text transform="translate(338.2 297.8) rotate(-90)" text-anchor="middle" font-family="Liberation Sans" font-size="12.5" font-weight="bold" fill="#fff">Product</text>
<text transform="translate(338.2 368.3) rotate(-90)" text-anchor="middle" font-family="Liberation Sans" font-size="12.5" font-weight="bold" fill="#fff">SRF</text>
<rect x="51.7" y="492.8" width="14.6" height="88.4" fill="#7f7f7f" stroke="#595959" stroke-width="0.7"/>
<rect x="81.8" y="523.8" width="14.6" height="57.4" fill="#fb3a40" stroke="#8a3030" stroke-width="0.7"/>
<rect x="111.9" y="484.1" width="14.6" height="97.1" fill="#d8af3b" stroke="#8a7a3a" stroke-width="0.7"/>
<rect x="141.9" y="479.6" width="14.6" height="101.6" fill="#adfa3c" stroke="#6f8f3a" stroke-width="0.7"/>
<rect x="172.0" y="470.8" width="14.6" height="110.4" fill="#63e1d2" stroke="#3f8f88" stroke-width="0.7"/>
<rect x="202.1" y="466.3" width="14.6" height="114.9" fill="#55aaff" stroke="#3f6f9f" stroke-width="0.7"/>
<path d="M59.0 488.5V501.7M57.0 488.5H61.0" stroke="#333" stroke-width="0.8" fill="none"/>
<circle cx="57.6" cy="488.5" r="1.55" fill="#c8c8c8" stroke="#989898" stroke-width="0.8"/>
<circle cx="59.0" cy="488.5" r="1.55" fill="#c8c8c8" stroke="#989898" stroke-width="0.8"/>
<circle cx="59.7" cy="501.7" r="1.55" fill="#c8c8c8" stroke="#989898" stroke-width="0.8"/>
<path d="M89.1 515.0V528.2M87.1 515.0H91.1" stroke="#333" stroke-width="0.8" fill="none"/>
<circle cx="89.1" cy="515.0" r="1.55" fill="#f04848" stroke="#d81818" stroke-width="0.8"/>
<circle cx="87.0" cy="528.2" r="1.55" fill="#f04848" stroke="#d81818" stroke-width="0.8"/>
<circle cx="91.2" cy="528.2" r="1.55" fill="#f04848" stroke="#d81818" stroke-width="0.8"/>
<path d="M119.2 475.2V488.5M117.2 475.2H121.2" stroke="#333" stroke-width="0.8" fill="none"/>
<circle cx="117.8" cy="475.2" r="1.55" fill="#f4a450" stroke="#e88020" stroke-width="0.8"/>
<circle cx="119.2" cy="488.5" r="1.55" fill="#f4a450" stroke="#e88020" stroke-width="0.8"/>
<circle cx="119.9" cy="488.5" r="1.55" fill="#f4a450" stroke="#e88020" stroke-width="0.8"/>
<path d="M149.2 475.2V488.5M147.2 475.2H151.2" stroke="#333" stroke-width="0.8" fill="none"/>
<circle cx="147.1" cy="475.2" r="1.55" fill="#60f060" stroke="#28d828" stroke-width="0.8"/>
<circle cx="151.3" cy="475.2" r="1.55" fill="#60f060" stroke="#28d828" stroke-width="0.8"/>
<circle cx="149.2" cy="488.5" r="1.55" fill="#60f060" stroke="#28d828" stroke-width="0.8"/>
<path d="M179.3 462.0V475.2M177.3 462.0H181.3" stroke="#333" stroke-width="0.8" fill="none"/>
<circle cx="179.3" cy="462.0" r="1.55" fill="#88f0c0" stroke="#50e0a0" stroke-width="0.8"/>
<circle cx="177.9" cy="475.2" r="1.55" fill="#88f0c0" stroke="#50e0a0" stroke-width="0.8"/>
<circle cx="180.7" cy="475.2" r="1.55" fill="#88f0c0" stroke="#50e0a0" stroke-width="0.8"/>
<path d="M209.4 462.0V475.2M207.4 462.0H211.4" stroke="#333" stroke-width="0.8" fill="none"/>
<circle cx="209.4" cy="462.0" r="1.55" fill="#5858ff" stroke="#2020f0" stroke-width="0.8"/>
<circle cx="210.1" cy="464.6" r="1.55" fill="#5858ff" stroke="#2020f0" stroke-width="0.8"/>
<circle cx="209.4" cy="475.2" r="1.55" fill="#5858ff" stroke="#2020f0" stroke-width="0.8"/>
<text x="59.0" y="483.2" text-anchor="middle" font-family="Liberation Sans" font-size="12.5" font-weight="bold" fill="#000">c</text>
<text x="89.1" y="509.5" text-anchor="middle" font-family="Liberation Sans" font-size="12.5" font-weight="bold" fill="#000">d</text>
<text x="119.2" y="469.5" text-anchor="middle" font-family="Liberation Sans" font-size="12.5" font-weight="bold" fill="#000">bc</text>
<text x="149.2" y="469.5" text-anchor="middle" font-family="Liberation Sans" font-size="12.5" font-weight="bold" fill="#000">ab</text>
<text x="179.3" y="456.2" text-anchor="middle" font-family="Liberation Sans" font-size="12.5" font-weight="bold" fill="#000">a</text>
<text x="209.4" y="456.2" text-anchor="middle" font-family="Liberation Sans" font-size="12.5" font-weight="bold" fill="#000">a</text>
<rect x="44.0" y="436.0" width="180.3" height="145.2" fill="none" stroke="#000" stroke-width="2"/>
<rect x="45.0" y="580.6" width="1.2" height="1.2" fill="#000"/>
<text x="42.4" y="585.7" text-anchor="end" font-family="Liberation Sans" font-size="12.5" font-weight="bold" fill="#000">0</text>
<rect x="45.0" y="554.1" width="1.2" height="1.2" fill="#000"/>
<text x="42.4" y="559.2" text-anchor="end" font-family="Liberation Sans" font-size="12.5" font-weight="bold" fill="#000">20</text>
<rect x="45.0" y="527.6" width="1.2" height="1.2" fill="#000"/>
<text x="42.4" y="532.7" text-anchor="end" font-family="Liberation Sans" font-size="12.5" font-weight="bold" fill="#000">40</text>
<rect x="45.0" y="501.1" width="1.2" height="1.2" fill="#000"/>
<text x="42.4" y="506.2" text-anchor="end" font-family="Liberation Sans" font-size="12.5" font-weight="bold" fill="#000">60</text>
<rect x="45.0" y="474.6" width="1.2" height="1.2" fill="#000"/>
<text x="42.4" y="479.7" text-anchor="end" font-family="Liberation Sans" font-size="12.5" font-weight="bold" fill="#000">80</text>
<rect x="45.0" y="448.1" width="1.2" height="1.2" fill="#000"/>
<text x="42.4" y="453.2" text-anchor="end" font-family="Liberation Sans" font-size="12.5" font-weight="bold" fill="#000">100</text>
<text transform="translate(18.5 505.3) rotate(-90)" text-anchor="middle" font-family="Liberation Sans" font-size="13.0" font-weight="bold" fill="#000">Germination rate (%)</text>
<text x="5.1" y="439.5" font-family="Liberation Sans" font-size="13" fill="#000" stroke="#000" stroke-width="0.3">(C)</text>
<text x="50.5" y="449.0" font-family="Liberation Sans" font-size="12.5" font-weight="bold" fill="#000">n<tspan font-size="9" dy="3">pot</tspan><tspan dy="-3">=3</tspan></text>
<rect x="279.1" y="546.2" width="14.6" height="35.9" fill="#7f7f7f" stroke="#595959" stroke-width="0.7"/>
<rect x="308.9" y="564.4" width="14.6" height="17.8" fill="#fb3a40" stroke="#8a3030" stroke-width="0.7"/>
<rect x="338.7" y="542.2" width="14.6" height="39.9" fill="#d8af3b" stroke="#8a7a3a" stroke-width="0.7"/>
<rect x="368.5" y="518.2" width="14.6" height="63.9" fill="#adfa3c" stroke="#6f8f3a" stroke-width="0.7"/>
<rect x="398.3" y="489.8" width="14.6" height="92.3" fill="#63e1d2" stroke="#3f8f88" stroke-width="0.7"/>
<rect x="428.1" y="473.8" width="14.6" height="108.3" fill="#55aaff" stroke="#3f6f9f" stroke-width="0.7"/>
<path d="M286.4 538.4V553.7M284.4 538.4H288.4" stroke="#333" stroke-width="0.8" fill="none"/>
<circle cx="286.4" cy="538.4" r="1.55" fill="#c8c8c8" stroke="#989898" stroke-width="0.8"/>
<circle cx="286.4" cy="551.0" r="1.55" fill="#c8c8c8" stroke="#989898" stroke-width="0.8"/>
<circle cx="285.0" cy="550.1" r="1.55" fill="#c8c8c8" stroke="#989898" stroke-width="0.8"/>
<path d="M316.2 554.9V573.2M314.2 554.9H318.2" stroke="#333" stroke-width="0.8" fill="none"/>
<circle cx="316.2" cy="554.9" r="1.55" fill="#f04848" stroke="#d81818" stroke-width="0.8"/>
<circle cx="316.2" cy="567.0" r="1.55" fill="#f04848" stroke="#d81818" stroke-width="0.8"/>
<circle cx="316.9" cy="572.3" r="1.55" fill="#f04848" stroke="#d81818" stroke-width="0.8"/>
<path d="M346.0 537.4V547.8M344.0 537.4H348.0" stroke="#333" stroke-width="0.8" fill="none"/>
<circle cx="346.0" cy="537.4" r="1.55" fill="#f4a450" stroke="#e88020" stroke-width="0.8"/>
<circle cx="347.4" cy="541.3" r="1.55" fill="#f4a450" stroke="#e88020" stroke-width="0.8"/>
<circle cx="345.3" cy="547.8" r="1.55" fill="#f4a450" stroke="#e88020" stroke-width="0.8"/>
<path d="M375.8 511.8V528.0M373.8 511.8H377.8" stroke="#333" stroke-width="0.8" fill="none"/>
<circle cx="375.8" cy="511.8" r="1.55" fill="#60f060" stroke="#28d828" stroke-width="0.8"/>
<circle cx="377.9" cy="513.8" r="1.55" fill="#60f060" stroke="#28d828" stroke-width="0.8"/>
<circle cx="375.1" cy="528.0" r="1.55" fill="#60f060" stroke="#28d828" stroke-width="0.8"/>
<path d="M405.6 483.1V495.3M403.6 483.1H407.6" stroke="#333" stroke-width="0.8" fill="none"/>
<circle cx="405.6" cy="483.1" r="1.55" fill="#88f0c0" stroke="#50e0a0" stroke-width="0.8"/>
<circle cx="406.3" cy="486.2" r="1.55" fill="#88f0c0" stroke="#50e0a0" stroke-width="0.8"/>
<circle cx="404.9" cy="495.3" r="1.55" fill="#88f0c0" stroke="#50e0a0" stroke-width="0.8"/>
<path d="M435.4 466.4V482.3M433.4 466.4H437.4" stroke="#333" stroke-width="0.8" fill="none"/>
<circle cx="435.4" cy="466.4" r="1.55" fill="#5858ff" stroke="#2020f0" stroke-width="0.8"/>
<circle cx="435.4" cy="470.3" r="1.55" fill="#5858ff" stroke="#2020f0" stroke-width="0.8"/>
<circle cx="435.4" cy="482.3" r="1.55" fill="#5858ff" stroke="#2020f0" stroke-width="0.8"/>
<text x="286.4" y="532.8" text-anchor="middle" font-family="Liberation Sans" font-size="12.5" font-weight="bold" fill="#000">d</text>
<text x="316.2" y="548.9" text-anchor="middle" font-family="Liberation Sans" font-size="12.5" font-weight="bold" fill="#000">e</text>
<text x="346.0" y="531.4" text-anchor="middle" font-family="Liberation Sans" font-size="12.5" font-weight="bold" fill="#000">d</text>
<text x="375.8" y="508.3" text-anchor="middle" font-family="Liberation Sans" font-size="12.5" font-weight="bold" fill="#000">c</text>
<text x="405.6" y="477.8" text-anchor="middle" font-family="Liberation Sans" font-size="12.5" font-weight="bold" fill="#000">b</text>
<text x="435.4" y="462.0" text-anchor="middle" font-family="Liberation Sans" font-size="12.5" font-weight="bold" fill="#000">a</text>
<rect x="271.5" y="438.3" width="178.8" height="143.8" fill="none" stroke="#000" stroke-width="2"/>
<rect x="272.5" y="581.5" width="1.2" height="1.2" fill="#000"/>
<text x="266.5" y="586.6" text-anchor="end" font-family="Liberation Sans" font-size="12.5" font-weight="bold" fill="#000">0</text>
<rect x="272.5" y="546.0" width="1.2" height="1.2" fill="#000"/>
<text x="266.5" y="551.1" text-anchor="end" font-family="Liberation Sans" font-size="12.5" font-weight="bold" fill="#000">2</text>
<rect x="272.5" y="510.5" width="1.2" height="1.2" fill="#000"/>
<text x="266.5" y="515.6" text-anchor="end" font-family="Liberation Sans" font-size="12.5" font-weight="bold" fill="#000">4</text>
<rect x="272.5" y="475.0" width="1.2" height="1.2" fill="#000"/>
<text x="266.5" y="480.1" text-anchor="end" font-family="Liberation Sans" font-size="12.5" font-weight="bold" fill="#000">6</text>
<rect x="272.5" y="439.5" width="1.2" height="1.2" fill="#000"/>
<text x="266.5" y="444.6" text-anchor="end" font-family="Liberation Sans" font-size="12.5" font-weight="bold" fill="#000">8</text>
<text transform="translate(251.4 507.7) rotate(-90)" text-anchor="middle" font-family="Liberation Sans" font-size="12.8" font-weight="bold" fill="#000">Fresh weight (g)</text>
<text x="235.1" y="444.3" font-family="Liberation Sans" font-size="13" fill="#000" stroke="#000" stroke-width="0.3">(D)</text>
<text x="276.0" y="450.8" font-family="Liberation Sans" font-size="12.5" font-weight="bold" fill="#000">n<tspan font-size="9" dy="3">pot</tspan><tspan dy="-3">=3</tspan></text>
<rect x="509.9" y="558.3" width="14.6" height="23.8" fill="#7f7f7f" stroke="#595959" stroke-width="0.7"/>
<rect x="539.7" y="566.1" width="14.6" height="16.0" fill="#fb3a40" stroke="#8a3030" stroke-width="0.7"/>
<rect x="569.5" y="554.9" width="14.6" height="27.2" fill="#d8af3b" stroke="#8a7a3a" stroke-width="0.7"/>
<rect x="599.3" y="524.5" width="14.6" height="57.6" fill="#adfa3c" stroke="#6f8f3a" stroke-width="0.7"/>
<rect x="629.1" y="505.3" width="14.6" height="76.8" fill="#63e1d2" stroke="#3f8f88" stroke-width="0.7"/>
<rect x="658.9" y="485.3" width="14.6" height="96.8" fill="#55aaff" stroke="#3f6f9f" stroke-width="0.7"/>
<path d="M517.2 554.9V562.9M515.2 554.9H519.2" stroke="#333" stroke-width="0.8" fill="none"/>
<circle cx="517.2" cy="554.9" r="1.55" fill="#c8c8c8" stroke="#989898" stroke-width="0.8"/>
<circle cx="518.3" cy="555.7" r="1.55" fill="#c8c8c8" stroke="#989898" stroke-width="0.8"/>
<circle cx="516.5" cy="562.9" r="1.55" fill="#c8c8c8" stroke="#989898" stroke-width="0.8"/>
<path d="M547.0 554.3V572.5M545.0 554.3H549.0" stroke="#333" stroke-width="0.8" fill="none"/>
<circle cx="547.0" cy="554.3" r="1.55" fill="#f04848" stroke="#d81818" stroke-width="0.8"/>
<circle cx="545.9" cy="569.3" r="1.55" fill="#f04848" stroke="#d81818" stroke-width="0.8"/>
<circle cx="548.1" cy="572.5" r="1.55" fill="#f04848" stroke="#d81818" stroke-width="0.8"/>
<path d="M576.8 544.3V568.8M574.8 544.3H578.8" stroke="#333" stroke-width="0.8" fill="none"/>
<circle cx="576.8" cy="544.3" r="1.55" fill="#f4a450" stroke="#e88020" stroke-width="0.8"/>
<circle cx="576.1" cy="551.7" r="1.55" fill="#f4a450" stroke="#e88020" stroke-width="0.8"/>
<circle cx="576.8" cy="568.8" r="1.55" fill="#f4a450" stroke="#e88020" stroke-width="0.8"/>
<path d="M606.6 514.9V530.9M604.6 514.9H608.6" stroke="#333" stroke-width="0.8" fill="none"/>
<circle cx="606.6" cy="514.9" r="1.55" fill="#60f060" stroke="#28d828" stroke-width="0.8"/>
<circle cx="607.3" cy="527.7" r="1.55" fill="#60f060" stroke="#28d828" stroke-width="0.8"/>
<circle cx="605.9" cy="530.9" r="1.55" fill="#60f060" stroke="#28d828" stroke-width="0.8"/>
<path d="M636.4 494.1V511.7M634.4 494.1H638.4" stroke="#333" stroke-width="0.8" fill="none"/>
<circle cx="636.4" cy="494.1" r="1.55" fill="#88f0c0" stroke="#50e0a0" stroke-width="0.8"/>
<circle cx="636.4" cy="510.1" r="1.55" fill="#88f0c0" stroke="#50e0a0" stroke-width="0.8"/>
<circle cx="636.4" cy="511.7" r="1.55" fill="#88f0c0" stroke="#50e0a0" stroke-width="0.8"/>
<path d="M666.2 470.1V497.3M664.2 470.1H668.2" stroke="#333" stroke-width="0.8" fill="none"/>
<circle cx="666.2" cy="470.1" r="1.55" fill="#5858ff" stroke="#2020f0" stroke-width="0.8"/>
<circle cx="666.2" cy="486.1" r="1.55" fill="#5858ff" stroke="#2020f0" stroke-width="0.8"/>
<circle cx="666.2" cy="497.3" r="1.55" fill="#5858ff" stroke="#2020f0" stroke-width="0.8"/>
<text x="517.2" y="549.6" text-anchor="middle" font-family="Liberation Sans" font-size="12.5" font-weight="bold" fill="#000">bc</text>
<text x="547.0" y="548.9" text-anchor="middle" font-family="Liberation Sans" font-size="12.5" font-weight="bold" fill="#000">c</text>
<text x="576.8" y="539.1" text-anchor="middle" font-family="Liberation Sans" font-size="12.5" font-weight="bold" fill="#000">bc</text>
<text x="606.6" y="511.8" text-anchor="middle" font-family="Liberation Sans" font-size="12.5" font-weight="bold" fill="#000">abc</text>
<text x="636.4" y="488.7" text-anchor="middle" font-family="Liberation Sans" font-size="12.5" font-weight="bold" fill="#000">ab</text>
<text x="666.2" y="465.6" text-anchor="middle" font-family="Liberation Sans" font-size="12.5" font-weight="bold" fill="#000">a</text>
<rect x="502.7" y="437.9" width="177.5" height="144.2" fill="none" stroke="#000" stroke-width="2"/>
<rect x="503.7" y="581.5" width="1.2" height="1.2" fill="#000"/>
<text x="499.9" y="586.1" text-anchor="end" font-family="Liberation Sans" font-size="11.0" font-weight="bold" fill="#000">0.0</text>
<rect x="503.7" y="549.5" width="1.2" height="1.2" fill="#000"/>
<text x="499.9" y="554.1" text-anchor="end" font-family="Liberation Sans" font-size="11.0" font-weight="bold" fill="#000">0.2</text>
<rect x="503.7" y="517.5" width="1.2" height="1.2" fill="#000"/>
<text x="499.9" y="522.1" text-anchor="end" font-family="Liberation Sans" font-size="11.0" font-weight="bold" fill="#000">0.4</text>
<rect x="503.7" y="485.5" width="1.2" height="1.2" fill="#000"/>
<text x="499.9" y="490.1" text-anchor="end" font-family="Liberation Sans" font-size="11.0" font-weight="bold" fill="#000">0.6</text>
<rect x="503.7" y="453.5" width="1.2" height="1.2" fill="#000"/>
<text x="499.9" y="458.1" text-anchor="end" font-family="Liberation Sans" font-size="11.0" font-weight="bold" fill="#000">0.8</text>
<text transform="translate(478.9 507.9) rotate(-90)" text-anchor="middle" font-family="Liberation Sans" font-size="13.0" font-weight="bold" fill="#000">Dry weight (g)</text>
<text x="468.9" y="444.0" font-family="Liberation Sans" font-size="13" fill="#000" stroke="#000" stroke-width="0.3">(E)</text>
<text x="506.3" y="450.3" font-family="Liberation Sans" font-size="12.5" font-weight="bold" fill="#000">n<tspan font-size="9" dy="3">pot</tspan><tspan dy="-3">=3</tspan></text>
<rect x="51.9" y="679.9" width="14.6" height="63.0" fill="#7f7f7f" stroke="#595959" stroke-width="0.7"/>
<rect x="81.8" y="693.1" width="14.6" height="49.8" fill="#fb3a40" stroke="#8a3030" stroke-width="0.7"/>
<rect x="111.7" y="663.8" width="14.6" height="79.1" fill="#d8af3b" stroke="#8a7a3a" stroke-width="0.7"/>
<rect x="141.6" y="650.6" width="14.6" height="92.3" fill="#adfa3c" stroke="#6f8f3a" stroke-width="0.7"/>
<rect x="171.5" y="640.3" width="14.6" height="102.6" fill="#63e1d2" stroke="#3f8f88" stroke-width="0.7"/>
<rect x="201.4" y="630.1" width="14.6" height="112.8" fill="#55aaff" stroke="#3f6f9f" stroke-width="0.7"/>
<path d="M59.2 672.6V688.7M57.2 672.6H61.2" stroke="#333" stroke-width="0.8" fill="none"/>
<circle cx="57.6" cy="696.9" r="1.55" fill="#c8c8c8" stroke="#989898" stroke-width="0.8"/>
<circle cx="60.8" cy="694.7" r="1.55" fill="#c8c8c8" stroke="#989898" stroke-width="0.8"/>
<circle cx="60.4" cy="692.4" r="1.55" fill="#c8c8c8" stroke="#989898" stroke-width="0.8"/>
<circle cx="58.1" cy="690.2" r="1.55" fill="#c8c8c8" stroke="#989898" stroke-width="0.8"/>
<circle cx="59.2" cy="687.9" r="1.55" fill="#c8c8c8" stroke="#989898" stroke-width="0.8"/>
<circle cx="59.0" cy="685.7" r="1.55" fill="#c8c8c8" stroke="#989898" stroke-width="0.8"/>
<circle cx="59.9" cy="683.5" r="1.55" fill="#c8c8c8" stroke="#989898" stroke-width="0.8"/>
<circle cx="60.5" cy="681.2" r="1.55" fill="#c8c8c8" stroke="#989898" stroke-width="0.8"/>
<circle cx="57.4" cy="679.0" r="1.55" fill="#c8c8c8" stroke="#989898" stroke-width="0.8"/>
<circle cx="57.1" cy="676.8" r="1.55" fill="#c8c8c8" stroke="#989898" stroke-width="0.8"/>
<circle cx="60.7" cy="674.5" r="1.55" fill="#c8c8c8" stroke="#989898" stroke-width="0.8"/>
<circle cx="58.9" cy="672.3" r="1.55" fill="#c8c8c8" stroke="#989898" stroke-width="0.8"/>
<path d="M89.1 688.7V697.5M87.1 688.7H91.1" stroke="#333" stroke-width="0.8" fill="none"/>
<circle cx="91.1" cy="700.4" r="1.55" fill="#f04848" stroke="#d81818" stroke-width="0.8"/>
<circle cx="91.1" cy="699.3" r="1.55" fill="#f04848" stroke="#d81818" stroke-width="0.8"/>
<circle cx="87.1" cy="698.2" r="1.55" fill="#f04848" stroke="#d81818" stroke-width="0.8"/>
<circle cx="87.2" cy="697.1" r="1.55" fill="#f04848" stroke="#d81818" stroke-width="0.8"/>
<circle cx="90.6" cy="695.9" r="1.55" fill="#f04848" stroke="#d81818" stroke-width="0.8"/>
<circle cx="90.2" cy="694.8" r="1.55" fill="#f04848" stroke="#d81818" stroke-width="0.8"/>
<circle cx="89.9" cy="693.7" r="1.55" fill="#f04848" stroke="#d81818" stroke-width="0.8"/>
<circle cx="88.2" cy="692.6" r="1.55" fill="#f04848" stroke="#d81818" stroke-width="0.8"/>
<circle cx="89.6" cy="691.5" r="1.55" fill="#f04848" stroke="#d81818" stroke-width="0.8"/>
<circle cx="89.6" cy="690.3" r="1.55" fill="#f04848" stroke="#d81818" stroke-width="0.8"/>
<circle cx="89.5" cy="689.2" r="1.55" fill="#f04848" stroke="#d81818" stroke-width="0.8"/>
<circle cx="87.6" cy="688.1" r="1.55" fill="#f04848" stroke="#d81818" stroke-width="0.8"/>
<path d="M119.0 653.5V674.0M117.0 653.5H121.0" stroke="#333" stroke-width="0.8" fill="none"/>
<circle cx="117.8" cy="675.8" r="1.55" fill="#f4a450" stroke="#e88020" stroke-width="0.8"/>
<circle cx="119.2" cy="673.7" r="1.55" fill="#f4a450" stroke="#e88020" stroke-width="0.8"/>
<circle cx="118.4" cy="671.6" r="1.55" fill="#f4a450" stroke="#e88020" stroke-width="0.8"/>
<circle cx="119.5" cy="669.6" r="1.55" fill="#f4a450" stroke="#e88020" stroke-width="0.8"/>
<circle cx="119.6" cy="667.5" r="1.55" fill="#f4a450" stroke="#e88020" stroke-width="0.8"/>
<circle cx="117.1" cy="665.4" r="1.55" fill="#f4a450" stroke="#e88020" stroke-width="0.8"/>
<circle cx="116.8" cy="663.3" r="1.55" fill="#f4a450" stroke="#e88020" stroke-width="0.8"/>
<circle cx="120.5" cy="661.3" r="1.55" fill="#f4a450" stroke="#e88020" stroke-width="0.8"/>
<circle cx="117.9" cy="659.2" r="1.55" fill="#f4a450" stroke="#e88020" stroke-width="0.8"/>
<circle cx="117.8" cy="657.1" r="1.55" fill="#f4a450" stroke="#e88020" stroke-width="0.8"/>
<circle cx="121.2" cy="655.0" r="1.55" fill="#f4a450" stroke="#e88020" stroke-width="0.8"/>
<circle cx="118.9" cy="652.9" r="1.55" fill="#f4a450" stroke="#e88020" stroke-width="0.8"/>
<path d="M148.9 643.3V657.9M146.9 643.3H150.9" stroke="#333" stroke-width="0.8" fill="none"/>
<circle cx="147.7" cy="660.0" r="1.55" fill="#60f060" stroke="#28d828" stroke-width="0.8"/>
<circle cx="147.1" cy="658.4" r="1.55" fill="#60f060" stroke="#28d828" stroke-width="0.8"/>
<circle cx="148.4" cy="656.8" r="1.55" fill="#60f060" stroke="#28d828" stroke-width="0.8"/>
<circle cx="147.4" cy="655.2" r="1.55" fill="#60f060" stroke="#28d828" stroke-width="0.8"/>
<circle cx="147.0" cy="653.6" r="1.55" fill="#60f060" stroke="#28d828" stroke-width="0.8"/>
<circle cx="148.5" cy="652.1" r="1.55" fill="#60f060" stroke="#28d828" stroke-width="0.8"/>
<circle cx="150.8" cy="650.5" r="1.55" fill="#60f060" stroke="#28d828" stroke-width="0.8"/>
<circle cx="150.2" cy="648.9" r="1.55" fill="#60f060" stroke="#28d828" stroke-width="0.8"/>
<circle cx="150.1" cy="647.3" r="1.55" fill="#60f060" stroke="#28d828" stroke-width="0.8"/>
<circle cx="147.7" cy="645.7" r="1.55" fill="#60f060" stroke="#28d828" stroke-width="0.8"/>
<circle cx="149.1" cy="644.1" r="1.55" fill="#60f060" stroke="#28d828" stroke-width="0.8"/>
<circle cx="147.9" cy="642.5" r="1.55" fill="#60f060" stroke="#28d828" stroke-width="0.8"/>
<path d="M178.8 628.6V647.7M176.8 628.6H180.8" stroke="#333" stroke-width="0.8" fill="none"/>
<circle cx="179.4" cy="647.8" r="1.55" fill="#88f0c0" stroke="#50e0a0" stroke-width="0.8"/>
<circle cx="179.9" cy="645.9" r="1.55" fill="#88f0c0" stroke="#50e0a0" stroke-width="0.8"/>
<circle cx="180.1" cy="644.0" r="1.55" fill="#88f0c0" stroke="#50e0a0" stroke-width="0.8"/>
<circle cx="180.8" cy="642.1" r="1.55" fill="#88f0c0" stroke="#50e0a0" stroke-width="0.8"/>
<circle cx="179.9" cy="640.2" r="1.55" fill="#88f0c0" stroke="#50e0a0" stroke-width="0.8"/>
<circle cx="180.7" cy="638.2" r="1.55" fill="#88f0c0" stroke="#50e0a0" stroke-width="0.8"/>
<circle cx="176.7" cy="636.3" r="1.55" fill="#88f0c0" stroke="#50e0a0" stroke-width="0.8"/>
<circle cx="178.6" cy="634.4" r="1.55" fill="#88f0c0" stroke="#50e0a0" stroke-width="0.8"/>
<circle cx="180.8" cy="632.5" r="1.55" fill="#88f0c0" stroke="#50e0a0" stroke-width="0.8"/>
<circle cx="179.5" cy="630.6" r="1.55" fill="#88f0c0" stroke="#50e0a0" stroke-width="0.8"/>
<circle cx="180.6" cy="628.6" r="1.55" fill="#88f0c0" stroke="#50e0a0" stroke-width="0.8"/>
<circle cx="177.1" cy="626.7" r="1.55" fill="#88f0c0" stroke="#50e0a0" stroke-width="0.8"/>
<path d="M208.7 619.8V638.9M206.7 619.8H210.7" stroke="#333" stroke-width="0.8" fill="none"/>
<circle cx="210.0" cy="640.8" r="1.55" fill="#5858ff" stroke="#2020f0" stroke-width="0.8"/>
<circle cx="210.1" cy="638.7" r="1.55" fill="#5858ff" stroke="#2020f0" stroke-width="0.8"/>
<circle cx="208.6" cy="636.6" r="1.55" fill="#5858ff" stroke="#2020f0" stroke-width="0.8"/>
<circle cx="207.6" cy="634.6" r="1.55" fill="#5858ff" stroke="#2020f0" stroke-width="0.8"/>
<circle cx="206.5" cy="632.5" r="1.55" fill="#5858ff" stroke="#2020f0" stroke-width="0.8"/>
<circle cx="209.4" cy="630.4" r="1.55" fill="#5858ff" stroke="#2020f0" stroke-width="0.8"/>
<circle cx="208.6" cy="628.3" r="1.55" fill="#5858ff" stroke="#2020f0" stroke-width="0.8"/>
<circle cx="209.9" cy="626.2" r="1.55" fill="#5858ff" stroke="#2020f0" stroke-width="0.8"/>
<circle cx="208.1" cy="624.2" r="1.55" fill="#5858ff" stroke="#2020f0" stroke-width="0.8"/>
<circle cx="209.9" cy="622.1" r="1.55" fill="#5858ff" stroke="#2020f0" stroke-width="0.8"/>
<circle cx="207.7" cy="620.0" r="1.55" fill="#5858ff" stroke="#2020f0" stroke-width="0.8"/>
<circle cx="210.1" cy="617.9" r="1.55" fill="#5858ff" stroke="#2020f0" stroke-width="0.8"/>
<text x="59.2" y="665.3" text-anchor="middle" font-family="Liberation Sans" font-size="12.5" font-weight="bold" fill="#000">e</text>
<text x="89.1" y="680.4" text-anchor="middle" font-family="Liberation Sans" font-size="12.5" font-weight="bold" fill="#000">f</text>
<text x="119.0" y="647.8" text-anchor="middle" font-family="Liberation Sans" font-size="12.5" font-weight="bold" fill="#000">d</text>
<text x="148.9" y="637.3" text-anchor="middle" font-family="Liberation Sans" font-size="12.5" font-weight="bold" fill="#000">c</text>
<text x="178.8" y="621.5" text-anchor="middle" font-family="Liberation Sans" font-size="12.5" font-weight="bold" fill="#000">b</text>
<text x="208.7" y="614.5" text-anchor="middle" font-family="Liberation Sans" font-size="12.5" font-weight="bold" fill="#000">a</text>
<rect x="44.7" y="596.2" width="179.5" height="146.7" fill="none" stroke="#000" stroke-width="2"/>
<rect x="45.7" y="742.3" width="1.2" height="1.2" fill="#000"/>
<text x="42.5" y="747.4" text-anchor="end" font-family="Liberation Sans" font-size="12.5" font-weight="bold" fill="#000">0</text>
<rect x="45.7" y="713.0" width="1.2" height="1.2" fill="#000"/>
<text x="42.5" y="718.1" text-anchor="end" font-family="Liberation Sans" font-size="12.5" font-weight="bold" fill="#000">20</text>
<rect x="45.7" y="683.7" width="1.2" height="1.2" fill="#000"/>
<text x="42.5" y="688.8" text-anchor="end" font-family="Liberation Sans" font-size="12.5" font-weight="bold" fill="#000">40</text>
<rect x="45.7" y="654.4" width="1.2" height="1.2" fill="#000"/>
<text x="42.5" y="659.5" text-anchor="end" font-family="Liberation Sans" font-size="12.5" font-weight="bold" fill="#000">60</text>
<rect x="45.7" y="625.1" width="1.2" height="1.2" fill="#000"/>
<text x="42.5" y="630.2" text-anchor="end" font-family="Liberation Sans" font-size="12.5" font-weight="bold" fill="#000">80</text>
<rect x="45.7" y="595.8" width="1.2" height="1.2" fill="#000"/>
<text x="42.5" y="600.9" text-anchor="end" font-family="Liberation Sans" font-size="12.5" font-weight="bold" fill="#000">100</text>
<text transform="translate(18.3 667.9) rotate(-90)" text-anchor="middle" font-family="Liberation Sans" font-size="13.0" font-weight="bold" fill="#000">Plant length (mm)</text>
<text x="6.1" y="600.8" font-family="Liberation Sans" font-size="13" fill="#000" stroke="#000" stroke-width="0.3">(F)</text>
<text x="49.0" y="608.8" font-family="Liberation Sans" font-size="12.5" font-weight="bold" fill="#000">n<tspan font-size="9" dy="3">plant</tspan><tspan dy="-3">=12</tspan></text>
<text transform="translate(62.7 753.9) rotate(-45)" text-anchor="end" font-family="Liberation Sans" font-size="11" font-weight="bold" fill="#000">Untreated</text>
<text transform="translate(94.1 754.9) rotate(-45)" text-anchor="end" font-family="Liberation Sans" font-size="11" font-weight="bold" fill="#000">WP</text>
<text transform="translate(124.0 754.9) rotate(-45)" text-anchor="end" font-family="Liberation Sans" font-size="11" font-weight="bold" fill="#000">ATP</text>
<text transform="translate(157.9 751.9) rotate(-45)" text-anchor="end" font-family="Liberation Sans" font-size="11" font-weight="bold" fill="#000">K<tspan font-size="8" dy="2.5">2</tspan><tspan dy="-2.5">SO</tspan><tspan font-size="8" dy="2.5">4</tspan></text>
<text transform="translate(187.3 751.9) rotate(-45)" text-anchor="end" font-family="Liberation Sans" font-size="11" font-weight="bold" fill="#000">Product</text>
<text transform="translate(216.7 752.9) rotate(-45)" text-anchor="end" font-family="Liberation Sans" font-size="11" font-weight="bold" fill="#000">SRF</text>
<rect x="277.9" y="682.7" width="14.6" height="60.2" fill="#7f7f7f" stroke="#595959" stroke-width="0.7"/>
<rect x="307.8" y="682.0" width="14.6" height="60.9" fill="#fb3a40" stroke="#8a3030" stroke-width="0.7"/>
<rect x="337.7" y="671.6" width="14.6" height="71.3" fill="#d8af3b" stroke="#8a7a3a" stroke-width="0.7"/>
<rect x="367.6" y="665.5" width="14.6" height="77.4" fill="#adfa3c" stroke="#6f8f3a" stroke-width="0.7"/>
<rect x="397.5" y="656.2" width="14.6" height="86.7" fill="#63e1d2" stroke="#3f8f88" stroke-width="0.7"/>
<rect x="427.4" y="636.0" width="14.6" height="106.9" fill="#55aaff" stroke="#3f6f9f" stroke-width="0.7"/>
<path d="M285.2 674.1V691.3M283.2 674.1H287.2" stroke="#333" stroke-width="0.8" fill="none"/>
<circle cx="284.4" cy="695.2" r="1.55" fill="#c8c8c8" stroke="#989898" stroke-width="0.8"/>
<circle cx="283.6" cy="693.0" r="1.55" fill="#c8c8c8" stroke="#989898" stroke-width="0.8"/>
<circle cx="285.9" cy="690.8" r="1.55" fill="#c8c8c8" stroke="#989898" stroke-width="0.8"/>
<circle cx="283.3" cy="688.5" r="1.55" fill="#c8c8c8" stroke="#989898" stroke-width="0.8"/>
<circle cx="285.4" cy="686.3" r="1.55" fill="#c8c8c8" stroke="#989898" stroke-width="0.8"/>
<circle cx="284.6" cy="684.1" r="1.55" fill="#c8c8c8" stroke="#989898" stroke-width="0.8"/>
<circle cx="283.2" cy="681.8" r="1.55" fill="#c8c8c8" stroke="#989898" stroke-width="0.8"/>
<circle cx="285.2" cy="679.6" r="1.55" fill="#c8c8c8" stroke="#989898" stroke-width="0.8"/>
<circle cx="283.1" cy="677.4" r="1.55" fill="#c8c8c8" stroke="#989898" stroke-width="0.8"/>
<circle cx="284.9" cy="675.1" r="1.55" fill="#c8c8c8" stroke="#989898" stroke-width="0.8"/>
<circle cx="283.3" cy="672.9" r="1.55" fill="#c8c8c8" stroke="#989898" stroke-width="0.8"/>
<circle cx="283.4" cy="670.7" r="1.55" fill="#c8c8c8" stroke="#989898" stroke-width="0.8"/>
<path d="M315.1 674.1V691.3M313.1 674.1H317.1" stroke="#333" stroke-width="0.8" fill="none"/>
<circle cx="313.9" cy="690.1" r="1.55" fill="#f04848" stroke="#d81818" stroke-width="0.8"/>
<circle cx="317.2" cy="687.7" r="1.55" fill="#f04848" stroke="#d81818" stroke-width="0.8"/>
<circle cx="313.4" cy="685.4" r="1.55" fill="#f04848" stroke="#d81818" stroke-width="0.8"/>
<circle cx="316.0" cy="683.0" r="1.55" fill="#f04848" stroke="#d81818" stroke-width="0.8"/>
<circle cx="313.2" cy="680.7" r="1.55" fill="#f04848" stroke="#d81818" stroke-width="0.8"/>
<circle cx="314.0" cy="678.3" r="1.55" fill="#f04848" stroke="#d81818" stroke-width="0.8"/>
<circle cx="317.3" cy="676.0" r="1.55" fill="#f04848" stroke="#d81818" stroke-width="0.8"/>
<circle cx="313.8" cy="673.7" r="1.55" fill="#f04848" stroke="#d81818" stroke-width="0.8"/>
<circle cx="315.7" cy="671.3" r="1.55" fill="#f04848" stroke="#d81818" stroke-width="0.8"/>
<circle cx="314.9" cy="669.0" r="1.55" fill="#f04848" stroke="#d81818" stroke-width="0.8"/>
<circle cx="314.9" cy="666.6" r="1.55" fill="#f04848" stroke="#d81818" stroke-width="0.8"/>
<circle cx="315.1" cy="664.3" r="1.55" fill="#f04848" stroke="#d81818" stroke-width="0.8"/>
<path d="M345.0 656.9V691.3M343.0 656.9H347.0" stroke="#333" stroke-width="0.8" fill="none"/>
<circle cx="344.8" cy="691.8" r="1.55" fill="#f4a450" stroke="#e88020" stroke-width="0.8"/>
<circle cx="344.4" cy="688.5" r="1.55" fill="#f4a450" stroke="#e88020" stroke-width="0.8"/>
<circle cx="343.4" cy="685.3" r="1.55" fill="#f4a450" stroke="#e88020" stroke-width="0.8"/>
<circle cx="346.6" cy="682.0" r="1.55" fill="#f4a450" stroke="#e88020" stroke-width="0.8"/>
<circle cx="342.8" cy="678.7" r="1.55" fill="#f4a450" stroke="#e88020" stroke-width="0.8"/>
<circle cx="345.0" cy="675.5" r="1.55" fill="#f4a450" stroke="#e88020" stroke-width="0.8"/>
<circle cx="346.8" cy="672.2" r="1.55" fill="#f4a450" stroke="#e88020" stroke-width="0.8"/>
<circle cx="343.1" cy="669.0" r="1.55" fill="#f4a450" stroke="#e88020" stroke-width="0.8"/>
<circle cx="345.2" cy="665.7" r="1.55" fill="#f4a450" stroke="#e88020" stroke-width="0.8"/>
<circle cx="345.5" cy="662.4" r="1.55" fill="#f4a450" stroke="#e88020" stroke-width="0.8"/>
<circle cx="342.9" cy="659.2" r="1.55" fill="#f4a450" stroke="#e88020" stroke-width="0.8"/>
<circle cx="344.5" cy="655.9" r="1.55" fill="#f4a450" stroke="#e88020" stroke-width="0.8"/>
<path d="M374.9 659.4V671.6M372.9 659.4H376.9" stroke="#333" stroke-width="0.8" fill="none"/>
<circle cx="375.2" cy="672.4" r="1.55" fill="#60f060" stroke="#28d828" stroke-width="0.8"/>
<circle cx="374.6" cy="671.1" r="1.55" fill="#60f060" stroke="#28d828" stroke-width="0.8"/>
<circle cx="375.2" cy="669.8" r="1.55" fill="#60f060" stroke="#28d828" stroke-width="0.8"/>
<circle cx="373.6" cy="668.6" r="1.55" fill="#60f060" stroke="#28d828" stroke-width="0.8"/>
<circle cx="376.3" cy="667.3" r="1.55" fill="#60f060" stroke="#28d828" stroke-width="0.8"/>
<circle cx="376.3" cy="666.0" r="1.55" fill="#60f060" stroke="#28d828" stroke-width="0.8"/>
<circle cx="375.6" cy="664.7" r="1.55" fill="#60f060" stroke="#28d828" stroke-width="0.8"/>
<circle cx="373.4" cy="663.5" r="1.55" fill="#60f060" stroke="#28d828" stroke-width="0.8"/>
<circle cx="375.0" cy="662.2" r="1.55" fill="#60f060" stroke="#28d828" stroke-width="0.8"/>
<circle cx="374.1" cy="660.9" r="1.55" fill="#60f060" stroke="#28d828" stroke-width="0.8"/>
<circle cx="373.8" cy="659.7" r="1.55" fill="#60f060" stroke="#28d828" stroke-width="0.8"/>
<circle cx="376.9" cy="658.4" r="1.55" fill="#60f060" stroke="#28d828" stroke-width="0.8"/>
<path d="M404.8 647.1V664.3M402.8 647.1H406.8" stroke="#333" stroke-width="0.8" fill="none"/>
<circle cx="404.6" cy="665.5" r="1.55" fill="#88f0c0" stroke="#50e0a0" stroke-width="0.8"/>
<circle cx="405.1" cy="663.6" r="1.55" fill="#88f0c0" stroke="#50e0a0" stroke-width="0.8"/>
<circle cx="406.7" cy="661.7" r="1.55" fill="#88f0c0" stroke="#50e0a0" stroke-width="0.8"/>
<circle cx="404.6" cy="659.7" r="1.55" fill="#88f0c0" stroke="#50e0a0" stroke-width="0.8"/>
<circle cx="404.8" cy="657.8" r="1.55" fill="#88f0c0" stroke="#50e0a0" stroke-width="0.8"/>
<circle cx="405.2" cy="655.9" r="1.55" fill="#88f0c0" stroke="#50e0a0" stroke-width="0.8"/>
<circle cx="403.4" cy="654.0" r="1.55" fill="#88f0c0" stroke="#50e0a0" stroke-width="0.8"/>
<circle cx="404.9" cy="652.1" r="1.55" fill="#88f0c0" stroke="#50e0a0" stroke-width="0.8"/>
<circle cx="405.4" cy="650.1" r="1.55" fill="#88f0c0" stroke="#50e0a0" stroke-width="0.8"/>
<circle cx="406.1" cy="648.2" r="1.55" fill="#88f0c0" stroke="#50e0a0" stroke-width="0.8"/>
<circle cx="403.0" cy="646.3" r="1.55" fill="#88f0c0" stroke="#50e0a0" stroke-width="0.8"/>
<circle cx="403.9" cy="644.4" r="1.55" fill="#88f0c0" stroke="#50e0a0" stroke-width="0.8"/>
<path d="M434.7 625.0V647.1M432.7 625.0H436.7" stroke="#333" stroke-width="0.8" fill="none"/>
<circle cx="434.6" cy="647.8" r="1.55" fill="#5858ff" stroke="#2020f0" stroke-width="0.8"/>
<circle cx="435.4" cy="645.6" r="1.55" fill="#5858ff" stroke="#2020f0" stroke-width="0.8"/>
<circle cx="435.4" cy="643.4" r="1.55" fill="#5858ff" stroke="#2020f0" stroke-width="0.8"/>
<circle cx="433.1" cy="641.2" r="1.55" fill="#5858ff" stroke="#2020f0" stroke-width="0.8"/>
<circle cx="432.5" cy="639.0" r="1.55" fill="#5858ff" stroke="#2020f0" stroke-width="0.8"/>
<circle cx="434.1" cy="636.8" r="1.55" fill="#5858ff" stroke="#2020f0" stroke-width="0.8"/>
<circle cx="433.7" cy="634.5" r="1.55" fill="#5858ff" stroke="#2020f0" stroke-width="0.8"/>
<circle cx="436.1" cy="632.3" r="1.55" fill="#5858ff" stroke="#2020f0" stroke-width="0.8"/>
<circle cx="435.6" cy="630.1" r="1.55" fill="#5858ff" stroke="#2020f0" stroke-width="0.8"/>
<circle cx="435.2" cy="627.9" r="1.55" fill="#5858ff" stroke="#2020f0" stroke-width="0.8"/>
<circle cx="435.0" cy="625.7" r="1.55" fill="#5858ff" stroke="#2020f0" stroke-width="0.8"/>
<circle cx="435.4" cy="623.5" r="1.55" fill="#5858ff" stroke="#2020f0" stroke-width="0.8"/>
<text x="285.2" y="665.3" text-anchor="middle" font-family="Liberation Sans" font-size="12.5" font-weight="bold" fill="#000">e</text>
<text x="315.1" y="658.3" text-anchor="middle" font-family="Liberation Sans" font-size="12.5" font-weight="bold" fill="#000">e</text>
<text x="345.0" y="649.6" text-anchor="middle" font-family="Liberation Sans" font-size="12.5" font-weight="bold" fill="#000">d</text>
<text x="374.9" y="652.4" text-anchor="middle" font-family="Liberation Sans" font-size="12.5" font-weight="bold" fill="#000">c</text>
<text x="404.8" y="638.4" text-anchor="middle" font-family="Liberation Sans" font-size="12.5" font-weight="bold" fill="#000">b</text>
<text x="434.7" y="619.8" text-anchor="middle" font-family="Liberation Sans" font-size="12.5" font-weight="bold" fill="#000">a</text>
<rect x="270.5" y="595.5" width="179.7" height="147.4" fill="none" stroke="#000" stroke-width="2"/>
<rect x="271.5" y="742.3" width="1.2" height="1.2" fill="#000"/>
<text x="268.8" y="747.4" text-anchor="end" font-family="Liberation Sans" font-size="12.5" font-weight="bold" fill="#000">0</text>
<rect x="271.5" y="693.2" width="1.2" height="1.2" fill="#000"/>
<text x="268.8" y="698.3" text-anchor="end" font-family="Liberation Sans" font-size="12.5" font-weight="bold" fill="#000">20</text>
<rect x="271.5" y="644.0" width="1.2" height="1.2" fill="#000"/>
<text x="268.8" y="649.1" text-anchor="end" font-family="Liberation Sans" font-size="12.5" font-weight="bold" fill="#000">40</text>
<rect x="271.5" y="594.9" width="1.2" height="1.2" fill="#000"/>
<text x="268.8" y="600.0" text-anchor="end" font-family="Liberation Sans" font-size="12.5" font-weight="bold" fill="#000">60</text>
<text transform="translate(250.5 668.2) rotate(-90)" text-anchor="middle" font-family="Liberation Sans" font-size="13.0" font-weight="bold" fill="#000">Root length (mm)</text>
<text x="236.1" y="600.3" font-family="Liberation Sans" font-size="13" fill="#000" stroke="#000" stroke-width="0.3">(G)</text>
<text x="275.5" y="608.8" font-family="Liberation Sans" font-size="12.5" font-weight="bold" fill="#000">n<tspan font-size="9" dy="3">plant</tspan><tspan dy="-3">=12</tspan></text>
<text transform="translate(288.7 753.9) rotate(-45)" text-anchor="end" font-family="Liberation Sans" font-size="11" font-weight="bold" fill="#000">Untreated</text>
<text transform="translate(320.1 754.9) rotate(-45)" text-anchor="end" font-family="Liberation Sans" font-size="11" font-weight="bold" fill="#000">WP</text>
<text transform="translate(350.0 754.9) rotate(-45)" text-anchor="end" font-family="Liberation Sans" font-size="11" font-weight="bold" fill="#000">ATP</text>
<text transform="translate(383.9 751.9) rotate(-45)" text-anchor="end" font-family="Liberation Sans" font-size="11" font-weight="bold" fill="#000">K<tspan font-size="8" dy="2.5">2</tspan><tspan dy="-2.5">SO</tspan><tspan font-size="8" dy="2.5">4</tspan></text>
<text transform="translate(413.3 751.9) rotate(-45)" text-anchor="end" font-family="Liberation Sans" font-size="11" font-weight="bold" fill="#000">Product</text>
<text transform="translate(442.7 752.9) rotate(-45)" text-anchor="end" font-family="Liberation Sans" font-size="11" font-weight="bold" fill="#000">SRF</text>
<rect x="509.3" y="659.3" width="14.6" height="83.8" fill="#7f7f7f" stroke="#595959" stroke-width="0.7"/>
<rect x="539.1" y="663.3" width="14.6" height="79.8" fill="#fb3a40" stroke="#8a3030" stroke-width="0.7"/>
<rect x="568.9" y="659.3" width="14.6" height="83.8" fill="#d8af3b" stroke="#8a7a3a" stroke-width="0.7"/>
<rect x="598.7" y="656.6" width="14.6" height="86.5" fill="#adfa3c" stroke="#6f8f3a" stroke-width="0.7"/>
<rect x="628.5" y="648.7" width="14.6" height="94.4" fill="#63e1d2" stroke="#3f8f88" stroke-width="0.7"/>
<rect x="658.3" y="642.0" width="14.6" height="101.1" fill="#55aaff" stroke="#3f6f9f" stroke-width="0.7"/>
<path d="M516.6 650.0V666.0M514.6 650.0H518.6" stroke="#333" stroke-width="0.8" fill="none"/>
<circle cx="515.5" cy="661.7" r="1.55" fill="#c8c8c8" stroke="#989898" stroke-width="0.8"/>
<circle cx="517.4" cy="660.2" r="1.55" fill="#c8c8c8" stroke="#989898" stroke-width="0.8"/>
<circle cx="517.4" cy="658.8" r="1.55" fill="#c8c8c8" stroke="#989898" stroke-width="0.8"/>
<circle cx="518.2" cy="657.3" r="1.55" fill="#c8c8c8" stroke="#989898" stroke-width="0.8"/>
<circle cx="515.2" cy="655.8" r="1.55" fill="#c8c8c8" stroke="#989898" stroke-width="0.8"/>
<circle cx="515.4" cy="654.3" r="1.55" fill="#c8c8c8" stroke="#989898" stroke-width="0.8"/>
<circle cx="515.0" cy="652.9" r="1.55" fill="#c8c8c8" stroke="#989898" stroke-width="0.8"/>
<circle cx="515.4" cy="651.4" r="1.55" fill="#c8c8c8" stroke="#989898" stroke-width="0.8"/>
<circle cx="517.6" cy="649.9" r="1.55" fill="#c8c8c8" stroke="#989898" stroke-width="0.8"/>
<circle cx="514.9" cy="648.4" r="1.55" fill="#c8c8c8" stroke="#989898" stroke-width="0.8"/>
<circle cx="516.7" cy="647.0" r="1.55" fill="#c8c8c8" stroke="#989898" stroke-width="0.8"/>
<circle cx="515.3" cy="645.5" r="1.55" fill="#c8c8c8" stroke="#989898" stroke-width="0.8"/>
<path d="M546.4 652.7V673.9M544.4 652.7H548.4" stroke="#333" stroke-width="0.8" fill="none"/>
<circle cx="544.6" cy="674.2" r="1.55" fill="#f04848" stroke="#d81818" stroke-width="0.8"/>
<circle cx="547.3" cy="671.8" r="1.55" fill="#f04848" stroke="#d81818" stroke-width="0.8"/>
<circle cx="547.1" cy="669.4" r="1.55" fill="#f04848" stroke="#d81818" stroke-width="0.8"/>
<circle cx="548.4" cy="667.0" r="1.55" fill="#f04848" stroke="#d81818" stroke-width="0.8"/>
<circle cx="545.4" cy="664.6" r="1.55" fill="#f04848" stroke="#d81818" stroke-width="0.8"/>
<circle cx="545.3" cy="662.2" r="1.55" fill="#f04848" stroke="#d81818" stroke-width="0.8"/>
<circle cx="547.4" cy="659.8" r="1.55" fill="#f04848" stroke="#d81818" stroke-width="0.8"/>
<circle cx="547.1" cy="657.4" r="1.55" fill="#f04848" stroke="#d81818" stroke-width="0.8"/>
<circle cx="545.5" cy="655.1" r="1.55" fill="#f04848" stroke="#d81818" stroke-width="0.8"/>
<circle cx="547.2" cy="652.7" r="1.55" fill="#f04848" stroke="#d81818" stroke-width="0.8"/>
<circle cx="545.9" cy="650.3" r="1.55" fill="#f04848" stroke="#d81818" stroke-width="0.8"/>
<circle cx="547.6" cy="647.9" r="1.55" fill="#f04848" stroke="#d81818" stroke-width="0.8"/>
<path d="M576.2 650.0V668.6M574.2 650.0H578.2" stroke="#333" stroke-width="0.8" fill="none"/>
<circle cx="578.3" cy="671.3" r="1.55" fill="#f4a450" stroke="#e88020" stroke-width="0.8"/>
<circle cx="574.0" cy="668.8" r="1.55" fill="#f4a450" stroke="#e88020" stroke-width="0.8"/>
<circle cx="577.3" cy="666.4" r="1.55" fill="#f4a450" stroke="#e88020" stroke-width="0.8"/>
<circle cx="574.7" cy="664.0" r="1.55" fill="#f4a450" stroke="#e88020" stroke-width="0.8"/>
<circle cx="578.4" cy="661.5" r="1.55" fill="#f4a450" stroke="#e88020" stroke-width="0.8"/>
<circle cx="574.0" cy="659.1" r="1.55" fill="#f4a450" stroke="#e88020" stroke-width="0.8"/>
<circle cx="577.9" cy="656.6" r="1.55" fill="#f4a450" stroke="#e88020" stroke-width="0.8"/>
<circle cx="577.0" cy="654.2" r="1.55" fill="#f4a450" stroke="#e88020" stroke-width="0.8"/>
<circle cx="577.8" cy="651.7" r="1.55" fill="#f4a450" stroke="#e88020" stroke-width="0.8"/>
<circle cx="578.4" cy="649.3" r="1.55" fill="#f4a450" stroke="#e88020" stroke-width="0.8"/>
<circle cx="575.0" cy="646.9" r="1.55" fill="#f4a450" stroke="#e88020" stroke-width="0.8"/>
<circle cx="575.5" cy="644.4" r="1.55" fill="#f4a450" stroke="#e88020" stroke-width="0.8"/>
<path d="M606.0 650.0V663.3M604.0 650.0H608.0" stroke="#333" stroke-width="0.8" fill="none"/>
<circle cx="605.4" cy="661.7" r="1.55" fill="#60f060" stroke="#28d828" stroke-width="0.8"/>
<circle cx="605.9" cy="660.3" r="1.55" fill="#60f060" stroke="#28d828" stroke-width="0.8"/>
<circle cx="605.6" cy="659.0" r="1.55" fill="#60f060" stroke="#28d828" stroke-width="0.8"/>
<circle cx="605.8" cy="657.6" r="1.55" fill="#60f060" stroke="#28d828" stroke-width="0.8"/>
<circle cx="605.6" cy="656.3" r="1.55" fill="#60f060" stroke="#28d828" stroke-width="0.8"/>
<circle cx="606.7" cy="654.9" r="1.55" fill="#60f060" stroke="#28d828" stroke-width="0.8"/>
<circle cx="604.9" cy="653.6" r="1.55" fill="#60f060" stroke="#28d828" stroke-width="0.8"/>
<circle cx="606.6" cy="652.2" r="1.55" fill="#60f060" stroke="#28d828" stroke-width="0.8"/>
<circle cx="603.8" cy="650.9" r="1.55" fill="#60f060" stroke="#28d828" stroke-width="0.8"/>
<circle cx="605.1" cy="649.5" r="1.55" fill="#60f060" stroke="#28d828" stroke-width="0.8"/>
<circle cx="605.3" cy="648.2" r="1.55" fill="#60f060" stroke="#28d828" stroke-width="0.8"/>
<circle cx="604.4" cy="646.8" r="1.55" fill="#60f060" stroke="#28d828" stroke-width="0.8"/>
<path d="M635.8 636.7V660.6M633.8 636.7H637.8" stroke="#333" stroke-width="0.8" fill="none"/>
<circle cx="635.9" cy="661.7" r="1.55" fill="#88f0c0" stroke="#50e0a0" stroke-width="0.8"/>
<circle cx="637.2" cy="658.9" r="1.55" fill="#88f0c0" stroke="#50e0a0" stroke-width="0.8"/>
<circle cx="637.9" cy="656.2" r="1.55" fill="#88f0c0" stroke="#50e0a0" stroke-width="0.8"/>
<circle cx="634.9" cy="653.4" r="1.55" fill="#88f0c0" stroke="#50e0a0" stroke-width="0.8"/>
<circle cx="637.0" cy="650.7" r="1.55" fill="#88f0c0" stroke="#50e0a0" stroke-width="0.8"/>
<circle cx="636.7" cy="647.9" r="1.55" fill="#88f0c0" stroke="#50e0a0" stroke-width="0.8"/>
<circle cx="636.5" cy="645.2" r="1.55" fill="#88f0c0" stroke="#50e0a0" stroke-width="0.8"/>
<circle cx="634.1" cy="642.4" r="1.55" fill="#88f0c0" stroke="#50e0a0" stroke-width="0.8"/>
<circle cx="633.7" cy="639.7" r="1.55" fill="#88f0c0" stroke="#50e0a0" stroke-width="0.8"/>
<circle cx="635.3" cy="636.9" r="1.55" fill="#88f0c0" stroke="#50e0a0" stroke-width="0.8"/>
<circle cx="636.9" cy="634.1" r="1.55" fill="#88f0c0" stroke="#50e0a0" stroke-width="0.8"/>
<circle cx="634.7" cy="631.4" r="1.55" fill="#88f0c0" stroke="#50e0a0" stroke-width="0.8"/>
<path d="M665.6 628.7V652.7M663.6 628.7H667.6" stroke="#333" stroke-width="0.8" fill="none"/>
<circle cx="664.2" cy="653.2" r="1.55" fill="#5858ff" stroke="#2020f0" stroke-width="0.8"/>
<circle cx="666.3" cy="650.7" r="1.55" fill="#5858ff" stroke="#2020f0" stroke-width="0.8"/>
<circle cx="664.9" cy="648.2" r="1.55" fill="#5858ff" stroke="#2020f0" stroke-width="0.8"/>
<circle cx="664.2" cy="645.7" r="1.55" fill="#5858ff" stroke="#2020f0" stroke-width="0.8"/>
<circle cx="665.6" cy="643.2" r="1.55" fill="#5858ff" stroke="#2020f0" stroke-width="0.8"/>
<circle cx="665.6" cy="640.7" r="1.55" fill="#5858ff" stroke="#2020f0" stroke-width="0.8"/>
<circle cx="665.5" cy="638.2" r="1.55" fill="#5858ff" stroke="#2020f0" stroke-width="0.8"/>
<circle cx="665.4" cy="635.8" r="1.55" fill="#5858ff" stroke="#2020f0" stroke-width="0.8"/>
<circle cx="664.5" cy="633.3" r="1.55" fill="#5858ff" stroke="#2020f0" stroke-width="0.8"/>
<circle cx="664.5" cy="630.8" r="1.55" fill="#5858ff" stroke="#2020f0" stroke-width="0.8"/>
<circle cx="666.5" cy="628.3" r="1.55" fill="#5858ff" stroke="#2020f0" stroke-width="0.8"/>
<circle cx="664.8" cy="625.8" r="1.55" fill="#5858ff" stroke="#2020f0" stroke-width="0.8"/>
<text x="516.6" y="640.8" text-anchor="middle" font-family="Liberation Sans" font-size="12.5" font-weight="bold" fill="#000">c</text>
<text x="546.4" y="640.8" text-anchor="middle" font-family="Liberation Sans" font-size="12.5" font-weight="bold" fill="#000">c</text>
<text x="576.2" y="639.8" text-anchor="middle" font-family="Liberation Sans" font-size="12.5" font-weight="bold" fill="#000">c</text>
<text x="606.0" y="640.8" text-anchor="middle" font-family="Liberation Sans" font-size="12.5" font-weight="bold" fill="#000">c</text>
<text x="635.8" y="625.0" text-anchor="middle" font-family="Liberation Sans" font-size="12.5" font-weight="bold" fill="#000">b</text>
<text x="665.6" y="619.8" text-anchor="middle" font-family="Liberation Sans" font-size="12.5" font-weight="bold" fill="#000">a</text>
<rect x="502.4" y="594.2" width="178.2" height="148.9" fill="none" stroke="#000" stroke-width="2"/>
<rect x="503.4" y="742.5" width="1.2" height="1.2" fill="#000"/>
<text x="499.3" y="747.6" text-anchor="end" font-family="Liberation Sans" font-size="12.5" font-weight="bold" fill="#000">0</text>
<rect x="503.4" y="689.3" width="1.2" height="1.2" fill="#000"/>
<text x="499.3" y="694.4" text-anchor="end" font-family="Liberation Sans" font-size="12.5" font-weight="bold" fill="#000">20</text>
<rect x="503.4" y="636.1" width="1.2" height="1.2" fill="#000"/>
<text x="499.3" y="641.2" text-anchor="end" font-family="Liberation Sans" font-size="12.5" font-weight="bold" fill="#000">40</text>
<text transform="translate(480.9 668.8) rotate(-90)" text-anchor="middle" font-family="Liberation Sans" font-size="13.0" font-weight="bold" fill="#000">Chlorophy (SPAD)</text>
<text x="468.9" y="601.0" font-family="Liberation Sans" font-size="13" fill="#000" stroke="#000" stroke-width="0.3">(H)</text>
<text x="505.3" y="607.3" font-family="Liberation Sans" font-size="12.5" font-weight="bold" fill="#000">n<tspan font-size="9" dy="3">plant</tspan><tspan dy="-3">=12</tspan></text>
<text transform="translate(520.1 754.1) rotate(-45)" text-anchor="end" font-family="Liberation Sans" font-size="11" font-weight="bold" fill="#000">Untreated</text>
<text transform="translate(551.4 755.1) rotate(-45)" text-anchor="end" font-family="Liberation Sans" font-size="11" font-weight="bold" fill="#000">WP</text>
<text transform="translate(581.2 755.1) rotate(-45)" text-anchor="end" font-family="Liberation Sans" font-size="11" font-weight="bold" fill="#000">ATP</text>
<text transform="translate(615.0 752.1) rotate(-45)" text-anchor="end" font-family="Liberation Sans" font-size="11" font-weight="bold" fill="#000">K<tspan font-size="8" dy="2.5">2</tspan><tspan dy="-2.5">SO</tspan><tspan font-size="8" dy="2.5">4</tspan></text>
<text transform="translate(644.3 752.1) rotate(-45)" text-anchor="end" font-family="Liberation Sans" font-size="11" font-weight="bold" fill="#000">Product</text>
<text transform="translate(673.6 753.1) rotate(-45)" text-anchor="end" font-family="Liberation Sans" font-size="11" font-weight="bold" fill="#000">SRF</text>
</svg>
</body></html>
